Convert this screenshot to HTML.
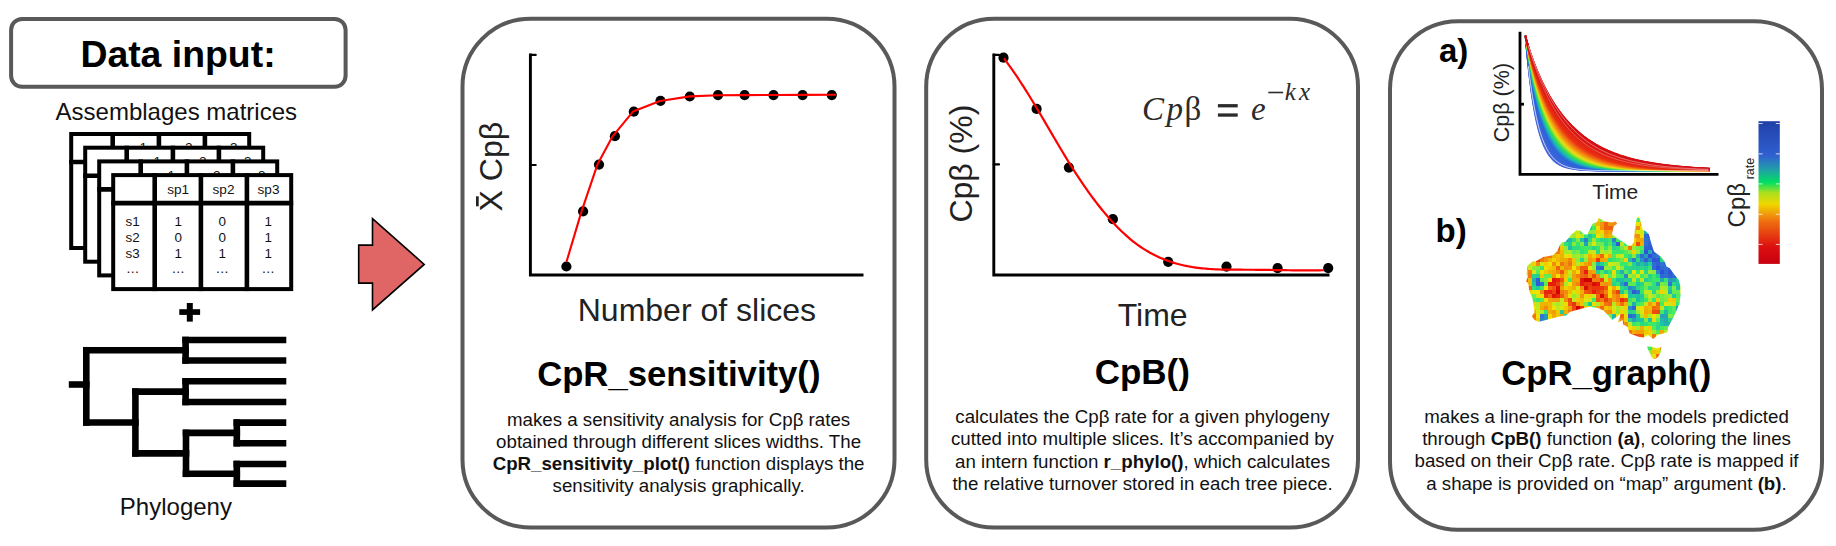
<!DOCTYPE html>
<html><head><meta charset="utf-8"><style>
html,body{margin:0;padding:0;background:#fff;width:1836px;height:546px;overflow:hidden}
svg{display:block}
text{font-family:"Liberation Sans",sans-serif}
.b{font-weight:bold}
</style></head><body>
<svg width="1836" height="546" viewBox="0 0 1836 546">
<rect width="1836" height="546" fill="#fff"/>

<rect x="11.1" y="18.9" width="334.5" height="67.9" rx="11" fill="none" stroke="#595959" stroke-width="4"/>
<text x="178" y="66.9" font-size="37.4" font-weight="bold" text-anchor="middle" fill="#000">Data input:</text>
<text x="176.3" y="119.8" font-size="24" text-anchor="middle" fill="#111">Assemblages matrices</text>
<rect x="71.2" y="134" width="178" height="114" fill="#fff" stroke="#000" stroke-width="4"/>
<text x="139.50000000000003" y="152.2" font-size="13.6" fill="#111">1</text>
<text x="184.9" y="152.2" font-size="13.6" fill="#111">2</text>
<text x="229.9" y="152.2" font-size="13.6" fill="#111">3</text>
<line x1="69.2" y1="162" x2="251.2" y2="162" stroke="#000" stroke-width="4.6"/>
<line x1="112.7" y1="132" x2="112.7" y2="250" stroke="#000" stroke-width="4.6"/>
<line x1="158.89999999999998" y1="132" x2="158.89999999999998" y2="250" stroke="#000" stroke-width="4.6"/>
<line x1="204.89999999999998" y1="132" x2="204.89999999999998" y2="250" stroke="#000" stroke-width="4.6"/>
<rect x="85.2" y="147.7" width="178" height="114" fill="#fff" stroke="#000" stroke-width="4"/>
<text x="153.50000000000003" y="165.89999999999998" font-size="13.6" fill="#111">1</text>
<text x="198.9" y="165.89999999999998" font-size="13.6" fill="#111">2</text>
<text x="243.9" y="165.89999999999998" font-size="13.6" fill="#111">3</text>
<line x1="83.2" y1="175.7" x2="265.2" y2="175.7" stroke="#000" stroke-width="4.6"/>
<line x1="126.7" y1="145.7" x2="126.7" y2="263.7" stroke="#000" stroke-width="4.6"/>
<line x1="172.89999999999998" y1="145.7" x2="172.89999999999998" y2="263.7" stroke="#000" stroke-width="4.6"/>
<line x1="218.89999999999998" y1="145.7" x2="218.89999999999998" y2="263.7" stroke="#000" stroke-width="4.6"/>
<rect x="99.2" y="161.4" width="178" height="114" fill="#fff" stroke="#000" stroke-width="4"/>
<text x="167.50000000000003" y="179.6" font-size="13.6" fill="#111">1</text>
<text x="212.9" y="179.6" font-size="13.6" fill="#111">2</text>
<text x="257.9" y="179.6" font-size="13.6" fill="#111">3</text>
<line x1="97.2" y1="189.4" x2="279.2" y2="189.4" stroke="#000" stroke-width="4.6"/>
<line x1="140.7" y1="159.4" x2="140.7" y2="277.4" stroke="#000" stroke-width="4.6"/>
<line x1="186.89999999999998" y1="159.4" x2="186.89999999999998" y2="277.4" stroke="#000" stroke-width="4.6"/>
<line x1="232.89999999999998" y1="159.4" x2="232.89999999999998" y2="277.4" stroke="#000" stroke-width="4.6"/>
<rect x="113.2" y="175.1" width="178" height="114" fill="#fff" stroke="#000" stroke-width="4"/>
<text x="178.10000000000002" y="193.79999999999998" font-size="13.6" text-anchor="middle" fill="#111">sp1</text>
<text x="223.5" y="193.79999999999998" font-size="13.6" text-anchor="middle" fill="#111">sp2</text>
<text x="268.5" y="193.79999999999998" font-size="13.6" text-anchor="middle" fill="#111">sp3</text>
<line x1="111.2" y1="203.1" x2="293.2" y2="203.1" stroke="#000" stroke-width="4.6"/>
<line x1="154.7" y1="173.1" x2="154.7" y2="291.1" stroke="#000" stroke-width="4.6"/>
<line x1="200.89999999999998" y1="173.1" x2="200.89999999999998" y2="291.1" stroke="#000" stroke-width="4.6"/>
<line x1="246.89999999999998" y1="173.1" x2="246.89999999999998" y2="291.1" stroke="#000" stroke-width="4.6"/>
<text x="132.60000000000002" y="225.5" font-size="13.4" text-anchor="middle" fill="#111">s1</text>
<text x="178.3" y="225.5" font-size="13.4" text-anchor="middle" fill="#111">1</text>
<text x="222.3" y="225.5" font-size="13.4" text-anchor="middle" fill="#111">0</text>
<text x="268.3" y="225.5" font-size="13.4" text-anchor="middle" fill="#111">1</text>
<text x="132.60000000000002" y="241.5" font-size="13.4" text-anchor="middle" fill="#111">s2</text>
<text x="178.3" y="241.5" font-size="13.4" text-anchor="middle" fill="#111">0</text>
<text x="222.3" y="241.5" font-size="13.4" text-anchor="middle" fill="#111">0</text>
<text x="268.3" y="241.5" font-size="13.4" text-anchor="middle" fill="#111">1</text>
<text x="132.60000000000002" y="257.5" font-size="13.4" text-anchor="middle" fill="#111">s3</text>
<text x="178.3" y="257.5" font-size="13.4" text-anchor="middle" fill="#111">1</text>
<text x="222.3" y="257.5" font-size="13.4" text-anchor="middle" fill="#111">1</text>
<text x="268.3" y="257.5" font-size="13.4" text-anchor="middle" fill="#111">1</text>
<text x="132.60000000000002" y="272.9" font-size="13.4" text-anchor="middle" fill="#111">…</text>
<text x="178.3" y="272.9" font-size="13.4" text-anchor="middle" fill="#111">…</text>
<text x="222.3" y="272.9" font-size="13.4" text-anchor="middle" fill="#111">…</text>
<text x="268.3" y="272.9" font-size="13.4" text-anchor="middle" fill="#111">…</text>
<rect x="179.3" y="309.2" width="20.8" height="5.7" fill="#000"/><rect x="186.8" y="303" width="6" height="18.6" fill="#000"/>
<g stroke="#000" stroke-width="6.6" stroke-linecap="square"><line x1="185.6" y1="340" x2="283" y2="340"/><line x1="185.6" y1="360.5" x2="283" y2="360.5"/><line x1="185.6" y1="340" x2="185.6" y2="360.5"/><line x1="185.6" y1="381.3" x2="283" y2="381.3"/><line x1="185.6" y1="402" x2="283" y2="402"/><line x1="185.6" y1="381.3" x2="185.6" y2="402"/><line x1="236.8" y1="422.6" x2="283" y2="422.6"/><line x1="236.8" y1="443.2" x2="283" y2="443.2"/><line x1="236.8" y1="422.6" x2="236.8" y2="443.2"/><line x1="236.8" y1="464" x2="283" y2="464"/><line x1="236.8" y1="483.6" x2="283" y2="483.6"/><line x1="236.8" y1="464" x2="236.8" y2="483.6"/><line x1="186" y1="432.9" x2="236.8" y2="432.9"/><line x1="186" y1="473.8" x2="236.8" y2="473.8"/><line x1="186" y1="432.9" x2="186" y2="473.8"/><line x1="135.4" y1="391.65" x2="185.6" y2="391.65"/><line x1="135.4" y1="453.35" x2="186" y2="453.35"/><line x1="135.4" y1="391.65" x2="135.4" y2="453.35"/><line x1="86.3" y1="350.25" x2="185.6" y2="350.25"/><line x1="86.3" y1="422.5" x2="135.4" y2="422.5"/><line x1="86.3" y1="350.25" x2="86.3" y2="422.5"/><line x1="72.1" y1="384.5" x2="86.3" y2="384.5"/></g>
<text x="175.9" y="514.8" font-size="24" text-anchor="middle" fill="#111">Phylogeny</text>
<polygon points="372.5,218.7 424.2,264.4 372.5,309.9 372.5,283.1 358.7,283.1 358.7,245.1 372.5,245.1" fill="#e06666" stroke="#000" stroke-width="1.6" stroke-linejoin="miter"/>
<rect x="462.5" y="18.7" width="432" height="508.9" rx="68" fill="none" stroke="#595959" stroke-width="4"/>
<rect x="926.2" y="18.7" width="431.8" height="508.9" rx="68" fill="none" stroke="#595959" stroke-width="4"/>
<rect x="1390" y="21.25" width="432" height="508.6" rx="68" fill="none" stroke="#595959" stroke-width="4"/>
<g stroke="#000" stroke-width="2.9" fill="none"><path d="M530.4,53.6 V275 H863.5"/></g><g stroke="#000" stroke-width="2.2" stroke-linecap="round"><line x1="530.4" y1="54.9" x2="535.7" y2="54.9"/><line x1="530.4" y1="165" x2="535.7" y2="165"/></g>
<g fill="#000"><circle cx="566.4" cy="266.5" r="5.1"/><circle cx="583.1" cy="211.4" r="5.1"/><circle cx="599" cy="164.6" r="5.1"/><circle cx="614.9" cy="136.2" r="5.1"/><circle cx="633.8" cy="111.7" r="5.1"/><circle cx="660.5" cy="100.8" r="5.1"/><circle cx="689.8" cy="96.5" r="5.1"/><circle cx="718" cy="95.1" r="5.1"/><circle cx="744.6" cy="95.1" r="5.1"/><circle cx="773.5" cy="95.1" r="5.1"/><circle cx="802.6" cy="95.1" r="5.1"/><circle cx="831.8" cy="95.1" r="5.1"/></g>
<polyline fill="none" stroke="#f00" stroke-width="2.1" stroke-linejoin="round" points="566.5,261.8 581.4,211.9 597.3,164.8 612.6,136.3 633.0,111.6 660.0,101.0 689.8,96.4 718.0,95.3 744.6,95.1 773.5,95.0 802.6,94.9 836.0,94.7"/>
<g transform="translate(501.6,211.4) rotate(-90)"><text x="0" y="0" font-size="32" fill="#222">X Cpβ</text><rect x="5.1" y="-25.6" width="10" height="2.7" fill="#222"/></g>
<text x="696.9" y="320.7" font-size="32" text-anchor="middle" fill="#222">Number of slices</text>
<text x="678.8" y="385.6" font-size="34.7" font-weight="bold" text-anchor="middle" fill="#000">CpR_sensitivity()</text>
<g font-size="18.7" text-anchor="middle" fill="#111"><text x="678.6" y="425.6">makes a sensitivity analysis for Cpβ rates</text><text x="678.6" y="447.8">obtained through different slices widths. The</text><text x="678.6" y="469.8"><tspan font-weight="bold">CpR_sensitivity_plot()</tspan> function displays the</text><text x="678.6" y="492.2">sensitivity analysis graphically.</text></g>
<g stroke="#000" stroke-width="2.9" fill="none"><path d="M993.8,53.6 V275 H1329.5"/></g><g stroke="#000" stroke-width="2.2" stroke-linecap="round"><line x1="993.8" y1="54.9" x2="999" y2="54.9"/><line x1="993.8" y1="164.4" x2="999" y2="164.4"/></g>
<g fill="#000"><circle cx="1003.5" cy="57.7" r="5.1"/><circle cx="1036.6" cy="108.9" r="5.1"/><circle cx="1068.9" cy="167.6" r="5.1"/><circle cx="1112.9" cy="219.2" r="5.1"/><circle cx="1168.2" cy="261.8" r="5.1"/><circle cx="1226.5" cy="266.6" r="5.1"/><circle cx="1277.6" cy="268.1" r="5.1"/><circle cx="1328.2" cy="268.1" r="5.1"/></g>
<polyline fill="none" stroke="#f00" stroke-width="2.2" stroke-linejoin="round" points="1004.0,58.44 1006.0,61.09 1008.0,63.81 1010.0,66.58 1012.0,69.41 1014.0,72.29 1016.0,75.23 1018.0,78.21 1020.0,81.24 1022.0,84.32 1024.0,87.43 1026.0,90.59 1028.0,93.79 1030.0,97.02 1032.0,100.28 1034.0,103.57 1036.0,106.90 1038.0,110.24 1040.0,113.61 1042.0,117.00 1044.0,120.40 1046.0,123.82 1048.0,127.24 1050.0,130.67 1052.0,134.09 1054.0,137.51 1056.0,140.92 1058.0,144.31 1060.0,147.69 1062.0,151.05 1064.0,154.38 1066.0,157.68 1068.0,160.95 1070.0,164.18 1072.0,167.38 1074.0,170.52 1076.0,173.63 1078.0,176.68 1080.0,179.70 1082.0,182.67 1084.0,185.59 1086.0,188.46 1088.0,191.29 1090.0,194.07 1092.0,196.80 1094.0,199.49 1096.0,202.12 1098.0,204.71 1100.0,207.24 1102.0,209.73 1104.0,212.16 1106.0,214.54 1108.0,216.87 1110.0,219.15 1112.0,221.38 1114.0,223.55 1116.0,225.66 1118.0,227.73 1120.0,229.73 1122.0,231.68 1124.0,233.57 1126.0,235.40 1128.0,237.17 1130.0,238.88 1132.0,240.53 1134.0,242.12 1136.0,243.64 1138.0,245.10 1140.0,246.50 1142.0,247.85 1144.0,249.14 1146.0,250.38 1148.0,251.56 1150.0,252.70 1152.0,253.78 1154.0,254.82 1156.0,255.82 1158.0,256.76 1160.0,257.67 1162.0,258.53 1164.0,259.35 1166.0,260.13 1168.0,260.86 1170.0,261.56 1172.0,262.22 1174.0,262.85 1176.0,263.44 1178.0,263.99 1180.0,264.51 1182.0,265.00 1184.0,265.45 1186.0,265.88 1188.0,266.28 1190.0,266.64 1192.0,266.98 1194.0,267.30 1196.0,267.59 1198.0,267.85 1200.0,268.10 1202.0,268.32 1204.0,268.51 1206.0,268.69 1208.0,268.85 1210.0,269.00 1212.0,269.12 1214.0,269.23 1216.0,269.33 1218.0,269.41 1220.0,269.48 1222.0,269.54 1224.0,269.59 1226.0,269.63 1228.0,269.66 1230.0,269.68 1232.0,269.70 1234.0,269.71 1236.0,269.72 1238.0,269.72 1240.0,269.72 1242.0,269.72 1244.0,269.73 1246.0,269.73 1248.0,269.74 1250.0,269.74 1252.0,269.76 1254.0,269.77 1256.0,269.79 1258.0,269.81 1260.0,269.83 1262.0,269.86 1264.0,269.88 1266.0,269.91 1268.0,269.94 1270.0,269.97 1272.0,270.00 1274.0,270.03 1276.0,270.06 1278.0,270.09 1280.0,270.12 1282.0,270.15 1284.0,270.18 1286.0,270.21 1288.0,270.24 1290.0,270.26 1292.0,270.29 1294.0,270.31 1296.0,270.33 1298.0,270.34 1300.0,270.36 1302.0,270.37 1304.0,270.37 1306.0,270.38 1308.0,270.38 1310.0,270.37 1312.0,270.36 1314.0,270.35 1316.0,270.33 1318.0,270.31 1320.0,270.28 1322.0,270.24 1324.0,270.20"/>
<g transform="translate(972.3,222.6) rotate(-90)"><text x="0" y="0" font-size="32" fill="#222">Cpβ (%)</text></g>
<text x="1152.7" y="325.7" font-size="32" text-anchor="middle" fill="#222">Time</text>
<g fill="#2b2b2b" style="font-family:'Liberation Serif',serif"><text x="1142.1" y="119.6" font-size="33" style="font-family:'Liberation Serif',serif;font-style:italic">C</text><text x="1166.6" y="119.6" font-size="33" style="font-family:'Liberation Serif',serif;font-style:italic">p</text><text x="1184.4" y="119.6" font-size="33" style="font-family:'Liberation Serif',serif">β</text><rect x="1217.9" y="104.1" width="19.8" height="3.3"/><rect x="1217.9" y="113.4" width="19.8" height="3.3"/><text x="1251" y="119.6" font-size="33" style="font-family:'Liberation Serif',serif;font-style:italic">e</text><rect x="1268.3" y="91.7" width="14.8" height="1.6"/><text x="1284.7" y="99.7" font-size="25" style="font-family:'Liberation Serif',serif;font-style:italic">k</text><text x="1298.9" y="99.7" font-size="25" style="font-family:'Liberation Serif',serif;font-style:italic">x</text></g>
<text x="1142.3" y="384.4" font-size="35" font-weight="bold" text-anchor="middle" fill="#000">CpB()</text>
<g font-size="18.7" text-anchor="middle" fill="#111"><text x="1142.5" y="423">calculates the Cpβ rate for a given phylogeny</text><text x="1142.5" y="445.4">cutted into multiple slices. It’s accompanied by</text><text x="1142.5" y="467.7">an intern function <tspan font-weight="bold">r_phylo()</tspan>, which calculates</text><text x="1142.5" y="490">the relative turnover stored in each tree piece.</text></g>
<text x="1439" y="61.9" font-size="33" font-weight="bold" fill="#000">a)</text>
<text x="1435.5" y="242" font-size="33" font-weight="bold" fill="#000">b)</text>
<g fill="none" stroke-width="1.4"><polyline points="1525.4,35.80 1526.4,47.63 1527.4,58.43 1528.4,68.28 1529.4,77.27 1530.4,85.47 1531.4,92.95 1532.4,99.77 1533.4,106.00 1534.4,111.68 1535.4,116.86 1536.4,121.59 1537.4,125.90 1538.4,129.84 1539.4,133.43 1540.4,136.71 1541.4,139.69 1542.4,142.42 1543.4,144.91 1544.4,147.18 1545.4,149.25 1546.4,151.14 1547.4,152.86 1548.4,154.43 1549.4,155.87 1550.4,157.18 1551.4,158.37 1552.4,159.46 1553.4,160.46 1554.4,161.36 1555.4,162.19 1556.4,162.94 1557.4,163.63 1558.4,164.26 1559.4,164.83 1560.0,165.15 1563.0,166.51 1566.0,167.54 1569.0,168.33 1572.0,168.92 1575.0,169.37 1578.0,169.72 1581.0,169.98 1584.0,170.18 1587.0,170.33 1590.0,170.44 1593.0,170.53 1596.0,170.59 1599.0,170.64 1602.0,170.68 1605.0,170.71 1608.0,170.73 1611.0,170.75 1614.0,170.76 1617.0,170.77 1620.0,170.78 1623.0,170.78 1626.0,170.79 1629.0,170.79 1632.0,170.79 1635.0,170.79 1638.0,170.80 1641.0,170.80 1644.0,170.80 1647.0,170.80 1650.0,170.80 1653.0,170.80 1656.0,170.80 1659.0,170.80 1662.0,170.80 1665.0,170.80 1668.0,170.80 1671.0,170.80 1674.0,170.80 1677.0,170.80 1680.0,170.80 1683.0,170.80 1686.0,170.80 1689.0,170.80 1692.0,170.80 1695.0,170.80 1698.0,170.80 1701.0,170.80 1704.0,170.80 1707.0,170.80 1710.0,170.80" stroke="rgb(70,100,215)"/><polyline points="1525.4,35.80 1526.4,47.29 1527.4,57.80 1528.4,67.41 1529.4,76.21 1530.4,84.25 1531.4,91.61 1532.4,98.34 1533.4,104.50 1534.4,110.13 1535.4,115.29 1536.4,120.01 1537.4,124.33 1538.4,128.27 1539.4,131.89 1540.4,135.19 1541.4,138.22 1542.4,140.99 1543.4,143.52 1544.4,145.84 1545.4,147.96 1546.4,149.90 1547.4,151.68 1548.4,153.30 1549.4,154.79 1550.4,156.15 1551.4,157.39 1552.4,158.53 1553.4,159.57 1554.4,160.53 1555.4,161.40 1556.4,162.20 1557.4,162.93 1558.4,163.60 1559.4,164.21 1560.0,164.55 1563.0,166.01 1566.0,167.13 1569.0,167.99 1572.0,168.65 1575.0,169.15 1578.0,169.54 1581.0,169.83 1584.0,170.06 1587.0,170.23 1590.0,170.36 1593.0,170.47 1596.0,170.54 1599.0,170.60 1602.0,170.65 1605.0,170.68 1608.0,170.71 1611.0,170.73 1614.0,170.75 1617.0,170.76 1620.0,170.77 1623.0,170.78 1626.0,170.78 1629.0,170.79 1632.0,170.79 1635.0,170.79 1638.0,170.79 1641.0,170.80 1644.0,170.80 1647.0,170.80 1650.0,170.80 1653.0,170.80 1656.0,170.80 1659.0,170.80 1662.0,170.80 1665.0,170.80 1668.0,170.80 1671.0,170.80 1674.0,170.80 1677.0,170.80 1680.0,170.80 1683.0,170.80 1686.0,170.80 1689.0,170.80 1692.0,170.80 1695.0,170.80 1698.0,170.80 1701.0,170.80 1704.0,170.80 1707.0,170.80 1710.0,170.80" stroke="rgb(68,100,215)"/><polyline points="1525.4,35.80 1526.4,46.97 1527.4,57.21 1528.4,66.59 1529.4,75.20 1530.4,83.09 1531.4,90.33 1532.4,96.97 1533.4,103.06 1534.4,108.65 1535.4,113.78 1536.4,118.48 1537.4,122.79 1538.4,126.75 1539.4,130.38 1540.4,133.72 1541.4,136.77 1542.4,139.58 1543.4,142.15 1544.4,144.51 1545.4,146.68 1546.4,148.67 1547.4,150.49 1548.4,152.17 1549.4,153.70 1550.4,155.11 1551.4,156.40 1552.4,157.59 1553.4,158.68 1554.4,159.68 1555.4,160.59 1556.4,161.43 1557.4,162.21 1558.4,162.91 1559.4,163.56 1560.0,163.93 1563.0,165.49 1566.0,166.70 1569.0,167.63 1572.0,168.35 1575.0,168.91 1578.0,169.34 1581.0,169.67 1584.0,169.93 1587.0,170.12 1590.0,170.28 1593.0,170.40 1596.0,170.49 1599.0,170.56 1602.0,170.61 1605.0,170.66 1608.0,170.69 1611.0,170.71 1614.0,170.73 1617.0,170.75 1620.0,170.76 1623.0,170.77 1626.0,170.78 1629.0,170.78 1632.0,170.79 1635.0,170.79 1638.0,170.79 1641.0,170.79 1644.0,170.79 1647.0,170.80 1650.0,170.80 1653.0,170.80 1656.0,170.80 1659.0,170.80 1662.0,170.80 1665.0,170.80 1668.0,170.80 1671.0,170.80 1674.0,170.80 1677.0,170.80 1680.0,170.80 1683.0,170.80 1686.0,170.80 1689.0,170.80 1692.0,170.80 1695.0,170.80 1698.0,170.80 1701.0,170.80 1704.0,170.80 1707.0,170.80 1710.0,170.80" stroke="rgb(66,100,215)"/><polyline points="1525.4,35.80 1526.4,46.67 1527.4,56.65 1528.4,65.81 1529.4,74.24 1530.4,81.99 1531.4,89.11 1532.4,95.66 1533.4,101.68 1534.4,107.22 1535.4,112.31 1536.4,117.00 1537.4,121.31 1538.4,125.27 1539.4,128.92 1540.4,132.27 1541.4,135.36 1542.4,138.19 1543.4,140.80 1544.4,143.20 1545.4,145.41 1546.4,147.44 1547.4,149.31 1548.4,151.03 1549.4,152.61 1550.4,154.07 1551.4,155.41 1552.4,156.64 1553.4,157.77 1554.4,158.81 1555.4,159.77 1556.4,160.65 1557.4,161.46 1558.4,162.21 1559.4,162.90 1560.0,163.28 1563.0,164.95 1566.0,166.24 1569.0,167.25 1572.0,168.03 1575.0,168.65 1578.0,169.12 1581.0,169.49 1584.0,169.78 1587.0,170.01 1590.0,170.18 1593.0,170.32 1596.0,170.43 1599.0,170.51 1602.0,170.57 1605.0,170.62 1608.0,170.66 1611.0,170.69 1614.0,170.72 1617.0,170.73 1620.0,170.75 1623.0,170.76 1626.0,170.77 1629.0,170.78 1632.0,170.78 1635.0,170.79 1638.0,170.79 1641.0,170.79 1644.0,170.79 1647.0,170.79 1650.0,170.80 1653.0,170.80 1656.0,170.80 1659.0,170.80 1662.0,170.80 1665.0,170.80 1668.0,170.80 1671.0,170.80 1674.0,170.80 1677.0,170.80 1680.0,170.80 1683.0,170.80 1686.0,170.80 1689.0,170.80 1692.0,170.80 1695.0,170.80 1698.0,170.80 1701.0,170.80 1704.0,170.80 1707.0,170.80 1710.0,170.80" stroke="rgb(65,100,215)"/><polyline points="1525.4,35.80 1526.4,46.39 1527.4,56.12 1528.4,65.08 1529.4,73.33 1530.4,80.93 1531.4,87.94 1532.4,94.40 1533.4,100.36 1534.4,105.84 1535.4,110.90 1536.4,115.57 1537.4,119.87 1538.4,123.83 1539.4,127.49 1540.4,130.86 1541.4,133.97 1542.4,136.83 1543.4,139.47 1544.4,141.91 1545.4,144.16 1546.4,146.23 1547.4,148.14 1548.4,149.90 1549.4,151.53 1550.4,153.02 1551.4,154.41 1552.4,155.68 1553.4,156.85 1554.4,157.94 1555.4,158.94 1556.4,159.86 1557.4,160.71 1558.4,161.49 1559.4,162.22 1560.0,162.62 1563.0,164.38 1566.0,165.77 1569.0,166.85 1572.0,167.70 1575.0,168.37 1578.0,168.89 1581.0,169.30 1584.0,169.62 1587.0,169.88 1590.0,170.08 1593.0,170.23 1596.0,170.35 1599.0,170.45 1602.0,170.53 1605.0,170.58 1608.0,170.63 1611.0,170.67 1614.0,170.70 1617.0,170.72 1620.0,170.74 1623.0,170.75 1626.0,170.76 1629.0,170.77 1632.0,170.78 1635.0,170.78 1638.0,170.78 1641.0,170.79 1644.0,170.79 1647.0,170.79 1650.0,170.79 1653.0,170.80 1656.0,170.80 1659.0,170.80 1662.0,170.80 1665.0,170.80 1668.0,170.80 1671.0,170.80 1674.0,170.80 1677.0,170.80 1680.0,170.80 1683.0,170.80 1686.0,170.80 1689.0,170.80 1692.0,170.80 1695.0,170.80 1698.0,170.80 1701.0,170.80 1704.0,170.80 1707.0,170.80 1710.0,170.80" stroke="rgb(63,100,216)"/><polyline points="1525.4,35.80 1526.4,46.12 1527.4,55.62 1528.4,64.38 1529.4,72.46 1530.4,79.93 1531.4,86.83 1532.4,93.20 1533.4,99.08 1534.4,104.52 1535.4,109.54 1536.4,114.18 1537.4,118.47 1538.4,122.43 1539.4,126.09 1540.4,129.48 1541.4,132.61 1542.4,135.50 1543.4,138.17 1544.4,140.64 1545.4,142.92 1546.4,145.03 1547.4,146.97 1548.4,148.78 1549.4,150.44 1550.4,151.98 1551.4,153.40 1552.4,154.72 1553.4,155.93 1554.4,157.06 1555.4,158.09 1556.4,159.05 1557.4,159.94 1558.4,160.76 1559.4,161.52 1560.0,161.95 1563.0,163.80 1566.0,165.27 1569.0,166.43 1572.0,167.35 1575.0,168.07 1578.0,168.64 1581.0,169.10 1584.0,169.45 1587.0,169.74 1590.0,169.96 1593.0,170.13 1596.0,170.27 1599.0,170.38 1602.0,170.47 1605.0,170.54 1608.0,170.59 1611.0,170.64 1614.0,170.67 1617.0,170.70 1620.0,170.72 1623.0,170.74 1626.0,170.75 1629.0,170.76 1632.0,170.77 1635.0,170.78 1638.0,170.78 1641.0,170.78 1644.0,170.79 1647.0,170.79 1650.0,170.79 1653.0,170.79 1656.0,170.80 1659.0,170.80 1662.0,170.80 1665.0,170.80 1668.0,170.80 1671.0,170.80 1674.0,170.80 1677.0,170.80 1680.0,170.80 1683.0,170.80 1686.0,170.80 1689.0,170.80 1692.0,170.80 1695.0,170.80 1698.0,170.80 1701.0,170.80 1704.0,170.80 1707.0,170.80 1710.0,170.80" stroke="rgb(61,100,216)"/><polyline points="1525.4,35.80 1526.4,45.87 1527.4,55.14 1528.4,63.71 1529.4,71.64 1530.4,78.97 1531.4,85.76 1532.4,92.04 1533.4,97.86 1534.4,103.24 1535.4,108.23 1536.4,112.84 1537.4,117.11 1538.4,121.07 1539.4,124.74 1540.4,128.13 1541.4,131.27 1542.4,134.19 1543.4,136.88 1544.4,139.38 1545.4,141.69 1546.4,143.83 1547.4,145.82 1548.4,147.66 1549.4,149.36 1550.4,150.94 1551.4,152.40 1552.4,153.75 1553.4,155.00 1554.4,156.17 1555.4,157.24 1556.4,158.24 1557.4,159.16 1558.4,160.02 1559.4,160.81 1560.0,161.26 1563.0,163.21 1566.0,164.76 1569.0,166.00 1572.0,166.98 1575.0,167.76 1578.0,168.38 1581.0,168.88 1584.0,169.27 1587.0,169.58 1590.0,169.83 1593.0,170.03 1596.0,170.19 1599.0,170.31 1602.0,170.41 1605.0,170.49 1608.0,170.55 1611.0,170.60 1614.0,170.64 1617.0,170.68 1620.0,170.70 1623.0,170.72 1626.0,170.74 1629.0,170.75 1632.0,170.76 1635.0,170.77 1638.0,170.77 1641.0,170.78 1644.0,170.78 1647.0,170.79 1650.0,170.79 1653.0,170.79 1656.0,170.79 1659.0,170.79 1662.0,170.80 1665.0,170.80 1668.0,170.80 1671.0,170.80 1674.0,170.80 1677.0,170.80 1680.0,170.80 1683.0,170.80 1686.0,170.80 1689.0,170.80 1692.0,170.80 1695.0,170.80 1698.0,170.80 1701.0,170.80 1704.0,170.80 1707.0,170.80 1710.0,170.80" stroke="rgb(60,100,216)"/><polyline points="1525.4,35.80 1526.4,45.63 1527.4,54.69 1528.4,63.08 1529.4,70.85 1530.4,78.06 1531.4,84.74 1532.4,90.93 1533.4,96.68 1534.4,102.01 1535.4,106.96 1536.4,111.54 1537.4,115.80 1538.4,119.75 1539.4,123.41 1540.4,126.82 1541.4,129.97 1542.4,132.90 1543.4,135.62 1544.4,138.14 1545.4,140.48 1546.4,142.66 1547.4,144.67 1548.4,146.54 1549.4,148.28 1550.4,149.90 1551.4,151.39 1552.4,152.78 1553.4,154.07 1554.4,155.27 1555.4,156.38 1556.4,157.41 1557.4,158.37 1558.4,159.26 1559.4,160.09 1560.0,160.55 1563.0,162.60 1566.0,164.23 1569.0,165.54 1572.0,166.59 1575.0,167.43 1578.0,168.10 1581.0,168.64 1584.0,169.07 1587.0,169.42 1590.0,169.69 1593.0,169.91 1596.0,170.09 1599.0,170.23 1602.0,170.34 1605.0,170.43 1608.0,170.51 1611.0,170.57 1614.0,170.61 1617.0,170.65 1620.0,170.68 1623.0,170.70 1626.0,170.72 1629.0,170.74 1632.0,170.75 1635.0,170.76 1638.0,170.77 1641.0,170.77 1644.0,170.78 1647.0,170.78 1650.0,170.79 1653.0,170.79 1656.0,170.79 1659.0,170.79 1662.0,170.79 1665.0,170.80 1668.0,170.80 1671.0,170.80 1674.0,170.80 1677.0,170.80 1680.0,170.80 1683.0,170.80 1686.0,170.80 1689.0,170.80 1692.0,170.80 1695.0,170.80 1698.0,170.80 1701.0,170.80 1704.0,170.80 1707.0,170.80 1710.0,170.80" stroke="rgb(58,100,217)"/><polyline points="1525.4,35.80 1526.4,45.40 1527.4,54.26 1528.4,62.47 1529.4,70.10 1530.4,77.18 1531.4,83.76 1532.4,89.87 1533.4,95.55 1534.4,100.82 1535.4,105.73 1536.4,110.29 1537.4,114.52 1538.4,118.46 1539.4,122.13 1540.4,125.53 1541.4,128.70 1542.4,131.64 1543.4,134.38 1544.4,136.92 1545.4,139.29 1546.4,141.49 1547.4,143.54 1548.4,145.44 1549.4,147.21 1550.4,148.86 1551.4,150.39 1552.4,151.81 1553.4,153.14 1554.4,154.37 1555.4,155.52 1556.4,156.58 1557.4,157.57 1558.4,158.50 1559.4,159.35 1560.0,159.84 1563.0,161.97 1566.0,163.69 1569.0,165.08 1572.0,166.19 1575.0,167.09 1578.0,167.81 1581.0,168.39 1584.0,168.86 1587.0,169.24 1590.0,169.54 1593.0,169.79 1596.0,169.98 1599.0,170.14 1602.0,170.27 1605.0,170.37 1608.0,170.46 1611.0,170.52 1614.0,170.58 1617.0,170.62 1620.0,170.65 1623.0,170.68 1626.0,170.71 1629.0,170.72 1632.0,170.74 1635.0,170.75 1638.0,170.76 1641.0,170.77 1644.0,170.77 1647.0,170.78 1650.0,170.78 1653.0,170.79 1656.0,170.79 1659.0,170.79 1662.0,170.79 1665.0,170.79 1668.0,170.80 1671.0,170.80 1674.0,170.80 1677.0,170.80 1680.0,170.80 1683.0,170.80 1686.0,170.80 1689.0,170.80 1692.0,170.80 1695.0,170.80 1698.0,170.80 1701.0,170.80 1704.0,170.80 1707.0,170.80 1710.0,170.80" stroke="rgb(56,100,217)"/><polyline points="1525.4,35.80 1526.4,45.18 1527.4,53.85 1528.4,61.90 1529.4,69.38 1530.4,76.34 1531.4,82.82 1532.4,88.84 1533.4,94.45 1534.4,99.68 1535.4,104.54 1536.4,109.07 1537.4,113.29 1538.4,117.21 1539.4,120.87 1540.4,124.28 1541.4,127.45 1542.4,130.41 1543.4,133.16 1544.4,135.73 1545.4,138.12 1546.4,140.34 1547.4,142.42 1548.4,144.35 1549.4,146.15 1550.4,147.83 1551.4,149.39 1552.4,150.85 1553.4,152.21 1554.4,153.47 1555.4,154.65 1556.4,155.75 1557.4,156.77 1558.4,157.72 1559.4,158.61 1560.0,159.12 1563.0,161.34 1566.0,163.14 1569.0,164.60 1572.0,165.77 1575.0,166.73 1578.0,167.50 1581.0,168.13 1584.0,168.64 1587.0,169.05 1590.0,169.38 1593.0,169.65 1596.0,169.87 1599.0,170.04 1602.0,170.19 1605.0,170.30 1608.0,170.40 1611.0,170.47 1614.0,170.54 1617.0,170.59 1620.0,170.63 1623.0,170.66 1626.0,170.69 1629.0,170.71 1632.0,170.73 1635.0,170.74 1638.0,170.75 1641.0,170.76 1644.0,170.77 1647.0,170.77 1650.0,170.78 1653.0,170.78 1656.0,170.79 1659.0,170.79 1662.0,170.79 1665.0,170.79 1668.0,170.79 1671.0,170.80 1674.0,170.80 1677.0,170.80 1680.0,170.80 1683.0,170.80 1686.0,170.80 1689.0,170.80 1692.0,170.80 1695.0,170.80 1698.0,170.80 1701.0,170.80 1704.0,170.80 1707.0,170.80 1710.0,170.80" stroke="rgb(55,100,217)"/><polyline points="1525.4,35.80 1526.4,44.97 1527.4,53.46 1528.4,61.35 1529.4,68.69 1530.4,75.54 1531.4,81.91 1532.4,87.86 1533.4,93.40 1534.4,98.57 1535.4,103.39 1536.4,107.89 1537.4,112.08 1538.4,116.00 1539.4,119.65 1540.4,123.06 1541.4,126.23 1542.4,129.20 1543.4,131.97 1544.4,134.55 1545.4,136.96 1546.4,139.21 1547.4,141.31 1548.4,143.27 1549.4,145.10 1550.4,146.80 1551.4,148.40 1552.4,149.88 1553.4,151.27 1554.4,152.57 1555.4,153.78 1556.4,154.91 1557.4,155.96 1558.4,156.94 1559.4,157.86 1560.0,158.38 1563.0,160.69 1566.0,162.57 1569.0,164.10 1572.0,165.34 1575.0,166.36 1578.0,167.18 1581.0,167.85 1584.0,168.40 1587.0,168.84 1590.0,169.21 1593.0,169.50 1596.0,169.74 1599.0,169.94 1602.0,170.10 1605.0,170.23 1608.0,170.33 1611.0,170.42 1614.0,170.49 1617.0,170.55 1620.0,170.59 1623.0,170.63 1626.0,170.66 1629.0,170.69 1632.0,170.71 1635.0,170.73 1638.0,170.74 1641.0,170.75 1644.0,170.76 1647.0,170.77 1650.0,170.77 1653.0,170.78 1656.0,170.78 1659.0,170.79 1662.0,170.79 1665.0,170.79 1668.0,170.79 1671.0,170.79 1674.0,170.79 1677.0,170.80 1680.0,170.80 1683.0,170.80 1686.0,170.80 1689.0,170.80 1692.0,170.80 1695.0,170.80 1698.0,170.80 1701.0,170.80 1704.0,170.80 1707.0,170.80 1710.0,170.80" stroke="rgb(53,100,218)"/><polyline points="1525.4,35.80 1526.4,44.77 1527.4,53.08 1528.4,60.82 1529.4,68.03 1530.4,74.76 1531.4,81.05 1532.4,86.91 1533.4,92.39 1534.4,97.50 1535.4,102.28 1536.4,106.75 1537.4,110.92 1538.4,114.82 1539.4,118.46 1540.4,121.86 1541.4,125.04 1542.4,128.02 1543.4,130.80 1544.4,133.39 1545.4,135.82 1546.4,138.09 1547.4,140.21 1548.4,142.20 1549.4,144.05 1550.4,145.79 1551.4,147.41 1552.4,148.92 1553.4,150.34 1554.4,151.67 1555.4,152.91 1556.4,154.06 1557.4,155.15 1558.4,156.16 1559.4,157.11 1560.0,157.65 1563.0,160.04 1566.0,161.99 1569.0,163.59 1572.0,164.90 1575.0,165.97 1578.0,166.85 1581.0,167.56 1584.0,168.15 1587.0,168.63 1590.0,169.02 1593.0,169.35 1596.0,169.61 1599.0,169.82 1602.0,170.00 1605.0,170.15 1608.0,170.26 1611.0,170.36 1614.0,170.44 1617.0,170.51 1620.0,170.56 1623.0,170.60 1626.0,170.64 1629.0,170.67 1632.0,170.69 1635.0,170.71 1638.0,170.73 1641.0,170.74 1644.0,170.75 1647.0,170.76 1650.0,170.77 1653.0,170.77 1656.0,170.78 1659.0,170.78 1662.0,170.79 1665.0,170.79 1668.0,170.79 1671.0,170.79 1674.0,170.79 1677.0,170.79 1680.0,170.80 1683.0,170.80 1686.0,170.80 1689.0,170.80 1692.0,170.80 1695.0,170.80 1698.0,170.80 1701.0,170.80 1704.0,170.80 1707.0,170.80 1710.0,170.80" stroke="rgb(51,100,218)"/><polyline points="1525.4,35.80 1526.4,44.59 1527.4,52.73 1528.4,60.32 1529.4,67.40 1530.4,74.02 1531.4,80.21 1532.4,86.00 1533.4,91.41 1534.4,96.47 1535.4,101.21 1536.4,105.64 1537.4,109.79 1538.4,113.67 1539.4,117.30 1540.4,120.70 1541.4,123.88 1542.4,126.86 1543.4,129.65 1544.4,132.26 1545.4,134.70 1546.4,136.99 1547.4,139.13 1548.4,141.14 1549.4,143.02 1550.4,144.78 1551.4,146.43 1552.4,147.97 1553.4,149.41 1554.4,150.77 1555.4,152.03 1556.4,153.22 1557.4,154.33 1558.4,155.37 1559.4,156.35 1560.0,156.90 1563.0,159.37 1566.0,161.40 1569.0,163.07 1572.0,164.44 1575.0,165.57 1578.0,166.50 1581.0,167.26 1584.0,167.89 1587.0,168.41 1590.0,168.83 1593.0,169.18 1596.0,169.47 1599.0,169.70 1602.0,169.90 1605.0,170.06 1608.0,170.19 1611.0,170.30 1614.0,170.39 1617.0,170.46 1620.0,170.52 1623.0,170.57 1626.0,170.61 1629.0,170.64 1632.0,170.67 1635.0,170.69 1638.0,170.71 1641.0,170.73 1644.0,170.74 1647.0,170.75 1650.0,170.76 1653.0,170.77 1656.0,170.77 1659.0,170.78 1662.0,170.78 1665.0,170.78 1668.0,170.79 1671.0,170.79 1674.0,170.79 1677.0,170.79 1680.0,170.79 1683.0,170.80 1686.0,170.80 1689.0,170.80 1692.0,170.80 1695.0,170.80 1698.0,170.80 1701.0,170.80 1704.0,170.80 1707.0,170.80 1710.0,170.80" stroke="rgb(50,100,218)"/><polyline points="1525.4,35.80 1526.4,44.41 1527.4,52.39 1528.4,59.83 1529.4,66.80 1530.4,73.31 1531.4,79.41 1532.4,85.12 1533.4,90.47 1534.4,95.47 1535.4,100.17 1536.4,104.57 1537.4,108.69 1538.4,112.55 1539.4,116.17 1540.4,119.56 1541.4,122.74 1542.4,125.73 1543.4,128.52 1544.4,131.14 1545.4,133.60 1546.4,135.91 1547.4,138.07 1548.4,140.10 1549.4,142.00 1550.4,143.78 1551.4,145.45 1552.4,147.02 1553.4,148.49 1554.4,149.87 1555.4,151.16 1556.4,152.38 1557.4,153.51 1558.4,154.58 1559.4,155.58 1560.0,156.15 1563.0,158.70 1566.0,160.81 1569.0,162.54 1572.0,163.98 1575.0,165.16 1578.0,166.14 1581.0,166.95 1584.0,167.62 1587.0,168.17 1590.0,168.62 1593.0,169.00 1596.0,169.31 1599.0,169.57 1602.0,169.78 1605.0,169.96 1608.0,170.10 1611.0,170.23 1614.0,170.32 1617.0,170.41 1620.0,170.47 1623.0,170.53 1626.0,170.58 1629.0,170.62 1632.0,170.65 1635.0,170.67 1638.0,170.70 1641.0,170.71 1644.0,170.73 1647.0,170.74 1650.0,170.75 1653.0,170.76 1656.0,170.77 1659.0,170.77 1662.0,170.78 1665.0,170.78 1668.0,170.78 1671.0,170.79 1674.0,170.79 1677.0,170.79 1680.0,170.79 1683.0,170.79 1686.0,170.79 1689.0,170.80 1692.0,170.80 1695.0,170.80 1698.0,170.80 1701.0,170.80 1704.0,170.80 1707.0,170.80 1710.0,170.80" stroke="rgb(48,100,219)"/><polyline points="1525.4,35.80 1526.4,44.24 1527.4,52.06 1528.4,59.37 1529.4,66.22 1530.4,72.63 1531.4,78.64 1532.4,84.27 1533.4,89.55 1534.4,94.51 1535.4,99.16 1536.4,103.52 1537.4,107.62 1538.4,111.46 1539.4,115.07 1540.4,118.45 1541.4,121.63 1542.4,124.62 1543.4,127.42 1544.4,130.05 1545.4,132.52 1546.4,134.84 1547.4,137.02 1548.4,139.06 1549.4,140.99 1550.4,142.79 1551.4,144.48 1552.4,146.08 1553.4,147.57 1554.4,148.97 1555.4,150.29 1556.4,151.53 1557.4,152.70 1558.4,153.79 1559.4,154.82 1560.0,155.40 1563.0,158.02 1566.0,160.20 1569.0,162.00 1572.0,163.50 1575.0,164.74 1578.0,165.77 1581.0,166.62 1584.0,167.33 1587.0,167.92 1590.0,168.41 1593.0,168.81 1596.0,169.15 1599.0,169.43 1602.0,169.66 1605.0,169.86 1608.0,170.02 1611.0,170.15 1614.0,170.26 1617.0,170.35 1620.0,170.43 1623.0,170.49 1626.0,170.54 1629.0,170.59 1632.0,170.62 1635.0,170.65 1638.0,170.68 1641.0,170.70 1644.0,170.71 1647.0,170.73 1650.0,170.74 1653.0,170.75 1656.0,170.76 1659.0,170.77 1662.0,170.77 1665.0,170.78 1668.0,170.78 1671.0,170.78 1674.0,170.79 1677.0,170.79 1680.0,170.79 1683.0,170.79 1686.0,170.79 1689.0,170.79 1692.0,170.80 1695.0,170.80 1698.0,170.80 1701.0,170.80 1704.0,170.80 1707.0,170.80 1710.0,170.80" stroke="rgb(46,100,219)"/><polyline points="1525.4,35.80 1526.4,44.07 1527.4,51.75 1528.4,58.93 1529.4,65.66 1530.4,71.97 1531.4,77.89 1532.4,83.45 1533.4,88.67 1534.4,93.58 1535.4,98.18 1536.4,102.51 1537.4,106.58 1538.4,110.40 1539.4,114.00 1540.4,117.37 1541.4,120.55 1542.4,123.53 1543.4,126.34 1544.4,128.98 1545.4,131.46 1546.4,133.79 1547.4,135.98 1548.4,138.05 1549.4,139.99 1550.4,141.81 1551.4,143.53 1552.4,145.14 1553.4,146.66 1554.4,148.08 1555.4,149.43 1556.4,150.69 1557.4,151.88 1558.4,153.00 1559.4,154.05 1560.0,154.65 1563.0,157.34 1566.0,159.59 1569.0,161.45 1572.0,163.01 1575.0,164.31 1578.0,165.39 1581.0,166.29 1584.0,167.04 1587.0,167.66 1590.0,168.18 1593.0,168.62 1596.0,168.98 1599.0,169.28 1602.0,169.53 1605.0,169.74 1608.0,169.92 1611.0,170.06 1614.0,170.19 1617.0,170.29 1620.0,170.37 1623.0,170.44 1626.0,170.50 1629.0,170.55 1632.0,170.59 1635.0,170.63 1638.0,170.66 1641.0,170.68 1644.0,170.70 1647.0,170.72 1650.0,170.73 1653.0,170.74 1656.0,170.75 1659.0,170.76 1662.0,170.77 1665.0,170.77 1668.0,170.78 1671.0,170.78 1674.0,170.78 1677.0,170.79 1680.0,170.79 1683.0,170.79 1686.0,170.79 1689.0,170.79 1692.0,170.79 1695.0,170.80 1698.0,170.80 1701.0,170.80 1704.0,170.80 1707.0,170.80 1710.0,170.80" stroke="rgb(45,100,219)"/><polyline points="1525.4,35.80 1526.4,43.91 1527.4,51.45 1528.4,58.50 1529.4,65.12 1530.4,71.34 1531.4,77.17 1532.4,82.66 1533.4,87.82 1534.4,92.67 1535.4,97.24 1536.4,101.53 1537.4,105.57 1538.4,109.37 1539.4,112.95 1540.4,116.32 1541.4,119.49 1542.4,122.47 1543.4,125.28 1544.4,127.92 1545.4,130.41 1546.4,132.76 1547.4,134.96 1548.4,137.04 1549.4,139.00 1550.4,140.84 1551.4,142.58 1552.4,144.21 1553.4,145.75 1554.4,147.20 1555.4,148.56 1556.4,149.85 1557.4,151.06 1558.4,152.20 1559.4,153.28 1560.0,153.89 1563.0,156.65 1566.0,158.96 1569.0,160.90 1572.0,162.51 1575.0,163.86 1578.0,164.99 1581.0,165.94 1584.0,166.73 1587.0,167.39 1590.0,167.95 1593.0,168.41 1596.0,168.80 1599.0,169.12 1602.0,169.40 1605.0,169.62 1608.0,169.82 1611.0,169.98 1614.0,170.11 1617.0,170.22 1620.0,170.31 1623.0,170.39 1626.0,170.46 1629.0,170.51 1632.0,170.56 1635.0,170.60 1638.0,170.63 1641.0,170.66 1644.0,170.68 1647.0,170.70 1650.0,170.72 1653.0,170.73 1656.0,170.74 1659.0,170.75 1662.0,170.76 1665.0,170.77 1668.0,170.77 1671.0,170.78 1674.0,170.78 1677.0,170.78 1680.0,170.79 1683.0,170.79 1686.0,170.79 1689.0,170.79 1692.0,170.79 1695.0,170.79 1698.0,170.80 1701.0,170.80 1704.0,170.80 1707.0,170.80 1710.0,170.80" stroke="rgb(43,110,215)"/><polyline points="1525.4,35.80 1526.4,43.76 1527.4,51.16 1528.4,58.09 1529.4,64.61 1530.4,70.73 1531.4,76.48 1532.4,81.90 1533.4,87.00 1534.4,91.80 1535.4,96.32 1536.4,100.58 1537.4,104.59 1538.4,108.37 1539.4,111.93 1540.4,115.29 1541.4,118.45 1542.4,121.43 1543.4,124.24 1544.4,126.89 1545.4,129.39 1546.4,131.74 1547.4,133.96 1548.4,136.05 1549.4,138.02 1550.4,139.88 1551.4,141.64 1552.4,143.29 1553.4,144.85 1554.4,146.32 1555.4,147.71 1556.4,149.01 1557.4,150.25 1558.4,151.41 1559.4,152.51 1560.0,153.13 1563.0,155.96 1566.0,158.34 1569.0,160.33 1572.0,162.01 1575.0,163.41 1578.0,164.59 1581.0,165.58 1584.0,166.41 1587.0,167.11 1590.0,167.70 1593.0,168.20 1596.0,168.61 1599.0,168.96 1602.0,169.25 1605.0,169.50 1608.0,169.71 1611.0,169.88 1614.0,170.03 1617.0,170.15 1620.0,170.25 1623.0,170.34 1626.0,170.41 1629.0,170.47 1632.0,170.53 1635.0,170.57 1638.0,170.61 1641.0,170.64 1644.0,170.66 1647.0,170.68 1650.0,170.70 1653.0,170.72 1656.0,170.73 1659.0,170.74 1662.0,170.75 1665.0,170.76 1668.0,170.77 1671.0,170.77 1674.0,170.78 1677.0,170.78 1680.0,170.78 1683.0,170.79 1686.0,170.79 1689.0,170.79 1692.0,170.79 1695.0,170.79 1698.0,170.79 1701.0,170.79 1704.0,170.80 1707.0,170.80 1710.0,170.80" stroke="rgb(41,122,210)"/><polyline points="1525.4,35.80 1526.4,43.62 1527.4,50.89 1528.4,57.70 1529.4,64.11 1530.4,70.14 1531.4,75.81 1532.4,81.16 1533.4,86.20 1534.4,90.95 1535.4,95.43 1536.4,99.66 1537.4,103.64 1538.4,107.40 1539.4,110.94 1540.4,114.28 1541.4,117.44 1542.4,120.42 1543.4,123.23 1544.4,125.88 1545.4,128.38 1546.4,130.74 1547.4,132.97 1548.4,135.07 1549.4,137.06 1550.4,138.94 1551.4,140.71 1552.4,142.38 1553.4,143.96 1554.4,145.44 1555.4,146.85 1556.4,148.18 1557.4,149.43 1558.4,150.62 1559.4,151.74 1560.0,152.38 1563.0,155.27 1566.0,157.71 1569.0,159.76 1572.0,161.49 1575.0,162.95 1578.0,164.18 1581.0,165.21 1584.0,166.09 1587.0,166.82 1590.0,167.45 1593.0,167.97 1596.0,168.41 1599.0,168.78 1602.0,169.10 1605.0,169.36 1608.0,169.59 1611.0,169.78 1614.0,169.94 1617.0,170.07 1620.0,170.18 1623.0,170.28 1626.0,170.36 1629.0,170.43 1632.0,170.49 1635.0,170.54 1638.0,170.58 1641.0,170.61 1644.0,170.64 1647.0,170.67 1650.0,170.69 1653.0,170.70 1656.0,170.72 1659.0,170.73 1662.0,170.74 1665.0,170.75 1668.0,170.76 1671.0,170.77 1674.0,170.77 1677.0,170.78 1680.0,170.78 1683.0,170.78 1686.0,170.78 1689.0,170.79 1692.0,170.79 1695.0,170.79 1698.0,170.79 1701.0,170.79 1704.0,170.79 1707.0,170.80 1710.0,170.80" stroke="rgb(38,134,205)"/><polyline points="1525.4,35.80 1526.4,43.48 1527.4,50.62 1528.4,57.32 1529.4,63.63 1530.4,69.57 1531.4,75.17 1532.4,80.45 1533.4,85.43 1534.4,90.13 1535.4,94.57 1536.4,98.76 1537.4,102.71 1538.4,106.45 1539.4,109.97 1540.4,113.30 1541.4,116.45 1542.4,119.42 1543.4,122.23 1544.4,124.88 1545.4,127.39 1546.4,129.76 1547.4,132.00 1548.4,134.11 1549.4,136.11 1550.4,138.00 1551.4,139.79 1552.4,141.47 1553.4,143.07 1554.4,144.58 1555.4,146.00 1556.4,147.35 1557.4,148.62 1558.4,149.83 1559.4,150.97 1560.0,151.62 1563.0,154.58 1566.0,157.07 1569.0,159.18 1572.0,160.97 1575.0,162.48 1578.0,163.76 1581.0,164.84 1584.0,165.75 1587.0,166.53 1590.0,167.18 1593.0,167.74 1596.0,168.20 1599.0,168.60 1602.0,168.94 1605.0,169.22 1608.0,169.46 1611.0,169.67 1614.0,169.84 1617.0,169.99 1620.0,170.11 1623.0,170.22 1626.0,170.31 1629.0,170.38 1632.0,170.44 1635.0,170.50 1638.0,170.54 1641.0,170.58 1644.0,170.62 1647.0,170.64 1650.0,170.67 1653.0,170.69 1656.0,170.71 1659.0,170.72 1662.0,170.73 1665.0,170.74 1668.0,170.75 1671.0,170.76 1674.0,170.76 1677.0,170.77 1680.0,170.77 1683.0,170.78 1686.0,170.78 1689.0,170.78 1692.0,170.79 1695.0,170.79 1698.0,170.79 1701.0,170.79 1704.0,170.79 1707.0,170.79 1710.0,170.80" stroke="rgb(36,146,200)"/><polyline points="1525.4,35.80 1526.4,43.35 1527.4,50.36 1528.4,56.96 1529.4,63.17 1530.4,69.02 1531.4,74.55 1532.4,79.76 1533.4,84.69 1534.4,89.34 1535.4,93.73 1536.4,97.89 1537.4,101.81 1538.4,105.52 1539.4,109.03 1540.4,112.35 1541.4,115.48 1542.4,118.45 1543.4,121.26 1544.4,123.91 1545.4,126.42 1546.4,128.79 1547.4,131.04 1548.4,133.16 1549.4,135.18 1550.4,137.08 1551.4,138.88 1552.4,140.58 1553.4,142.19 1554.4,143.72 1555.4,145.16 1556.4,146.53 1557.4,147.82 1558.4,149.04 1559.4,150.20 1560.0,150.86 1563.0,153.88 1566.0,156.43 1569.0,158.60 1572.0,160.44 1575.0,162.00 1578.0,163.33 1581.0,164.45 1584.0,165.41 1587.0,166.22 1590.0,166.91 1593.0,167.49 1596.0,167.99 1599.0,168.41 1602.0,168.77 1605.0,169.07 1608.0,169.33 1611.0,169.55 1614.0,169.74 1617.0,169.90 1620.0,170.03 1623.0,170.15 1626.0,170.25 1629.0,170.33 1632.0,170.40 1635.0,170.46 1638.0,170.51 1641.0,170.55 1644.0,170.59 1647.0,170.62 1650.0,170.65 1653.0,170.67 1656.0,170.69 1659.0,170.71 1662.0,170.72 1665.0,170.73 1668.0,170.74 1671.0,170.75 1674.0,170.76 1677.0,170.76 1680.0,170.77 1683.0,170.77 1686.0,170.78 1689.0,170.78 1692.0,170.78 1695.0,170.79 1698.0,170.79 1701.0,170.79 1704.0,170.79 1707.0,170.79 1710.0,170.79" stroke="rgb(34,158,196)"/><polyline points="1525.4,35.80 1526.4,43.22 1527.4,50.12 1528.4,56.61 1529.4,62.72 1530.4,68.49 1531.4,73.94 1532.4,79.09 1533.4,83.96 1534.4,88.57 1535.4,92.92 1536.4,97.04 1537.4,100.93 1538.4,104.62 1539.4,108.11 1540.4,111.41 1541.4,114.54 1542.4,117.50 1543.4,120.30 1544.4,122.95 1545.4,125.47 1546.4,127.85 1547.4,130.10 1548.4,132.23 1549.4,134.25 1550.4,136.17 1551.4,137.98 1552.4,139.70 1553.4,141.32 1554.4,142.86 1555.4,144.32 1556.4,145.71 1557.4,147.02 1558.4,148.26 1559.4,149.43 1560.0,150.11 1563.0,153.18 1566.0,155.79 1569.0,158.02 1572.0,159.91 1575.0,161.52 1578.0,162.89 1581.0,164.06 1584.0,165.06 1587.0,165.90 1590.0,166.63 1593.0,167.24 1596.0,167.77 1599.0,168.21 1602.0,168.59 1605.0,168.92 1608.0,169.19 1611.0,169.43 1614.0,169.63 1617.0,169.80 1620.0,169.95 1623.0,170.07 1626.0,170.18 1629.0,170.27 1632.0,170.35 1635.0,170.42 1638.0,170.47 1641.0,170.52 1644.0,170.56 1647.0,170.60 1650.0,170.63 1653.0,170.65 1656.0,170.67 1659.0,170.69 1662.0,170.71 1665.0,170.72 1668.0,170.73 1671.0,170.74 1674.0,170.75 1677.0,170.76 1680.0,170.76 1683.0,170.77 1686.0,170.77 1689.0,170.78 1692.0,170.78 1695.0,170.78 1698.0,170.79 1701.0,170.79 1704.0,170.79 1707.0,170.79 1710.0,170.79" stroke="rgb(32,170,191)"/><polyline points="1525.4,35.80 1526.4,43.10 1527.4,49.88 1528.4,56.27 1529.4,62.29 1530.4,67.98 1531.4,73.36 1532.4,78.45 1533.4,83.26 1534.4,87.82 1535.4,92.13 1536.4,96.21 1537.4,100.08 1538.4,103.74 1539.4,107.21 1540.4,110.50 1541.4,113.62 1542.4,116.57 1543.4,119.37 1544.4,122.02 1545.4,124.53 1546.4,126.91 1547.4,129.17 1548.4,131.31 1549.4,133.34 1550.4,135.27 1551.4,137.09 1552.4,138.82 1553.4,140.46 1554.4,142.02 1555.4,143.49 1556.4,144.89 1557.4,146.22 1558.4,147.48 1559.4,148.67 1560.0,149.36 1563.0,152.48 1566.0,155.15 1569.0,157.43 1572.0,159.37 1575.0,161.03 1578.0,162.45 1581.0,163.66 1584.0,164.69 1587.0,165.58 1590.0,166.33 1593.0,166.98 1596.0,167.53 1599.0,168.01 1602.0,168.41 1605.0,168.75 1608.0,169.05 1611.0,169.30 1614.0,169.52 1617.0,169.70 1620.0,169.86 1623.0,170.00 1626.0,170.11 1629.0,170.21 1632.0,170.30 1635.0,170.37 1638.0,170.43 1641.0,170.48 1644.0,170.53 1647.0,170.57 1650.0,170.60 1653.0,170.63 1656.0,170.65 1659.0,170.68 1662.0,170.69 1665.0,170.71 1668.0,170.72 1671.0,170.73 1674.0,170.74 1677.0,170.75 1680.0,170.76 1683.0,170.76 1686.0,170.77 1689.0,170.77 1692.0,170.78 1695.0,170.78 1698.0,170.78 1701.0,170.79 1704.0,170.79 1707.0,170.79 1710.0,170.79" stroke="rgb(30,182,186)"/><polyline points="1525.4,35.80 1526.4,42.98 1527.4,49.66 1528.4,55.94 1529.4,61.88 1530.4,67.49 1531.4,72.80 1532.4,77.82 1533.4,82.58 1534.4,87.09 1535.4,91.36 1536.4,95.41 1537.4,99.25 1538.4,102.89 1539.4,106.34 1540.4,109.61 1541.4,112.71 1542.4,115.66 1543.4,118.45 1544.4,121.10 1545.4,123.61 1546.4,126.00 1547.4,128.26 1548.4,130.41 1549.4,132.45 1550.4,134.38 1551.4,136.21 1552.4,137.96 1553.4,139.61 1554.4,141.18 1555.4,142.67 1556.4,144.09 1557.4,145.43 1558.4,146.70 1559.4,147.91 1560.0,148.61 1563.0,151.79 1566.0,154.50 1569.0,156.83 1572.0,158.83 1575.0,160.53 1578.0,162.00 1581.0,163.25 1584.0,164.33 1587.0,165.25 1590.0,166.04 1593.0,166.71 1596.0,167.29 1599.0,167.79 1602.0,168.22 1605.0,168.58 1608.0,168.90 1611.0,169.17 1614.0,169.40 1617.0,169.60 1620.0,169.77 1623.0,169.91 1626.0,170.04 1629.0,170.15 1632.0,170.24 1635.0,170.32 1638.0,170.39 1641.0,170.44 1644.0,170.49 1647.0,170.54 1650.0,170.57 1653.0,170.61 1656.0,170.63 1659.0,170.66 1662.0,170.68 1665.0,170.69 1668.0,170.71 1671.0,170.72 1674.0,170.73 1677.0,170.74 1680.0,170.75 1683.0,170.76 1686.0,170.76 1689.0,170.77 1692.0,170.77 1695.0,170.78 1698.0,170.78 1701.0,170.78 1704.0,170.79 1707.0,170.79 1710.0,170.79" stroke="rgb(32,189,172)"/><polyline points="1525.4,35.80 1526.4,42.86 1527.4,49.44 1528.4,55.63 1529.4,61.48 1530.4,67.01 1531.4,72.25 1532.4,77.22 1533.4,81.92 1534.4,86.38 1535.4,90.62 1536.4,94.63 1537.4,98.44 1538.4,102.05 1539.4,105.48 1540.4,108.74 1541.4,111.83 1542.4,114.77 1543.4,117.55 1544.4,120.20 1545.4,122.71 1546.4,125.10 1547.4,127.36 1548.4,129.52 1549.4,131.56 1550.4,133.50 1551.4,135.35 1552.4,137.10 1553.4,138.77 1554.4,140.35 1555.4,141.86 1556.4,143.28 1557.4,144.64 1558.4,145.93 1559.4,147.16 1560.0,147.86 1563.0,151.09 1566.0,153.86 1569.0,156.24 1572.0,158.28 1575.0,160.03 1578.0,161.54 1581.0,162.84 1584.0,163.95 1587.0,164.91 1590.0,165.73 1593.0,166.44 1596.0,167.05 1599.0,167.57 1602.0,168.02 1605.0,168.41 1608.0,168.74 1611.0,169.03 1614.0,169.27 1617.0,169.49 1620.0,169.67 1623.0,169.83 1626.0,169.96 1629.0,170.08 1632.0,170.18 1635.0,170.26 1638.0,170.34 1641.0,170.40 1644.0,170.46 1647.0,170.50 1650.0,170.55 1653.0,170.58 1656.0,170.61 1659.0,170.64 1662.0,170.66 1665.0,170.68 1668.0,170.70 1671.0,170.71 1674.0,170.72 1677.0,170.73 1680.0,170.74 1683.0,170.75 1686.0,170.76 1689.0,170.76 1692.0,170.77 1695.0,170.77 1698.0,170.78 1701.0,170.78 1704.0,170.78 1707.0,170.78 1710.0,170.79" stroke="rgb(35,196,155)"/><polyline points="1525.4,35.80 1526.4,42.75 1527.4,49.22 1528.4,55.32 1529.4,61.09 1530.4,66.55 1531.4,71.72 1532.4,76.63 1533.4,81.28 1534.4,85.70 1535.4,89.89 1536.4,93.87 1537.4,97.65 1538.4,101.24 1539.4,104.65 1540.4,107.89 1541.4,110.97 1542.4,113.89 1543.4,116.67 1544.4,119.31 1545.4,121.83 1546.4,124.21 1547.4,126.48 1548.4,128.64 1549.4,130.69 1550.4,132.64 1551.4,134.50 1552.4,136.26 1553.4,137.94 1554.4,139.53 1555.4,141.05 1556.4,142.49 1557.4,143.86 1558.4,145.17 1559.4,146.41 1560.0,147.12 1563.0,150.39 1566.0,153.21 1569.0,155.64 1572.0,157.73 1575.0,159.53 1578.0,161.08 1581.0,162.41 1584.0,163.57 1587.0,164.56 1590.0,165.42 1593.0,166.15 1596.0,166.79 1599.0,167.34 1602.0,167.81 1605.0,168.22 1608.0,168.57 1611.0,168.88 1614.0,169.14 1617.0,169.37 1620.0,169.56 1623.0,169.73 1626.0,169.88 1629.0,170.00 1632.0,170.11 1635.0,170.21 1638.0,170.29 1641.0,170.36 1644.0,170.42 1647.0,170.47 1650.0,170.51 1653.0,170.55 1656.0,170.59 1659.0,170.62 1662.0,170.64 1665.0,170.66 1668.0,170.68 1671.0,170.70 1674.0,170.71 1677.0,170.72 1680.0,170.73 1683.0,170.74 1686.0,170.75 1689.0,170.76 1692.0,170.76 1695.0,170.77 1698.0,170.77 1701.0,170.78 1704.0,170.78 1707.0,170.78 1710.0,170.78" stroke="rgb(38,202,138)"/><polyline points="1525.4,35.80 1526.4,42.65 1527.4,49.02 1528.4,55.03 1529.4,60.72 1530.4,66.10 1531.4,71.21 1532.4,76.06 1533.4,80.66 1534.4,85.03 1535.4,89.19 1536.4,93.13 1537.4,96.88 1538.4,100.45 1539.4,103.84 1540.4,107.06 1541.4,110.12 1542.4,113.04 1543.4,115.81 1544.4,118.45 1545.4,120.96 1546.4,123.34 1547.4,125.62 1548.4,127.78 1549.4,129.83 1550.4,131.79 1551.4,133.65 1552.4,135.43 1553.4,137.11 1554.4,138.72 1555.4,140.25 1556.4,141.70 1557.4,143.09 1558.4,144.41 1559.4,145.66 1560.0,146.38 1563.0,149.70 1566.0,152.56 1569.0,155.04 1572.0,157.17 1575.0,159.02 1578.0,160.61 1581.0,161.99 1584.0,163.18 1587.0,164.20 1590.0,165.09 1593.0,165.86 1596.0,166.53 1599.0,167.10 1602.0,167.60 1605.0,168.03 1608.0,168.40 1611.0,168.72 1614.0,169.00 1617.0,169.24 1620.0,169.45 1623.0,169.63 1626.0,169.79 1629.0,169.93 1632.0,170.04 1635.0,170.14 1638.0,170.23 1641.0,170.31 1644.0,170.37 1647.0,170.43 1650.0,170.48 1653.0,170.52 1656.0,170.56 1659.0,170.59 1662.0,170.62 1665.0,170.64 1668.0,170.66 1671.0,170.68 1674.0,170.70 1677.0,170.71 1680.0,170.72 1683.0,170.73 1686.0,170.74 1689.0,170.75 1692.0,170.76 1695.0,170.76 1698.0,170.77 1701.0,170.77 1704.0,170.78 1707.0,170.78 1710.0,170.78" stroke="rgb(42,209,121)"/><polyline points="1525.4,35.80 1526.4,42.54 1527.4,48.82 1528.4,54.74 1529.4,60.35 1530.4,65.67 1531.4,70.72 1532.4,75.51 1533.4,80.06 1534.4,84.39 1535.4,88.50 1536.4,92.41 1537.4,96.13 1538.4,99.67 1539.4,103.04 1540.4,106.25 1541.4,109.30 1542.4,112.20 1543.4,114.97 1544.4,117.60 1545.4,120.11 1546.4,122.49 1547.4,124.76 1548.4,126.93 1549.4,128.99 1550.4,130.95 1551.4,132.82 1552.4,134.60 1553.4,136.30 1554.4,137.91 1555.4,139.45 1556.4,140.92 1557.4,142.32 1558.4,143.65 1559.4,144.92 1560.0,145.65 1563.0,149.01 1566.0,151.92 1569.0,154.44 1572.0,156.61 1575.0,158.50 1578.0,160.14 1581.0,161.55 1584.0,162.78 1587.0,163.84 1590.0,164.77 1593.0,165.57 1596.0,166.26 1599.0,166.86 1602.0,167.38 1605.0,167.83 1608.0,168.22 1611.0,168.56 1614.0,168.86 1617.0,169.12 1620.0,169.34 1623.0,169.53 1626.0,169.70 1629.0,169.84 1632.0,169.97 1635.0,170.08 1638.0,170.17 1641.0,170.26 1644.0,170.33 1647.0,170.39 1650.0,170.44 1653.0,170.49 1656.0,170.53 1659.0,170.57 1662.0,170.60 1665.0,170.62 1668.0,170.65 1671.0,170.67 1674.0,170.68 1677.0,170.70 1680.0,170.71 1683.0,170.72 1686.0,170.73 1689.0,170.74 1692.0,170.75 1695.0,170.76 1698.0,170.76 1701.0,170.77 1704.0,170.77 1707.0,170.78 1710.0,170.78" stroke="rgb(45,215,104)"/><polyline points="1525.4,35.80 1526.4,42.45 1527.4,48.63 1528.4,54.47 1529.4,60.00 1530.4,65.25 1531.4,70.23 1532.4,74.97 1533.4,79.47 1534.4,83.76 1535.4,87.83 1536.4,91.71 1537.4,95.40 1538.4,98.92 1539.4,102.27 1540.4,105.46 1541.4,108.49 1542.4,111.39 1543.4,114.14 1544.4,116.77 1545.4,119.27 1546.4,121.65 1547.4,123.93 1548.4,126.09 1549.4,128.16 1550.4,130.13 1551.4,132.00 1552.4,133.79 1553.4,135.49 1554.4,137.12 1555.4,138.67 1556.4,140.15 1557.4,141.56 1558.4,142.90 1559.4,144.18 1560.0,144.92 1563.0,148.32 1566.0,151.27 1569.0,153.83 1572.0,156.06 1575.0,157.98 1578.0,159.66 1581.0,161.12 1584.0,162.38 1587.0,163.48 1590.0,164.43 1593.0,165.26 1596.0,165.98 1599.0,166.61 1602.0,167.15 1605.0,167.63 1608.0,168.04 1611.0,168.40 1614.0,168.71 1617.0,168.98 1620.0,169.22 1623.0,169.42 1626.0,169.60 1629.0,169.76 1632.0,169.89 1635.0,170.01 1638.0,170.11 1641.0,170.20 1644.0,170.28 1647.0,170.34 1650.0,170.40 1653.0,170.45 1656.0,170.50 1659.0,170.54 1662.0,170.57 1665.0,170.60 1668.0,170.63 1671.0,170.65 1674.0,170.67 1677.0,170.69 1680.0,170.70 1683.0,170.71 1686.0,170.72 1689.0,170.73 1692.0,170.74 1695.0,170.75 1698.0,170.76 1701.0,170.76 1704.0,170.77 1707.0,170.77 1710.0,170.77" stroke="rgb(48,221,88)"/><polyline points="1525.4,35.80 1526.4,42.35 1527.4,48.45 1528.4,54.20 1529.4,59.66 1530.4,64.84 1531.4,69.77 1532.4,74.45 1533.4,78.90 1534.4,83.15 1535.4,87.18 1536.4,91.03 1537.4,94.69 1538.4,98.18 1539.4,101.51 1540.4,104.68 1541.4,107.70 1542.4,110.58 1543.4,113.33 1544.4,115.95 1545.4,118.45 1546.4,120.83 1547.4,123.10 1548.4,125.27 1549.4,127.34 1550.4,129.31 1551.4,131.19 1552.4,132.99 1553.4,134.70 1554.4,136.33 1555.4,137.89 1556.4,139.38 1557.4,140.80 1558.4,142.16 1559.4,143.45 1560.0,144.20 1563.0,147.64 1566.0,150.63 1569.0,153.23 1572.0,155.49 1575.0,157.46 1578.0,159.18 1581.0,160.67 1584.0,161.97 1587.0,163.11 1590.0,164.09 1593.0,164.95 1596.0,165.70 1599.0,166.35 1602.0,166.92 1605.0,167.42 1608.0,167.85 1611.0,168.23 1614.0,168.55 1617.0,168.84 1620.0,169.09 1623.0,169.31 1626.0,169.50 1629.0,169.66 1632.0,169.81 1635.0,169.93 1638.0,170.04 1641.0,170.14 1644.0,170.22 1647.0,170.30 1650.0,170.36 1653.0,170.42 1656.0,170.47 1659.0,170.51 1662.0,170.54 1665.0,170.58 1668.0,170.61 1671.0,170.63 1674.0,170.65 1677.0,170.67 1680.0,170.69 1683.0,170.70 1686.0,170.71 1689.0,170.72 1692.0,170.73 1695.0,170.74 1698.0,170.75 1701.0,170.76 1704.0,170.76 1707.0,170.77 1710.0,170.77" stroke="rgb(62,225,76)"/><polyline points="1525.4,35.80 1526.4,42.26 1527.4,48.27 1528.4,53.95 1529.4,59.33 1530.4,64.45 1531.4,69.31 1532.4,73.94 1533.4,78.35 1534.4,82.55 1535.4,86.55 1536.4,90.36 1537.4,94.00 1538.4,97.47 1539.4,100.77 1540.4,103.92 1541.4,106.93 1542.4,109.80 1543.4,112.54 1544.4,115.15 1545.4,117.64 1546.4,120.02 1547.4,122.29 1548.4,124.46 1549.4,126.53 1550.4,128.51 1551.4,130.39 1552.4,132.20 1553.4,133.92 1554.4,135.56 1555.4,137.13 1556.4,138.62 1557.4,140.05 1558.4,141.42 1559.4,142.72 1560.0,143.48 1563.0,146.95 1566.0,149.98 1569.0,152.63 1572.0,154.93 1575.0,156.94 1578.0,158.69 1581.0,160.23 1584.0,161.56 1587.0,162.73 1590.0,163.75 1593.0,164.63 1596.0,165.41 1599.0,166.09 1602.0,166.68 1605.0,167.20 1608.0,167.65 1611.0,168.05 1614.0,168.39 1617.0,168.69 1620.0,168.96 1623.0,169.19 1626.0,169.39 1629.0,169.57 1632.0,169.72 1635.0,169.86 1638.0,169.97 1641.0,170.08 1644.0,170.17 1647.0,170.25 1650.0,170.32 1653.0,170.38 1656.0,170.43 1659.0,170.48 1662.0,170.52 1665.0,170.55 1668.0,170.58 1671.0,170.61 1674.0,170.63 1677.0,170.65 1680.0,170.67 1683.0,170.69 1686.0,170.70 1689.0,170.71 1692.0,170.72 1695.0,170.73 1698.0,170.74 1701.0,170.75 1704.0,170.76 1707.0,170.76 1710.0,170.77" stroke="rgb(85,225,68)"/><polyline points="1525.4,35.80 1526.4,42.17 1527.4,48.09 1528.4,53.70 1529.4,59.01 1530.4,64.06 1531.4,68.87 1532.4,73.45 1533.4,77.81 1534.4,81.97 1535.4,85.93 1536.4,89.72 1537.4,93.32 1538.4,96.76 1539.4,100.05 1540.4,103.18 1541.4,106.18 1542.4,109.03 1543.4,111.76 1544.4,114.37 1545.4,116.85 1546.4,119.23 1547.4,121.50 1548.4,123.67 1549.4,125.74 1550.4,127.72 1551.4,129.61 1552.4,131.41 1553.4,133.14 1554.4,134.79 1555.4,136.37 1556.4,137.87 1557.4,139.31 1558.4,140.69 1559.4,142.00 1560.0,142.76 1563.0,146.28 1566.0,149.34 1569.0,152.02 1572.0,154.37 1575.0,156.42 1578.0,158.21 1581.0,159.77 1584.0,161.14 1587.0,162.34 1590.0,163.39 1593.0,164.31 1596.0,165.12 1599.0,165.82 1602.0,166.44 1605.0,166.98 1608.0,167.45 1611.0,167.86 1614.0,168.23 1617.0,168.54 1620.0,168.82 1623.0,169.07 1626.0,169.28 1629.0,169.47 1632.0,169.63 1635.0,169.77 1638.0,169.90 1641.0,170.01 1644.0,170.11 1647.0,170.19 1650.0,170.27 1653.0,170.33 1656.0,170.39 1659.0,170.44 1662.0,170.48 1665.0,170.52 1668.0,170.56 1671.0,170.59 1674.0,170.61 1677.0,170.64 1680.0,170.66 1683.0,170.67 1686.0,170.69 1689.0,170.70 1692.0,170.71 1695.0,170.72 1698.0,170.73 1701.0,170.74 1704.0,170.75 1707.0,170.76 1710.0,170.76" stroke="rgb(108,225,61)"/><polyline points="1525.4,35.80 1526.4,42.08 1527.4,47.93 1528.4,53.45 1529.4,58.70 1530.4,63.69 1531.4,68.44 1532.4,72.97 1533.4,77.29 1534.4,81.41 1535.4,85.33 1536.4,89.08 1537.4,92.66 1538.4,96.08 1539.4,99.34 1540.4,102.46 1541.4,105.44 1542.4,108.28 1543.4,111.00 1544.4,113.60 1545.4,116.08 1546.4,118.45 1547.4,120.72 1548.4,122.88 1549.4,124.96 1550.4,126.94 1551.4,128.83 1552.4,130.64 1553.4,132.38 1554.4,134.03 1555.4,135.62 1556.4,137.13 1557.4,138.58 1558.4,139.96 1559.4,141.29 1560.0,142.06 1563.0,145.60 1566.0,148.70 1569.0,151.42 1572.0,153.80 1575.0,155.89 1578.0,157.72 1581.0,159.32 1584.0,160.72 1587.0,161.96 1590.0,163.04 1593.0,163.98 1596.0,164.82 1599.0,165.55 1602.0,166.19 1605.0,166.75 1608.0,167.24 1611.0,167.67 1614.0,168.05 1617.0,168.39 1620.0,168.68 1623.0,168.94 1626.0,169.16 1629.0,169.36 1632.0,169.54 1635.0,169.69 1638.0,169.82 1641.0,169.94 1644.0,170.04 1647.0,170.14 1650.0,170.22 1653.0,170.29 1656.0,170.35 1659.0,170.40 1662.0,170.45 1665.0,170.49 1668.0,170.53 1671.0,170.56 1674.0,170.59 1677.0,170.62 1680.0,170.64 1683.0,170.66 1686.0,170.67 1689.0,170.69 1692.0,170.70 1695.0,170.71 1698.0,170.73 1701.0,170.73 1704.0,170.74 1707.0,170.75 1710.0,170.76" stroke="rgb(131,225,53)"/><polyline points="1525.4,35.80 1526.4,42.00 1527.4,47.76 1528.4,53.22 1529.4,58.40 1530.4,63.33 1531.4,68.03 1532.4,72.51 1533.4,76.78 1534.4,80.86 1535.4,84.75 1536.4,88.47 1537.4,92.02 1538.4,95.41 1539.4,98.65 1540.4,101.75 1541.4,104.71 1542.4,107.54 1543.4,110.25 1544.4,112.84 1545.4,115.32 1546.4,117.68 1547.4,119.95 1548.4,122.12 1549.4,124.19 1550.4,126.17 1551.4,128.07 1552.4,129.88 1553.4,131.62 1554.4,133.28 1555.4,134.87 1556.4,136.39 1557.4,137.85 1558.4,139.25 1559.4,140.58 1560.0,141.35 1563.0,144.93 1566.0,148.07 1569.0,150.82 1572.0,153.24 1575.0,155.36 1578.0,157.22 1581.0,158.86 1584.0,160.30 1587.0,161.56 1590.0,162.67 1593.0,163.65 1596.0,164.51 1599.0,165.26 1602.0,165.93 1605.0,166.51 1608.0,167.03 1611.0,167.48 1614.0,167.87 1617.0,168.22 1620.0,168.53 1623.0,168.80 1626.0,169.04 1629.0,169.25 1632.0,169.44 1635.0,169.60 1638.0,169.74 1641.0,169.87 1644.0,169.98 1647.0,170.08 1650.0,170.16 1653.0,170.24 1656.0,170.30 1659.0,170.36 1662.0,170.42 1665.0,170.46 1668.0,170.50 1671.0,170.54 1674.0,170.57 1677.0,170.60 1680.0,170.62 1683.0,170.64 1686.0,170.66 1689.0,170.68 1692.0,170.69 1695.0,170.70 1698.0,170.72 1701.0,170.73 1704.0,170.73 1707.0,170.74 1710.0,170.75" stroke="rgb(154,225,46)"/><polyline points="1525.4,35.80 1526.4,41.92 1527.4,47.61 1528.4,52.99 1529.4,58.11 1530.4,62.98 1531.4,67.63 1532.4,72.06 1533.4,76.28 1534.4,80.32 1535.4,84.18 1536.4,87.87 1537.4,91.39 1538.4,94.76 1539.4,97.98 1540.4,101.06 1541.4,104.00 1542.4,106.82 1543.4,109.52 1544.4,112.10 1545.4,114.57 1546.4,116.93 1547.4,119.19 1548.4,121.36 1549.4,123.43 1550.4,125.41 1551.4,127.31 1552.4,129.13 1553.4,130.87 1554.4,132.54 1555.4,134.14 1556.4,135.67 1557.4,137.13 1558.4,138.54 1559.4,139.88 1560.0,140.66 1563.0,144.26 1566.0,147.43 1569.0,150.22 1572.0,152.67 1575.0,154.83 1578.0,156.73 1581.0,158.40 1584.0,159.87 1587.0,161.17 1590.0,162.31 1593.0,163.31 1596.0,164.20 1599.0,164.98 1602.0,165.67 1605.0,166.27 1608.0,166.81 1611.0,167.28 1614.0,167.69 1617.0,168.06 1620.0,168.38 1623.0,168.66 1626.0,168.92 1629.0,169.14 1632.0,169.33 1635.0,169.50 1638.0,169.66 1641.0,169.79 1644.0,169.91 1647.0,170.01 1650.0,170.10 1653.0,170.19 1656.0,170.26 1659.0,170.32 1662.0,170.38 1665.0,170.43 1668.0,170.47 1671.0,170.51 1674.0,170.54 1677.0,170.57 1680.0,170.60 1683.0,170.62 1686.0,170.64 1689.0,170.66 1692.0,170.68 1695.0,170.69 1698.0,170.70 1701.0,170.72 1704.0,170.73 1707.0,170.73 1710.0,170.74" stroke="rgb(177,225,38)"/><polyline points="1525.4,35.80 1526.4,41.84 1527.4,47.45 1528.4,52.77 1529.4,57.83 1530.4,62.64 1531.4,67.23 1532.4,71.62 1533.4,75.80 1534.4,79.80 1535.4,83.62 1536.4,87.28 1537.4,90.77 1538.4,94.12 1539.4,97.32 1540.4,100.38 1541.4,103.31 1542.4,106.12 1543.4,108.80 1544.4,111.37 1545.4,113.83 1546.4,116.19 1547.4,118.45 1548.4,120.61 1549.4,122.69 1550.4,124.67 1551.4,126.57 1552.4,128.39 1553.4,130.14 1554.4,131.81 1555.4,133.41 1556.4,134.95 1557.4,136.42 1558.4,137.83 1559.4,139.18 1560.0,139.97 1563.0,143.60 1566.0,146.80 1569.0,149.62 1572.0,152.11 1575.0,154.30 1578.0,156.23 1581.0,157.94 1584.0,159.44 1587.0,160.77 1590.0,161.94 1593.0,162.97 1596.0,163.88 1599.0,164.69 1602.0,165.40 1605.0,166.03 1608.0,166.58 1611.0,167.07 1614.0,167.50 1617.0,167.88 1620.0,168.22 1623.0,168.52 1626.0,168.78 1629.0,169.02 1632.0,169.22 1635.0,169.41 1638.0,169.57 1641.0,169.71 1644.0,169.83 1647.0,169.95 1650.0,170.04 1653.0,170.13 1656.0,170.21 1659.0,170.28 1662.0,170.34 1665.0,170.39 1668.0,170.44 1671.0,170.48 1674.0,170.52 1677.0,170.55 1680.0,170.58 1683.0,170.60 1686.0,170.63 1689.0,170.65 1692.0,170.66 1695.0,170.68 1698.0,170.69 1701.0,170.70 1704.0,170.72 1707.0,170.73 1710.0,170.73" stroke="rgb(200,225,31)"/><polyline points="1525.4,35.80 1526.4,41.76 1527.4,47.31 1528.4,52.56 1529.4,57.55 1530.4,62.31 1531.4,66.85 1532.4,71.19 1533.4,75.33 1534.4,79.29 1535.4,83.08 1536.4,86.71 1537.4,90.17 1538.4,93.49 1539.4,96.67 1540.4,99.72 1541.4,102.63 1542.4,105.42 1543.4,108.10 1544.4,110.66 1545.4,113.11 1546.4,115.47 1547.4,117.72 1548.4,119.88 1549.4,121.95 1550.4,123.94 1551.4,125.84 1552.4,127.66 1553.4,129.41 1554.4,131.09 1555.4,132.70 1556.4,134.24 1557.4,135.72 1558.4,137.13 1559.4,138.49 1560.0,139.28 1563.0,142.94 1566.0,146.17 1569.0,149.03 1572.0,151.54 1575.0,153.77 1578.0,155.73 1581.0,157.47 1584.0,159.01 1587.0,160.36 1590.0,161.56 1593.0,162.62 1596.0,163.56 1599.0,164.39 1602.0,165.13 1605.0,165.77 1608.0,166.35 1611.0,166.86 1614.0,167.31 1617.0,167.71 1620.0,168.06 1623.0,168.37 1626.0,168.65 1629.0,168.89 1632.0,169.11 1635.0,169.30 1638.0,169.47 1641.0,169.62 1644.0,169.76 1647.0,169.88 1650.0,169.98 1653.0,170.07 1656.0,170.16 1659.0,170.23 1662.0,170.29 1665.0,170.35 1668.0,170.40 1671.0,170.45 1674.0,170.49 1677.0,170.52 1680.0,170.55 1683.0,170.58 1686.0,170.61 1689.0,170.63 1692.0,170.65 1695.0,170.66 1698.0,170.68 1701.0,170.69 1704.0,170.71 1707.0,170.72 1710.0,170.73" stroke="rgb(223,225,23)"/><polyline points="1525.4,35.80 1526.4,41.69 1527.4,47.16 1528.4,52.35 1529.4,57.28 1530.4,61.99 1531.4,66.48 1532.4,70.77 1533.4,74.87 1534.4,78.80 1535.4,82.55 1536.4,86.15 1537.4,89.59 1538.4,92.88 1539.4,96.04 1540.4,99.07 1541.4,101.97 1542.4,104.74 1543.4,107.41 1544.4,109.96 1545.4,112.41 1546.4,114.75 1547.4,117.00 1548.4,119.16 1549.4,121.23 1550.4,123.21 1551.4,125.12 1552.4,126.94 1553.4,128.70 1554.4,130.38 1555.4,131.99 1556.4,133.54 1557.4,135.02 1558.4,136.44 1559.4,137.81 1560.0,138.60 1563.0,142.29 1566.0,145.55 1569.0,148.43 1572.0,150.98 1575.0,153.24 1578.0,155.24 1581.0,157.00 1584.0,158.57 1587.0,159.96 1590.0,161.18 1593.0,162.27 1596.0,163.24 1599.0,164.09 1602.0,164.85 1605.0,165.52 1608.0,166.11 1611.0,166.64 1614.0,167.11 1617.0,167.52 1620.0,167.89 1623.0,168.22 1626.0,168.51 1629.0,168.77 1632.0,168.99 1635.0,169.20 1638.0,169.38 1641.0,169.54 1644.0,169.68 1647.0,169.80 1650.0,169.91 1653.0,170.01 1656.0,170.10 1659.0,170.18 1662.0,170.25 1665.0,170.31 1668.0,170.36 1671.0,170.41 1674.0,170.46 1677.0,170.49 1680.0,170.53 1683.0,170.56 1686.0,170.59 1689.0,170.61 1692.0,170.63 1695.0,170.65 1698.0,170.67 1701.0,170.68 1704.0,170.69 1707.0,170.71 1710.0,170.72" stroke="rgb(235,220,20)"/><polyline points="1525.4,35.80 1526.4,41.62 1527.4,47.02 1528.4,52.15 1529.4,57.02 1530.4,61.67 1531.4,66.12 1532.4,70.36 1533.4,74.43 1534.4,78.31 1535.4,82.04 1536.4,85.60 1537.4,89.02 1538.4,92.29 1539.4,95.42 1540.4,98.43 1541.4,101.31 1542.4,104.08 1543.4,106.73 1544.4,109.27 1545.4,111.71 1546.4,114.05 1547.4,116.30 1548.4,118.45 1549.4,120.52 1550.4,122.50 1551.4,124.41 1552.4,126.23 1553.4,127.99 1554.4,129.67 1555.4,131.29 1556.4,132.84 1557.4,134.33 1558.4,135.76 1559.4,137.13 1560.0,137.93 1563.0,141.64 1566.0,144.93 1569.0,147.84 1572.0,150.42 1575.0,152.71 1578.0,154.74 1581.0,156.53 1584.0,158.13 1587.0,159.54 1590.0,160.80 1593.0,161.92 1596.0,162.91 1599.0,163.78 1602.0,164.57 1605.0,165.26 1608.0,165.87 1611.0,166.42 1614.0,166.91 1617.0,167.34 1620.0,167.72 1623.0,168.06 1626.0,168.36 1629.0,168.63 1632.0,168.87 1635.0,169.09 1638.0,169.28 1641.0,169.44 1644.0,169.59 1647.0,169.73 1650.0,169.84 1653.0,169.95 1656.0,170.04 1659.0,170.13 1662.0,170.20 1665.0,170.27 1668.0,170.32 1671.0,170.38 1674.0,170.42 1677.0,170.46 1680.0,170.50 1683.0,170.53 1686.0,170.56 1689.0,170.59 1692.0,170.61 1695.0,170.63 1698.0,170.65 1701.0,170.67 1704.0,170.68 1707.0,170.69 1710.0,170.71" stroke="rgb(236,211,20)"/><polyline points="1525.4,35.80 1526.4,41.55 1527.4,46.89 1528.4,51.95 1529.4,56.77 1530.4,61.37 1531.4,65.76 1532.4,69.97 1533.4,73.99 1534.4,77.84 1535.4,81.53 1536.4,85.07 1537.4,88.46 1538.4,91.71 1539.4,94.82 1540.4,97.81 1541.4,100.68 1542.4,103.43 1543.4,106.07 1544.4,108.60 1545.4,111.03 1546.4,113.36 1547.4,115.60 1548.4,117.75 1549.4,119.82 1550.4,121.80 1551.4,123.71 1552.4,125.53 1553.4,127.29 1554.4,128.98 1555.4,130.60 1556.4,132.15 1557.4,133.65 1558.4,135.09 1559.4,136.46 1560.0,137.27 1563.0,141.00 1566.0,144.31 1569.0,147.25 1572.0,149.86 1575.0,152.18 1578.0,154.23 1581.0,156.06 1584.0,157.69 1587.0,159.13 1590.0,160.42 1593.0,161.56 1596.0,162.57 1599.0,163.48 1602.0,164.28 1605.0,164.99 1608.0,165.63 1611.0,166.19 1614.0,166.70 1617.0,167.15 1620.0,167.54 1623.0,167.90 1626.0,168.22 1629.0,168.50 1632.0,168.75 1635.0,168.97 1638.0,169.17 1641.0,169.35 1644.0,169.51 1647.0,169.65 1650.0,169.77 1653.0,169.88 1656.0,169.98 1659.0,170.07 1662.0,170.15 1665.0,170.22 1668.0,170.28 1671.0,170.34 1674.0,170.39 1677.0,170.43 1680.0,170.47 1683.0,170.51 1686.0,170.54 1689.0,170.57 1692.0,170.59 1695.0,170.62 1698.0,170.64 1701.0,170.65 1704.0,170.67 1707.0,170.68 1710.0,170.70" stroke="rgb(237,203,20)"/><polyline points="1525.4,35.80 1526.4,41.48 1527.4,46.76 1528.4,51.76 1529.4,56.52 1530.4,61.07 1531.4,65.42 1532.4,69.58 1533.4,73.56 1534.4,77.38 1535.4,81.04 1536.4,84.55 1537.4,87.91 1538.4,91.13 1539.4,94.23 1540.4,97.20 1541.4,100.05 1542.4,102.79 1543.4,105.42 1544.4,107.94 1545.4,110.36 1546.4,112.69 1547.4,114.92 1548.4,117.07 1549.4,119.13 1550.4,121.11 1551.4,123.02 1552.4,124.85 1553.4,126.60 1554.4,128.29 1555.4,129.92 1556.4,131.48 1557.4,132.97 1558.4,134.42 1559.4,135.80 1560.0,136.61 1563.0,140.36 1566.0,143.70 1569.0,146.66 1572.0,149.30 1575.0,151.65 1578.0,153.73 1581.0,155.59 1584.0,157.24 1587.0,158.72 1590.0,160.03 1593.0,161.19 1596.0,162.23 1599.0,163.16 1602.0,163.99 1605.0,164.72 1608.0,165.38 1611.0,165.96 1614.0,166.48 1617.0,166.95 1620.0,167.36 1623.0,167.73 1626.0,168.06 1629.0,168.36 1632.0,168.62 1635.0,168.85 1638.0,169.06 1641.0,169.25 1644.0,169.41 1647.0,169.56 1650.0,169.69 1653.0,169.81 1656.0,169.92 1659.0,170.01 1662.0,170.10 1665.0,170.17 1668.0,170.24 1671.0,170.30 1674.0,170.35 1677.0,170.40 1680.0,170.44 1683.0,170.48 1686.0,170.51 1689.0,170.54 1692.0,170.57 1695.0,170.60 1698.0,170.62 1701.0,170.64 1704.0,170.65 1707.0,170.67 1710.0,170.68" stroke="rgb(238,194,20)"/><polyline points="1525.4,35.80 1526.4,41.41 1527.4,46.63 1528.4,51.57 1529.4,56.28 1530.4,60.78 1531.4,65.09 1532.4,69.20 1533.4,73.15 1534.4,76.93 1535.4,80.56 1536.4,84.04 1537.4,87.37 1538.4,90.58 1539.4,93.65 1540.4,96.60 1541.4,99.44 1542.4,102.16 1543.4,104.78 1544.4,107.29 1545.4,109.70 1546.4,112.02 1547.4,114.25 1548.4,116.39 1549.4,118.45 1550.4,120.43 1551.4,122.34 1552.4,124.16 1553.4,125.92 1554.4,127.61 1555.4,129.24 1556.4,130.80 1557.4,132.31 1558.4,133.75 1559.4,135.15 1560.0,135.95 1563.0,139.73 1566.0,143.09 1569.0,146.08 1572.0,148.74 1575.0,151.12 1578.0,153.23 1581.0,155.12 1584.0,156.80 1587.0,158.30 1590.0,159.64 1593.0,160.83 1596.0,161.89 1599.0,162.84 1602.0,163.69 1605.0,164.45 1608.0,165.12 1611.0,165.73 1614.0,166.27 1617.0,166.75 1620.0,167.18 1623.0,167.56 1626.0,167.90 1629.0,168.21 1632.0,168.49 1635.0,168.73 1638.0,168.95 1641.0,169.14 1644.0,169.32 1647.0,169.48 1650.0,169.61 1653.0,169.74 1656.0,169.85 1659.0,169.95 1662.0,170.04 1665.0,170.12 1668.0,170.19 1671.0,170.26 1674.0,170.31 1677.0,170.36 1680.0,170.41 1683.0,170.45 1686.0,170.49 1689.0,170.52 1692.0,170.55 1695.0,170.58 1698.0,170.60 1701.0,170.62 1704.0,170.64 1707.0,170.66 1710.0,170.67" stroke="rgb(239,185,20)"/><polyline points="1525.4,35.80 1526.4,41.35 1527.4,46.50 1528.4,51.39 1529.4,56.05 1530.4,60.50 1531.4,64.76 1532.4,68.84 1533.4,72.75 1534.4,76.49 1535.4,80.09 1536.4,83.54 1537.4,86.85 1538.4,90.03 1539.4,93.09 1540.4,96.02 1541.4,98.84 1542.4,101.55 1543.4,104.15 1544.4,106.65 1545.4,109.06 1546.4,111.37 1547.4,113.59 1548.4,115.73 1549.4,117.79 1550.4,119.76 1551.4,121.67 1552.4,123.49 1553.4,125.25 1554.4,126.95 1555.4,128.58 1556.4,130.14 1557.4,131.65 1558.4,133.10 1559.4,134.50 1560.0,135.31 1563.0,139.10 1566.0,142.48 1569.0,145.50 1572.0,148.19 1575.0,150.59 1578.0,152.73 1581.0,154.64 1584.0,156.35 1587.0,157.88 1590.0,159.24 1593.0,160.46 1596.0,161.55 1599.0,162.52 1602.0,163.39 1605.0,164.17 1608.0,164.87 1611.0,165.49 1614.0,166.04 1617.0,166.54 1620.0,166.99 1623.0,167.39 1626.0,167.74 1629.0,168.06 1632.0,168.35 1635.0,168.60 1638.0,168.83 1641.0,169.04 1644.0,169.22 1647.0,169.38 1650.0,169.53 1653.0,169.66 1656.0,169.78 1659.0,169.89 1662.0,169.98 1665.0,170.07 1668.0,170.14 1671.0,170.21 1674.0,170.27 1677.0,170.33 1680.0,170.38 1683.0,170.42 1686.0,170.46 1689.0,170.49 1692.0,170.53 1695.0,170.55 1698.0,170.58 1701.0,170.60 1704.0,170.62 1707.0,170.64 1710.0,170.66" stroke="rgb(240,177,20)"/><polyline points="1525.4,35.80 1526.4,41.29 1527.4,46.38 1528.4,51.21 1529.4,55.82 1530.4,60.23 1531.4,64.44 1532.4,68.48 1533.4,72.35 1534.4,76.07 1535.4,79.63 1536.4,83.05 1537.4,86.34 1538.4,89.50 1539.4,92.53 1540.4,95.45 1541.4,98.25 1542.4,100.94 1543.4,103.53 1544.4,106.03 1545.4,108.42 1546.4,110.73 1547.4,112.94 1548.4,115.08 1549.4,117.13 1550.4,119.10 1551.4,121.00 1552.4,122.83 1553.4,124.59 1554.4,126.29 1555.4,127.92 1556.4,129.49 1557.4,131.00 1558.4,132.45 1559.4,133.85 1560.0,134.67 1563.0,138.48 1566.0,141.88 1569.0,144.92 1572.0,147.63 1575.0,150.06 1578.0,152.23 1581.0,154.17 1584.0,155.90 1587.0,157.46 1590.0,158.85 1593.0,160.09 1596.0,161.20 1599.0,162.20 1602.0,163.09 1605.0,163.89 1608.0,164.60 1611.0,165.24 1614.0,165.82 1617.0,166.33 1620.0,166.79 1623.0,167.21 1626.0,167.58 1629.0,167.91 1632.0,168.21 1635.0,168.47 1638.0,168.71 1641.0,168.93 1644.0,169.12 1647.0,169.29 1650.0,169.45 1653.0,169.58 1656.0,169.71 1659.0,169.82 1662.0,169.92 1665.0,170.01 1668.0,170.09 1671.0,170.16 1674.0,170.23 1677.0,170.29 1680.0,170.34 1683.0,170.39 1686.0,170.43 1689.0,170.47 1692.0,170.50 1695.0,170.53 1698.0,170.56 1701.0,170.58 1704.0,170.60 1707.0,170.62 1710.0,170.64" stroke="rgb(241,168,20)"/><polyline points="1525.4,35.80 1526.4,41.23 1527.4,46.26 1528.4,51.04 1529.4,55.60 1530.4,59.96 1531.4,64.13 1532.4,68.13 1533.4,71.97 1534.4,75.65 1535.4,79.18 1536.4,82.58 1537.4,85.84 1538.4,88.97 1539.4,91.99 1540.4,94.89 1541.4,97.67 1542.4,100.35 1543.4,102.93 1544.4,105.41 1545.4,107.80 1546.4,110.10 1547.4,112.31 1548.4,114.43 1549.4,116.48 1550.4,118.46 1551.4,120.35 1552.4,122.18 1553.4,123.94 1554.4,125.64 1555.4,127.27 1556.4,128.84 1557.4,130.35 1558.4,131.81 1559.4,133.22 1560.0,134.04 1563.0,137.86 1566.0,141.28 1569.0,144.34 1572.0,147.08 1575.0,149.53 1578.0,151.73 1581.0,153.69 1584.0,155.45 1587.0,157.03 1590.0,158.45 1593.0,159.71 1596.0,160.85 1599.0,161.87 1602.0,162.78 1605.0,163.60 1608.0,164.34 1611.0,165.00 1614.0,165.59 1617.0,166.12 1620.0,166.60 1623.0,167.02 1626.0,167.41 1629.0,167.75 1632.0,168.06 1635.0,168.34 1638.0,168.59 1641.0,168.81 1644.0,169.01 1647.0,169.19 1650.0,169.36 1653.0,169.50 1656.0,169.63 1659.0,169.75 1662.0,169.86 1665.0,169.95 1668.0,170.04 1671.0,170.11 1674.0,170.18 1677.0,170.25 1680.0,170.30 1683.0,170.35 1686.0,170.40 1689.0,170.44 1692.0,170.47 1695.0,170.51 1698.0,170.54 1701.0,170.56 1704.0,170.59 1707.0,170.61 1710.0,170.63" stroke="rgb(242,159,20)"/><polyline points="1525.4,35.80 1526.4,41.17 1527.4,46.15 1528.4,50.88 1529.4,55.39 1530.4,59.70 1531.4,63.83 1532.4,67.79 1533.4,71.59 1534.4,75.24 1535.4,78.74 1536.4,82.11 1537.4,85.35 1538.4,88.46 1539.4,91.46 1540.4,94.34 1541.4,97.11 1542.4,99.77 1543.4,102.34 1544.4,104.81 1545.4,107.19 1546.4,109.48 1547.4,111.68 1548.4,113.80 1549.4,115.85 1550.4,117.82 1551.4,119.71 1552.4,121.54 1553.4,123.30 1554.4,124.99 1555.4,126.63 1556.4,128.20 1557.4,129.72 1558.4,131.18 1559.4,132.59 1560.0,133.41 1563.0,137.25 1566.0,140.69 1569.0,143.77 1572.0,146.53 1575.0,149.01 1578.0,151.23 1581.0,153.22 1584.0,155.01 1587.0,156.61 1590.0,158.05 1593.0,159.34 1596.0,160.50 1599.0,161.54 1602.0,162.47 1605.0,163.31 1608.0,164.07 1611.0,164.74 1614.0,165.35 1617.0,165.90 1620.0,166.39 1623.0,166.83 1626.0,167.23 1629.0,167.59 1632.0,167.91 1635.0,168.20 1638.0,168.46 1641.0,168.69 1644.0,168.90 1647.0,169.09 1650.0,169.26 1653.0,169.42 1656.0,169.55 1659.0,169.68 1662.0,169.79 1665.0,169.89 1668.0,169.98 1671.0,170.06 1674.0,170.14 1677.0,170.20 1680.0,170.26 1683.0,170.31 1686.0,170.36 1689.0,170.41 1692.0,170.44 1695.0,170.48 1698.0,170.51 1701.0,170.54 1704.0,170.57 1707.0,170.59 1710.0,170.61" stroke="rgb(243,151,20)"/><polyline points="1525.4,35.80 1526.4,41.11 1527.4,46.04 1528.4,50.71 1529.4,55.17 1530.4,59.44 1531.4,63.53 1532.4,67.46 1533.4,71.22 1534.4,74.84 1535.4,78.32 1536.4,81.66 1537.4,84.87 1538.4,87.96 1539.4,90.94 1540.4,93.80 1541.4,96.55 1542.4,99.20 1543.4,101.76 1544.4,104.22 1545.4,106.59 1546.4,108.87 1547.4,111.06 1548.4,113.18 1549.4,115.22 1550.4,117.19 1551.4,119.08 1552.4,120.91 1553.4,122.66 1554.4,124.36 1555.4,125.99 1556.4,127.57 1557.4,129.09 1558.4,130.55 1559.4,131.97 1560.0,132.79 1563.0,136.64 1566.0,140.10 1569.0,143.20 1572.0,145.99 1575.0,148.48 1578.0,150.73 1581.0,152.74 1584.0,154.55 1587.0,156.18 1590.0,157.64 1593.0,158.96 1596.0,160.14 1599.0,161.20 1602.0,162.16 1605.0,163.02 1608.0,163.79 1611.0,164.49 1614.0,165.12 1617.0,165.68 1620.0,166.19 1623.0,166.64 1626.0,167.05 1629.0,167.42 1632.0,167.76 1635.0,168.06 1638.0,168.33 1641.0,168.57 1644.0,168.79 1647.0,168.99 1650.0,169.17 1653.0,169.33 1656.0,169.47 1659.0,169.60 1662.0,169.72 1665.0,169.83 1668.0,169.92 1671.0,170.01 1674.0,170.09 1677.0,170.16 1680.0,170.22 1683.0,170.28 1686.0,170.33 1689.0,170.37 1692.0,170.41 1695.0,170.45 1698.0,170.49 1701.0,170.52 1704.0,170.54 1707.0,170.57 1710.0,170.59" stroke="rgb(244,142,20)"/><polyline points="1525.4,35.80 1526.4,41.06 1527.4,45.93 1528.4,50.55 1529.4,54.97 1530.4,59.20 1531.4,63.25 1532.4,67.13 1533.4,70.86 1534.4,74.45 1535.4,77.90 1536.4,81.21 1537.4,84.40 1538.4,87.47 1539.4,90.43 1540.4,93.27 1541.4,96.01 1542.4,98.65 1543.4,101.19 1544.4,103.64 1545.4,105.99 1546.4,108.27 1547.4,110.46 1548.4,112.57 1549.4,114.60 1550.4,116.57 1551.4,118.46 1552.4,120.28 1553.4,122.04 1554.4,123.73 1555.4,125.37 1556.4,126.95 1557.4,128.47 1558.4,129.93 1559.4,131.35 1560.0,132.17 1563.0,136.04 1566.0,139.52 1569.0,142.64 1572.0,145.44 1575.0,147.96 1578.0,150.23 1581.0,152.27 1584.0,154.10 1587.0,155.75 1590.0,157.24 1593.0,158.58 1596.0,159.78 1599.0,160.87 1602.0,161.84 1605.0,162.72 1608.0,163.52 1611.0,164.23 1614.0,164.87 1617.0,165.45 1620.0,165.98 1623.0,166.45 1626.0,166.87 1629.0,167.26 1632.0,167.60 1635.0,167.91 1638.0,168.19 1641.0,168.45 1644.0,168.68 1647.0,168.88 1650.0,169.07 1653.0,169.24 1656.0,169.39 1659.0,169.53 1662.0,169.65 1665.0,169.76 1668.0,169.86 1671.0,169.95 1674.0,170.03 1677.0,170.11 1680.0,170.17 1683.0,170.23 1686.0,170.29 1689.0,170.34 1692.0,170.38 1695.0,170.42 1698.0,170.46 1701.0,170.49 1704.0,170.52 1707.0,170.55 1710.0,170.57" stroke="rgb(244,134,20)"/><polyline points="1525.4,35.80 1526.4,41.00 1527.4,45.82 1528.4,50.40 1529.4,54.77 1530.4,58.95 1531.4,62.96 1532.4,66.81 1533.4,70.51 1534.4,74.07 1535.4,77.49 1536.4,80.78 1537.4,83.94 1538.4,86.99 1539.4,89.93 1540.4,92.75 1541.4,95.48 1542.4,98.10 1543.4,100.63 1544.4,103.06 1545.4,105.41 1546.4,107.68 1547.4,109.86 1548.4,111.97 1549.4,114.00 1550.4,115.95 1551.4,117.84 1552.4,119.66 1553.4,121.42 1554.4,123.12 1555.4,124.75 1556.4,126.33 1557.4,127.85 1558.4,129.32 1559.4,130.74 1560.0,131.57 1563.0,135.45 1566.0,138.94 1569.0,142.08 1572.0,144.90 1575.0,147.44 1578.0,149.73 1581.0,151.80 1584.0,153.65 1587.0,155.33 1590.0,156.84 1593.0,158.20 1596.0,159.42 1599.0,160.53 1602.0,161.52 1605.0,162.42 1608.0,163.23 1611.0,163.97 1614.0,164.63 1617.0,165.22 1620.0,165.76 1623.0,166.25 1626.0,166.69 1629.0,167.08 1632.0,167.44 1635.0,167.76 1638.0,168.06 1641.0,168.32 1644.0,168.56 1647.0,168.77 1650.0,168.97 1653.0,169.14 1656.0,169.30 1659.0,169.44 1662.0,169.57 1665.0,169.69 1668.0,169.80 1671.0,169.89 1674.0,169.98 1677.0,170.06 1680.0,170.13 1683.0,170.19 1686.0,170.25 1689.0,170.30 1692.0,170.35 1695.0,170.39 1698.0,170.43 1701.0,170.47 1704.0,170.50 1707.0,170.53 1710.0,170.55" stroke="rgb(243,127,20)"/><polyline points="1525.4,35.80 1526.4,40.95 1527.4,45.72 1528.4,50.25 1529.4,54.57 1530.4,58.72 1531.4,62.69 1532.4,66.50 1533.4,70.17 1534.4,73.70 1535.4,77.09 1536.4,80.35 1537.4,83.49 1538.4,86.52 1539.4,89.44 1540.4,92.24 1541.4,94.95 1542.4,97.56 1543.4,100.08 1544.4,102.50 1545.4,104.84 1546.4,107.10 1547.4,109.27 1548.4,111.37 1549.4,113.40 1550.4,115.35 1551.4,117.24 1552.4,119.06 1553.4,120.81 1554.4,122.51 1555.4,124.14 1556.4,125.72 1557.4,127.25 1558.4,128.72 1559.4,130.14 1560.0,130.97 1563.0,134.86 1566.0,138.36 1569.0,141.52 1572.0,144.36 1575.0,146.93 1578.0,149.24 1581.0,151.32 1584.0,153.20 1587.0,154.90 1590.0,156.43 1593.0,157.81 1596.0,159.06 1599.0,160.18 1602.0,161.20 1605.0,162.12 1608.0,162.95 1611.0,163.70 1614.0,164.38 1617.0,164.99 1620.0,165.54 1623.0,166.05 1626.0,166.50 1629.0,166.91 1632.0,167.28 1635.0,167.61 1638.0,167.91 1641.0,168.19 1644.0,168.43 1647.0,168.66 1650.0,168.86 1653.0,169.04 1656.0,169.21 1659.0,169.36 1662.0,169.50 1665.0,169.62 1668.0,169.73 1671.0,169.83 1674.0,169.92 1677.0,170.01 1680.0,170.08 1683.0,170.15 1686.0,170.21 1689.0,170.26 1692.0,170.31 1695.0,170.36 1698.0,170.40 1701.0,170.44 1704.0,170.47 1707.0,170.50 1710.0,170.53" stroke="rgb(242,120,20)"/><polyline points="1525.4,35.80 1526.4,40.90 1527.4,45.62 1528.4,50.10 1529.4,54.38 1530.4,58.49 1531.4,62.42 1532.4,66.20 1533.4,69.83 1534.4,73.33 1535.4,76.69 1536.4,79.93 1537.4,83.05 1538.4,86.06 1539.4,88.95 1540.4,91.75 1541.4,94.44 1542.4,97.03 1543.4,99.54 1544.4,101.95 1545.4,104.28 1546.4,106.53 1547.4,108.70 1548.4,110.79 1549.4,112.81 1550.4,114.76 1551.4,116.64 1552.4,118.46 1553.4,120.21 1554.4,121.91 1555.4,123.54 1556.4,125.12 1557.4,126.65 1558.4,128.12 1559.4,129.54 1560.0,130.37 1563.0,134.27 1566.0,137.79 1569.0,140.96 1572.0,143.83 1575.0,146.41 1578.0,148.74 1581.0,150.85 1584.0,152.75 1587.0,154.47 1590.0,156.02 1593.0,157.42 1596.0,158.69 1599.0,159.84 1602.0,160.88 1605.0,161.82 1608.0,162.66 1611.0,163.43 1614.0,164.13 1617.0,164.76 1620.0,165.32 1623.0,165.84 1626.0,166.30 1629.0,166.73 1632.0,167.11 1635.0,167.45 1638.0,167.77 1641.0,168.05 1644.0,168.31 1647.0,168.54 1650.0,168.75 1653.0,168.94 1656.0,169.12 1659.0,169.27 1662.0,169.42 1665.0,169.54 1668.0,169.66 1671.0,169.77 1674.0,169.86 1677.0,169.95 1680.0,170.03 1683.0,170.10 1686.0,170.17 1689.0,170.22 1692.0,170.28 1695.0,170.33 1698.0,170.37 1701.0,170.41 1704.0,170.45 1707.0,170.48 1710.0,170.51" stroke="rgb(242,113,20)"/><polyline points="1525.4,35.80 1526.4,40.85 1527.4,45.52 1528.4,49.96 1529.4,54.20 1530.4,58.26 1531.4,62.16 1532.4,65.90 1533.4,69.51 1534.4,72.97 1535.4,76.31 1536.4,79.52 1537.4,82.62 1538.4,85.61 1539.4,88.48 1540.4,91.26 1541.4,93.93 1542.4,96.52 1543.4,99.01 1544.4,101.41 1545.4,103.73 1546.4,105.97 1547.4,108.13 1548.4,110.22 1549.4,112.23 1550.4,114.18 1551.4,116.05 1552.4,117.87 1553.4,119.62 1554.4,121.31 1555.4,122.95 1556.4,124.53 1557.4,126.05 1558.4,127.53 1559.4,128.95 1560.0,129.79 1563.0,133.70 1566.0,137.23 1569.0,140.41 1572.0,143.29 1575.0,145.90 1578.0,148.25 1581.0,150.38 1584.0,152.30 1587.0,154.04 1590.0,155.61 1593.0,157.04 1596.0,158.33 1599.0,159.49 1602.0,160.55 1605.0,161.51 1608.0,162.37 1611.0,163.16 1614.0,163.87 1617.0,164.52 1620.0,165.10 1623.0,165.63 1626.0,166.11 1629.0,166.54 1632.0,166.94 1635.0,167.30 1638.0,167.62 1641.0,167.91 1644.0,168.18 1647.0,168.42 1650.0,168.64 1653.0,168.84 1656.0,169.02 1659.0,169.18 1662.0,169.33 1665.0,169.47 1668.0,169.59 1671.0,169.70 1674.0,169.80 1677.0,169.89 1680.0,169.98 1683.0,170.05 1686.0,170.12 1689.0,170.18 1692.0,170.24 1695.0,170.29 1698.0,170.34 1701.0,170.38 1704.0,170.42 1707.0,170.45 1710.0,170.48" stroke="rgb(241,105,20)"/><polyline points="1525.4,35.80 1526.4,40.80 1527.4,45.42 1528.4,49.82 1529.4,54.02 1530.4,58.04 1531.4,61.90 1532.4,65.62 1533.4,69.19 1534.4,72.62 1535.4,75.93 1536.4,79.12 1537.4,82.20 1538.4,85.16 1539.4,88.02 1540.4,90.78 1541.4,93.44 1542.4,96.01 1543.4,98.49 1544.4,100.88 1545.4,103.19 1546.4,105.42 1547.4,107.57 1548.4,109.65 1549.4,111.66 1550.4,113.60 1551.4,115.48 1552.4,117.29 1553.4,119.04 1554.4,120.73 1555.4,122.36 1556.4,123.94 1557.4,125.47 1558.4,126.94 1559.4,128.37 1560.0,129.20 1563.0,133.12 1566.0,136.67 1569.0,139.87 1572.0,142.77 1575.0,145.39 1578.0,147.76 1581.0,149.90 1584.0,151.85 1587.0,153.61 1590.0,155.20 1593.0,156.65 1596.0,157.96 1599.0,159.15 1602.0,160.22 1605.0,161.20 1608.0,162.08 1611.0,162.88 1614.0,163.61 1617.0,164.27 1620.0,164.87 1623.0,165.42 1626.0,165.91 1629.0,166.36 1632.0,166.76 1635.0,167.13 1638.0,167.47 1641.0,167.77 1644.0,168.05 1647.0,168.30 1650.0,168.53 1653.0,168.73 1656.0,168.92 1659.0,169.09 1662.0,169.25 1665.0,169.39 1668.0,169.52 1671.0,169.63 1674.0,169.74 1677.0,169.83 1680.0,169.92 1683.0,170.00 1686.0,170.07 1689.0,170.14 1692.0,170.20 1695.0,170.25 1698.0,170.30 1701.0,170.35 1704.0,170.39 1707.0,170.43 1710.0,170.46" stroke="rgb(240,98,20)"/><polyline points="1525.4,35.80 1526.4,40.75 1527.4,45.33 1528.4,49.68 1529.4,53.84 1530.4,57.83 1531.4,61.65 1532.4,65.33 1533.4,68.87 1534.4,72.28 1535.4,75.57 1536.4,78.73 1537.4,81.78 1538.4,84.73 1539.4,87.57 1540.4,90.31 1541.4,92.95 1542.4,95.51 1543.4,97.97 1544.4,100.36 1545.4,102.65 1546.4,104.88 1547.4,107.02 1548.4,109.10 1549.4,111.10 1550.4,113.03 1551.4,114.91 1552.4,116.71 1553.4,118.46 1554.4,120.15 1555.4,121.78 1556.4,123.36 1557.4,124.89 1558.4,126.37 1559.4,127.80 1560.0,128.63 1563.0,132.56 1566.0,136.11 1569.0,139.33 1572.0,142.24 1575.0,144.88 1578.0,147.27 1581.0,149.43 1584.0,151.40 1587.0,153.18 1590.0,154.80 1593.0,156.26 1596.0,157.59 1599.0,158.80 1602.0,159.89 1605.0,160.89 1608.0,161.79 1611.0,162.61 1614.0,163.35 1617.0,164.03 1620.0,164.64 1623.0,165.20 1626.0,165.71 1629.0,166.17 1632.0,166.59 1635.0,166.97 1638.0,167.31 1641.0,167.63 1644.0,167.91 1647.0,168.17 1650.0,168.41 1653.0,168.62 1656.0,168.82 1659.0,169.00 1662.0,169.16 1665.0,169.31 1668.0,169.44 1671.0,169.56 1674.0,169.67 1677.0,169.77 1680.0,169.86 1683.0,169.95 1686.0,170.02 1689.0,170.09 1692.0,170.16 1695.0,170.21 1698.0,170.27 1701.0,170.31 1704.0,170.36 1707.0,170.40 1710.0,170.43" stroke="rgb(239,91,20)"/><polyline points="1525.4,35.80 1526.4,40.71 1527.4,45.24 1528.4,49.55 1529.4,53.67 1530.4,57.62 1531.4,61.41 1532.4,65.06 1533.4,68.57 1534.4,71.95 1535.4,75.21 1536.4,78.35 1537.4,81.38 1538.4,84.30 1539.4,87.12 1540.4,89.85 1541.4,92.48 1542.4,95.02 1543.4,97.47 1544.4,99.84 1545.4,102.13 1546.4,104.34 1547.4,106.48 1548.4,108.55 1549.4,110.55 1550.4,112.48 1551.4,114.34 1552.4,116.15 1553.4,117.89 1554.4,119.58 1555.4,121.21 1556.4,122.79 1557.4,124.32 1558.4,125.80 1559.4,127.23 1560.0,128.06 1563.0,131.99 1566.0,135.56 1569.0,138.79 1572.0,141.72 1575.0,144.37 1578.0,146.78 1581.0,148.97 1584.0,150.95 1587.0,152.75 1590.0,154.39 1593.0,155.87 1596.0,157.22 1599.0,158.44 1602.0,159.56 1605.0,160.57 1608.0,161.49 1611.0,162.33 1614.0,163.09 1617.0,163.78 1620.0,164.41 1623.0,164.98 1626.0,165.50 1629.0,165.97 1632.0,166.40 1635.0,166.80 1638.0,167.15 1641.0,167.48 1644.0,167.77 1647.0,168.04 1650.0,168.29 1653.0,168.51 1656.0,168.71 1659.0,168.90 1662.0,169.07 1665.0,169.22 1668.0,169.36 1671.0,169.49 1674.0,169.60 1677.0,169.71 1680.0,169.81 1683.0,169.89 1686.0,169.97 1689.0,170.05 1692.0,170.11 1695.0,170.17 1698.0,170.23 1701.0,170.28 1704.0,170.32 1707.0,170.37 1710.0,170.40" stroke="rgb(238,84,20)"/><polyline points="1525.4,35.80 1526.4,40.66 1527.4,45.15 1528.4,49.42 1529.4,53.50 1530.4,57.41 1531.4,61.17 1532.4,64.78 1533.4,68.27 1534.4,71.62 1535.4,74.85 1536.4,77.97 1537.4,80.98 1538.4,83.89 1539.4,86.69 1540.4,89.40 1541.4,92.01 1542.4,94.54 1543.4,96.98 1544.4,99.34 1545.4,101.62 1546.4,103.82 1547.4,105.95 1548.4,108.01 1549.4,110.00 1550.4,111.93 1551.4,113.79 1552.4,115.59 1553.4,117.33 1554.4,119.02 1555.4,120.65 1556.4,122.23 1557.4,123.76 1558.4,125.23 1559.4,126.66 1560.0,127.50 1563.0,131.44 1566.0,135.01 1569.0,138.25 1572.0,141.20 1575.0,143.87 1578.0,146.29 1581.0,148.50 1584.0,150.50 1587.0,152.32 1590.0,153.98 1593.0,155.48 1596.0,156.85 1599.0,158.09 1602.0,159.22 1605.0,160.25 1608.0,161.19 1611.0,162.04 1614.0,162.82 1617.0,163.53 1620.0,164.17 1623.0,164.76 1626.0,165.29 1629.0,165.78 1632.0,166.22 1635.0,166.62 1638.0,166.99 1641.0,167.33 1644.0,167.63 1647.0,167.91 1650.0,168.16 1653.0,168.39 1656.0,168.61 1659.0,168.80 1662.0,168.97 1665.0,169.13 1668.0,169.28 1671.0,169.41 1674.0,169.53 1677.0,169.64 1680.0,169.74 1683.0,169.84 1686.0,169.92 1689.0,170.00 1692.0,170.07 1695.0,170.13 1698.0,170.19 1701.0,170.24 1704.0,170.29 1707.0,170.33 1710.0,170.37" stroke="rgb(238,77,20)"/><polyline points="1525.4,35.80 1526.4,40.62 1527.4,45.06 1528.4,49.29 1529.4,53.33 1530.4,57.21 1531.4,60.93 1532.4,64.52 1533.4,67.97 1534.4,71.30 1535.4,74.51 1536.4,77.60 1537.4,80.59 1538.4,83.48 1539.4,86.26 1540.4,88.95 1541.4,91.55 1542.4,94.06 1543.4,96.49 1544.4,98.84 1545.4,101.11 1546.4,103.30 1547.4,105.43 1548.4,107.48 1549.4,109.46 1550.4,111.38 1551.4,113.24 1552.4,115.04 1553.4,116.78 1554.4,118.46 1555.4,120.09 1556.4,121.67 1557.4,123.20 1558.4,124.68 1559.4,126.11 1560.0,126.94 1563.0,130.89 1566.0,134.47 1569.0,137.73 1572.0,140.68 1575.0,143.37 1578.0,145.81 1581.0,148.03 1584.0,150.05 1587.0,151.89 1590.0,153.56 1593.0,155.09 1596.0,156.47 1599.0,157.74 1602.0,158.89 1605.0,159.93 1608.0,160.89 1611.0,161.76 1614.0,162.55 1617.0,163.27 1620.0,163.93 1623.0,164.53 1626.0,165.08 1629.0,165.58 1632.0,166.03 1635.0,166.45 1638.0,166.83 1641.0,167.17 1644.0,167.49 1647.0,167.77 1650.0,168.04 1653.0,168.28 1656.0,168.49 1659.0,168.69 1662.0,168.88 1665.0,169.04 1668.0,169.19 1671.0,169.33 1674.0,169.46 1677.0,169.58 1680.0,169.68 1683.0,169.78 1686.0,169.87 1689.0,169.95 1692.0,170.02 1695.0,170.09 1698.0,170.15 1701.0,170.20 1704.0,170.25 1707.0,170.30 1710.0,170.34" stroke="rgb(237,69,20)"/><polyline points="1525.4,35.80 1526.4,40.57 1527.4,44.98 1528.4,49.17 1529.4,53.17 1530.4,57.01 1531.4,60.71 1532.4,64.26 1533.4,67.68 1534.4,70.98 1535.4,74.17 1536.4,77.24 1537.4,80.21 1538.4,83.07 1539.4,85.84 1540.4,88.52 1541.4,91.10 1542.4,93.60 1543.4,96.01 1544.4,98.35 1545.4,100.61 1546.4,102.80 1547.4,104.91 1548.4,106.96 1549.4,108.93 1550.4,110.85 1551.4,112.70 1552.4,114.50 1553.4,116.24 1554.4,117.92 1555.4,119.54 1556.4,121.12 1557.4,122.65 1558.4,124.12 1559.4,125.56 1560.0,126.39 1563.0,130.34 1566.0,133.93 1569.0,137.20 1572.0,140.17 1575.0,142.87 1578.0,145.33 1581.0,147.57 1584.0,149.61 1587.0,151.46 1590.0,153.15 1593.0,154.70 1596.0,156.10 1599.0,157.38 1602.0,158.55 1605.0,159.61 1608.0,160.58 1611.0,161.47 1614.0,162.28 1617.0,163.02 1620.0,163.69 1623.0,164.30 1626.0,164.86 1629.0,165.38 1632.0,165.84 1635.0,166.27 1638.0,166.66 1641.0,167.01 1644.0,167.34 1647.0,167.64 1650.0,167.91 1653.0,168.15 1656.0,168.38 1659.0,168.59 1662.0,168.78 1665.0,168.95 1668.0,169.11 1671.0,169.25 1674.0,169.38 1677.0,169.50 1680.0,169.61 1683.0,169.72 1686.0,169.81 1689.0,169.89 1692.0,169.97 1695.0,170.04 1698.0,170.10 1701.0,170.16 1704.0,170.22 1707.0,170.27 1710.0,170.31" stroke="rgb(236,62,20)"/><polyline points="1525.4,35.80 1526.4,40.53 1527.4,44.90 1528.4,49.04 1529.4,53.01 1530.4,56.82 1531.4,60.48 1532.4,64.01 1533.4,67.40 1534.4,70.68 1535.4,73.84 1536.4,76.89 1537.4,79.83 1538.4,82.68 1539.4,85.43 1540.4,88.09 1541.4,90.66 1542.4,93.14 1543.4,95.55 1544.4,97.87 1545.4,100.12 1546.4,102.30 1547.4,104.40 1548.4,106.44 1549.4,108.41 1550.4,110.32 1551.4,112.17 1552.4,113.96 1553.4,115.70 1554.4,117.38 1555.4,119.00 1556.4,120.58 1557.4,122.10 1558.4,123.58 1559.4,125.01 1560.0,125.85 1563.0,129.80 1566.0,133.40 1569.0,136.68 1572.0,139.66 1575.0,142.38 1578.0,144.85 1581.0,147.11 1584.0,149.16 1587.0,151.04 1590.0,152.74 1593.0,154.30 1596.0,155.73 1599.0,157.02 1602.0,158.21 1605.0,159.29 1608.0,160.28 1611.0,161.18 1614.0,162.00 1617.0,162.76 1620.0,163.44 1623.0,164.07 1626.0,164.65 1629.0,165.17 1632.0,165.65 1635.0,166.09 1638.0,166.49 1641.0,166.85 1644.0,167.19 1647.0,167.49 1650.0,167.77 1653.0,168.03 1656.0,168.26 1659.0,168.48 1662.0,168.68 1665.0,168.85 1668.0,169.02 1671.0,169.17 1674.0,169.31 1677.0,169.43 1680.0,169.55 1683.0,169.65 1686.0,169.75 1689.0,169.84 1692.0,169.92 1695.0,169.99 1698.0,170.06 1701.0,170.12 1704.0,170.18 1707.0,170.23 1710.0,170.28" stroke="rgb(235,55,20)"/><polyline points="1525.4,35.80 1526.4,40.49 1527.4,44.81 1528.4,48.93 1529.4,52.86 1530.4,56.63 1531.4,60.26 1532.4,63.76 1533.4,67.13 1534.4,70.38 1535.4,73.51 1536.4,76.54 1537.4,79.47 1538.4,82.29 1539.4,85.03 1540.4,87.67 1541.4,90.22 1542.4,92.69 1543.4,95.08 1544.4,97.40 1545.4,99.64 1546.4,101.81 1547.4,103.90 1548.4,105.93 1549.4,107.90 1550.4,109.81 1551.4,111.65 1552.4,113.44 1553.4,115.17 1554.4,116.84 1555.4,118.47 1556.4,120.04 1557.4,121.56 1558.4,123.04 1559.4,124.47 1560.0,125.31 1563.0,129.27 1566.0,132.88 1569.0,136.16 1572.0,139.15 1575.0,141.88 1578.0,144.37 1581.0,146.64 1584.0,148.72 1587.0,150.61 1590.0,152.33 1593.0,153.91 1596.0,155.35 1599.0,156.67 1602.0,157.87 1605.0,158.97 1608.0,159.97 1611.0,160.89 1614.0,161.73 1617.0,162.49 1620.0,163.20 1623.0,163.84 1626.0,164.42 1629.0,164.96 1632.0,165.45 1635.0,165.90 1638.0,166.31 1641.0,166.69 1644.0,167.03 1647.0,167.35 1650.0,167.64 1653.0,167.90 1656.0,168.15 1659.0,168.37 1662.0,168.57 1665.0,168.76 1668.0,168.93 1671.0,169.08 1674.0,169.23 1677.0,169.36 1680.0,169.48 1683.0,169.59 1686.0,169.69 1689.0,169.78 1692.0,169.86 1695.0,169.94 1698.0,170.01 1701.0,170.08 1704.0,170.14 1707.0,170.19 1710.0,170.24" stroke="rgb(234,49,20)"/><polyline points="1525.4,35.80 1526.4,40.45 1527.4,44.74 1528.4,48.81 1529.4,52.71 1530.4,56.45 1531.4,60.05 1532.4,63.51 1533.4,66.86 1534.4,70.08 1535.4,73.19 1536.4,76.20 1537.4,79.10 1538.4,81.91 1539.4,84.63 1540.4,87.25 1541.4,89.79 1542.4,92.25 1543.4,94.63 1544.4,96.93 1545.4,99.16 1546.4,101.32 1547.4,103.41 1548.4,105.44 1549.4,107.40 1550.4,109.29 1551.4,111.13 1552.4,112.92 1553.4,114.64 1554.4,116.32 1555.4,117.94 1556.4,119.51 1557.4,121.03 1558.4,122.51 1559.4,123.94 1560.0,124.78 1563.0,128.74 1566.0,132.35 1569.0,135.65 1572.0,138.65 1575.0,141.40 1578.0,143.90 1581.0,146.19 1584.0,148.27 1587.0,150.18 1590.0,151.93 1593.0,153.52 1596.0,154.98 1599.0,156.31 1602.0,157.53 1605.0,158.64 1608.0,159.66 1611.0,160.59 1614.0,161.45 1617.0,162.23 1620.0,162.95 1623.0,163.60 1626.0,164.20 1629.0,164.75 1632.0,165.25 1635.0,165.72 1638.0,166.14 1641.0,166.52 1644.0,166.88 1647.0,167.20 1650.0,167.50 1653.0,167.77 1656.0,168.02 1659.0,168.25 1662.0,168.46 1665.0,168.66 1668.0,168.83 1671.0,168.99 1674.0,169.14 1677.0,169.28 1680.0,169.40 1683.0,169.52 1686.0,169.62 1689.0,169.72 1692.0,169.81 1695.0,169.89 1698.0,169.96 1701.0,170.03 1704.0,170.10 1707.0,170.15 1710.0,170.21" stroke="rgb(234,48,20)"/><polyline points="1525.4,35.80 1526.4,40.41 1527.4,44.66 1528.4,48.70 1529.4,52.56 1530.4,56.27 1531.4,59.84 1532.4,63.28 1533.4,66.59 1534.4,69.79 1535.4,72.88 1536.4,75.87 1537.4,78.75 1538.4,81.54 1539.4,84.24 1540.4,86.85 1541.4,89.37 1542.4,91.82 1543.4,94.19 1544.4,96.48 1545.4,98.70 1546.4,100.85 1547.4,102.93 1548.4,104.94 1549.4,106.90 1550.4,108.79 1551.4,110.63 1552.4,112.40 1553.4,114.13 1554.4,115.80 1555.4,117.42 1556.4,118.99 1557.4,120.51 1558.4,121.98 1559.4,123.42 1560.0,124.25 1563.0,128.22 1566.0,131.84 1569.0,135.14 1572.0,138.15 1575.0,140.91 1578.0,143.43 1581.0,145.73 1584.0,147.83 1587.0,149.76 1590.0,151.52 1593.0,153.13 1596.0,154.60 1599.0,155.95 1602.0,157.18 1605.0,158.32 1608.0,159.35 1611.0,160.30 1614.0,161.17 1617.0,161.96 1620.0,162.69 1623.0,163.36 1626.0,163.98 1629.0,164.54 1632.0,165.05 1635.0,165.52 1638.0,165.96 1641.0,166.36 1644.0,166.72 1647.0,167.05 1650.0,167.36 1653.0,167.64 1656.0,167.90 1659.0,168.14 1662.0,168.35 1665.0,168.55 1668.0,168.74 1671.0,168.90 1674.0,169.06 1677.0,169.20 1680.0,169.33 1683.0,169.45 1686.0,169.56 1689.0,169.66 1692.0,169.75 1695.0,169.84 1698.0,169.91 1701.0,169.99 1704.0,170.05 1707.0,170.11 1710.0,170.17" stroke="rgb(233,47,20)"/><polyline points="1525.4,35.80 1526.4,40.37 1527.4,44.58 1528.4,48.58 1529.4,52.41 1530.4,56.09 1531.4,59.63 1532.4,63.04 1533.4,66.33 1534.4,69.51 1535.4,72.57 1536.4,75.54 1537.4,78.40 1538.4,81.17 1539.4,83.86 1540.4,86.45 1541.4,88.96 1542.4,91.39 1543.4,93.75 1544.4,96.03 1545.4,98.24 1546.4,100.38 1547.4,102.45 1548.4,104.46 1549.4,106.41 1550.4,108.29 1551.4,110.12 1552.4,111.90 1553.4,113.62 1554.4,115.29 1555.4,116.90 1556.4,118.47 1557.4,119.99 1558.4,121.47 1559.4,122.90 1560.0,123.73 1563.0,127.70 1566.0,131.32 1569.0,134.63 1572.0,137.66 1575.0,140.43 1578.0,142.96 1581.0,145.27 1584.0,147.39 1587.0,149.33 1590.0,151.11 1593.0,152.73 1596.0,154.22 1599.0,155.59 1602.0,156.84 1605.0,157.99 1608.0,159.04 1611.0,160.00 1614.0,160.89 1617.0,161.70 1620.0,162.44 1623.0,163.12 1626.0,163.75 1629.0,164.32 1632.0,164.85 1635.0,165.33 1638.0,165.78 1641.0,166.18 1644.0,166.56 1647.0,166.90 1650.0,167.22 1653.0,167.51 1656.0,167.77 1659.0,168.02 1662.0,168.24 1665.0,168.45 1668.0,168.64 1671.0,168.81 1674.0,168.97 1677.0,169.12 1680.0,169.25 1683.0,169.38 1686.0,169.49 1689.0,169.60 1692.0,169.69 1695.0,169.78 1698.0,169.86 1701.0,169.94 1704.0,170.01 1707.0,170.07 1710.0,170.13" stroke="rgb(232,46,20)"/><polyline points="1525.4,35.80 1526.4,40.33 1527.4,44.51 1528.4,48.48 1529.4,52.27 1530.4,55.92 1531.4,59.43 1532.4,62.81 1533.4,66.08 1534.4,69.23 1535.4,72.27 1536.4,75.22 1537.4,78.06 1538.4,80.82 1539.4,83.48 1540.4,86.06 1541.4,88.56 1542.4,90.98 1543.4,93.32 1544.4,95.59 1545.4,97.79 1546.4,99.92 1547.4,101.98 1548.4,103.98 1549.4,105.92 1550.4,107.81 1551.4,109.63 1552.4,111.40 1553.4,113.12 1554.4,114.78 1555.4,116.39 1556.4,117.96 1557.4,119.48 1558.4,120.95 1559.4,122.38 1560.0,123.22 1563.0,127.19 1566.0,130.82 1569.0,134.13 1572.0,137.17 1575.0,139.95 1578.0,142.49 1581.0,144.82 1584.0,146.95 1587.0,148.91 1590.0,150.70 1593.0,152.34 1596.0,153.85 1599.0,155.23 1602.0,156.50 1605.0,157.66 1608.0,158.72 1611.0,159.70 1614.0,160.60 1617.0,161.43 1620.0,162.18 1623.0,162.88 1626.0,163.52 1629.0,164.10 1632.0,164.64 1635.0,165.14 1638.0,165.59 1641.0,166.01 1644.0,166.39 1647.0,166.75 1650.0,167.07 1653.0,167.37 1656.0,167.64 1659.0,167.89 1662.0,168.13 1665.0,168.34 1668.0,168.54 1671.0,168.72 1674.0,168.88 1677.0,169.03 1680.0,169.17 1683.0,169.30 1686.0,169.42 1689.0,169.53 1692.0,169.63 1695.0,169.72 1698.0,169.81 1701.0,169.89 1704.0,169.96 1707.0,170.03 1710.0,170.09" stroke="rgb(231,45,20)"/><polyline points="1525.4,35.80 1526.4,40.30 1527.4,44.44 1528.4,48.37 1529.4,52.13 1530.4,55.75 1531.4,59.23 1532.4,62.59 1533.4,65.83 1534.4,68.95 1535.4,71.98 1536.4,74.90 1537.4,77.73 1538.4,80.46 1539.4,83.11 1540.4,85.67 1541.4,88.16 1542.4,90.56 1543.4,92.89 1544.4,95.15 1545.4,97.34 1546.4,99.46 1547.4,101.52 1548.4,103.51 1549.4,105.45 1550.4,107.32 1551.4,109.14 1552.4,110.91 1553.4,112.62 1554.4,114.28 1555.4,115.89 1556.4,117.46 1557.4,118.97 1558.4,120.45 1559.4,121.87 1560.0,122.71 1563.0,126.68 1566.0,130.31 1569.0,133.64 1572.0,136.68 1575.0,139.47 1578.0,142.03 1581.0,144.37 1584.0,146.52 1587.0,148.49 1590.0,150.29 1593.0,151.95 1596.0,153.47 1599.0,154.87 1602.0,156.15 1605.0,157.33 1608.0,158.41 1611.0,159.40 1614.0,160.32 1617.0,161.15 1620.0,161.92 1623.0,162.63 1626.0,163.28 1629.0,163.88 1632.0,164.43 1635.0,164.94 1638.0,165.40 1641.0,165.83 1644.0,166.23 1647.0,166.59 1650.0,166.92 1653.0,167.23 1656.0,167.51 1659.0,167.77 1662.0,168.01 1665.0,168.23 1668.0,168.43 1671.0,168.62 1674.0,168.79 1677.0,168.95 1680.0,169.09 1683.0,169.23 1686.0,169.35 1689.0,169.46 1692.0,169.57 1695.0,169.67 1698.0,169.75 1701.0,169.84 1704.0,169.91 1707.0,169.98 1710.0,170.04" stroke="rgb(231,43,20)"/><polyline points="1525.4,35.80 1526.4,40.26 1527.4,44.36 1528.4,48.26 1529.4,52.00 1530.4,55.58 1531.4,59.04 1532.4,62.37 1533.4,65.58 1534.4,68.69 1535.4,71.69 1536.4,74.59 1537.4,77.40 1538.4,80.12 1539.4,82.75 1540.4,85.30 1541.4,87.77 1542.4,90.16 1543.4,92.48 1544.4,94.72 1545.4,96.90 1546.4,99.02 1547.4,101.06 1548.4,103.05 1549.4,104.98 1550.4,106.85 1551.4,108.66 1552.4,110.42 1553.4,112.13 1554.4,113.79 1555.4,115.40 1556.4,116.96 1557.4,118.47 1558.4,119.94 1559.4,121.37 1560.0,122.21 1563.0,126.18 1566.0,129.81 1569.0,133.15 1572.0,136.20 1575.0,139.00 1578.0,141.56 1581.0,143.92 1584.0,146.08 1587.0,148.06 1590.0,149.89 1593.0,151.56 1596.0,153.10 1599.0,154.51 1602.0,155.80 1605.0,157.00 1608.0,158.09 1611.0,159.10 1614.0,160.03 1617.0,160.88 1620.0,161.66 1623.0,162.39 1626.0,163.05 1629.0,163.66 1632.0,164.22 1635.0,164.74 1638.0,165.21 1641.0,165.65 1644.0,166.06 1647.0,166.43 1650.0,166.77 1653.0,167.09 1656.0,167.38 1659.0,167.64 1662.0,167.89 1665.0,168.12 1668.0,168.33 1671.0,168.52 1674.0,168.70 1677.0,168.86 1680.0,169.01 1683.0,169.15 1686.0,169.28 1689.0,169.39 1692.0,169.50 1695.0,169.60 1698.0,169.70 1701.0,169.78 1704.0,169.86 1707.0,169.93 1710.0,170.00" stroke="rgb(230,42,20)"/><polyline points="1525.4,35.80 1526.4,40.23 1527.4,44.30 1528.4,48.16 1529.4,51.87 1530.4,55.42 1531.4,58.85 1532.4,62.15 1533.4,65.34 1534.4,68.42 1535.4,71.40 1536.4,74.29 1537.4,77.08 1538.4,79.78 1539.4,82.39 1540.4,84.93 1541.4,87.38 1542.4,89.76 1543.4,92.07 1544.4,94.30 1545.4,96.47 1546.4,98.58 1547.4,100.62 1548.4,102.60 1549.4,104.52 1550.4,106.38 1551.4,108.19 1552.4,109.94 1553.4,111.65 1554.4,113.30 1555.4,114.91 1556.4,116.47 1557.4,117.98 1558.4,119.45 1559.4,120.88 1560.0,121.71 1563.0,125.68 1566.0,129.32 1569.0,132.66 1572.0,135.72 1575.0,138.53 1578.0,141.10 1581.0,143.47 1584.0,145.65 1587.0,147.64 1590.0,149.48 1593.0,151.17 1596.0,152.72 1599.0,154.15 1602.0,155.46 1605.0,156.67 1608.0,157.78 1611.0,158.80 1614.0,159.74 1617.0,160.60 1620.0,161.40 1623.0,162.14 1626.0,162.81 1629.0,163.43 1632.0,164.01 1635.0,164.54 1638.0,165.02 1641.0,165.47 1644.0,165.88 1647.0,166.27 1650.0,166.62 1653.0,166.94 1656.0,167.24 1659.0,167.51 1662.0,167.77 1665.0,168.00 1668.0,168.22 1671.0,168.42 1674.0,168.60 1677.0,168.77 1680.0,168.92 1683.0,169.07 1686.0,169.20 1689.0,169.32 1692.0,169.44 1695.0,169.54 1698.0,169.64 1701.0,169.73 1704.0,169.81 1707.0,169.88 1710.0,169.95" stroke="rgb(229,41,20)"/><polyline points="1525.4,35.80 1526.4,40.19 1527.4,44.23 1528.4,48.06 1529.4,51.73 1530.4,55.26 1531.4,58.66 1532.4,61.94 1533.4,65.11 1534.4,68.17 1535.4,71.13 1536.4,73.99 1537.4,76.76 1538.4,79.44 1539.4,82.04 1540.4,84.56 1541.4,87.00 1542.4,89.37 1543.4,91.66 1544.4,93.89 1545.4,96.05 1546.4,98.14 1547.4,100.17 1548.4,102.15 1549.4,104.06 1550.4,105.92 1551.4,107.72 1552.4,109.47 1553.4,111.17 1554.4,112.82 1555.4,114.42 1556.4,115.98 1557.4,117.49 1558.4,118.96 1559.4,120.39 1560.0,121.22 1563.0,125.19 1566.0,128.83 1569.0,132.17 1572.0,135.24 1575.0,138.06 1578.0,140.65 1581.0,143.03 1584.0,145.21 1587.0,147.23 1590.0,149.08 1593.0,150.78 1596.0,152.34 1599.0,153.78 1602.0,155.11 1605.0,156.33 1608.0,157.46 1611.0,158.49 1614.0,159.45 1617.0,160.33 1620.0,161.14 1623.0,161.88 1626.0,162.57 1629.0,163.21 1632.0,163.79 1635.0,164.33 1638.0,164.83 1641.0,165.29 1644.0,165.71 1647.0,166.10 1650.0,166.46 1653.0,166.79 1656.0,167.10 1659.0,167.38 1662.0,167.64 1665.0,167.88 1668.0,168.11 1671.0,168.31 1674.0,168.50 1677.0,168.68 1680.0,168.84 1683.0,168.99 1686.0,169.12 1689.0,169.25 1692.0,169.37 1695.0,169.48 1698.0,169.58 1701.0,169.67 1704.0,169.75 1707.0,169.83 1710.0,169.91" stroke="rgb(228,40,20)"/><polyline points="1525.4,35.80 1526.4,40.16 1527.4,44.16 1528.4,47.96 1529.4,51.61 1530.4,55.11 1531.4,58.48 1532.4,61.73 1533.4,64.88 1534.4,67.91 1535.4,70.85 1536.4,73.69 1537.4,76.45 1538.4,79.11 1539.4,81.70 1540.4,84.20 1541.4,86.63 1542.4,88.98 1543.4,91.27 1544.4,93.48 1545.4,95.63 1546.4,97.72 1547.4,99.74 1548.4,101.70 1549.4,103.61 1550.4,105.46 1551.4,107.26 1552.4,109.01 1553.4,110.70 1554.4,112.35 1555.4,113.95 1556.4,115.50 1557.4,117.01 1558.4,118.48 1559.4,119.90 1560.0,120.74 1563.0,124.70 1566.0,128.35 1569.0,131.69 1572.0,134.77 1575.0,137.60 1578.0,140.19 1581.0,142.58 1584.0,144.78 1587.0,146.81 1590.0,148.67 1593.0,150.39 1596.0,151.97 1599.0,153.42 1602.0,154.76 1605.0,156.00 1608.0,157.14 1611.0,158.19 1614.0,159.16 1617.0,160.05 1620.0,160.87 1623.0,161.63 1626.0,162.33 1629.0,162.98 1632.0,163.57 1635.0,164.12 1638.0,164.63 1641.0,165.10 1644.0,165.53 1647.0,165.93 1650.0,166.30 1653.0,166.64 1656.0,166.96 1659.0,167.25 1662.0,167.52 1665.0,167.76 1668.0,167.99 1671.0,168.20 1674.0,168.40 1677.0,168.58 1680.0,168.75 1683.0,168.90 1686.0,169.04 1689.0,169.18 1692.0,169.30 1695.0,169.41 1698.0,169.51 1701.0,169.61 1704.0,169.70 1707.0,169.78 1710.0,169.86" stroke="rgb(227,39,20)"/><polyline points="1525.4,35.80 1526.4,40.13 1527.4,44.10 1528.4,47.87 1529.4,51.48 1530.4,54.96 1531.4,58.30 1532.4,61.53 1533.4,64.65 1534.4,67.67 1535.4,70.58 1536.4,73.41 1537.4,76.14 1538.4,78.79 1539.4,81.36 1540.4,83.85 1541.4,86.26 1542.4,88.61 1543.4,90.88 1544.4,93.08 1545.4,95.22 1546.4,97.30 1547.4,99.31 1548.4,101.27 1549.4,103.17 1550.4,105.01 1551.4,106.80 1552.4,108.55 1553.4,110.24 1554.4,111.88 1555.4,113.48 1556.4,115.03 1557.4,116.53 1558.4,118.00 1559.4,119.42 1560.0,120.26 1563.0,124.22 1566.0,127.87 1569.0,131.22 1572.0,134.30 1575.0,137.14 1578.0,139.74 1581.0,142.15 1584.0,144.36 1587.0,146.39 1590.0,148.27 1593.0,150.00 1596.0,151.59 1599.0,153.06 1602.0,154.42 1605.0,155.67 1608.0,156.82 1611.0,157.88 1614.0,158.86 1617.0,159.77 1620.0,160.60 1623.0,161.38 1626.0,162.09 1629.0,162.75 1632.0,163.35 1635.0,163.92 1638.0,164.43 1641.0,164.91 1644.0,165.35 1647.0,165.76 1650.0,166.14 1653.0,166.49 1656.0,166.81 1659.0,167.11 1662.0,167.39 1665.0,167.64 1668.0,167.88 1671.0,168.10 1674.0,168.30 1677.0,168.48 1680.0,168.66 1683.0,168.81 1686.0,168.96 1689.0,169.10 1692.0,169.22 1695.0,169.34 1698.0,169.45 1701.0,169.55 1704.0,169.64 1707.0,169.73 1710.0,169.81" stroke="rgb(227,38,20)"/><polyline points="1525.4,35.80 1526.4,40.09 1527.4,44.03 1528.4,47.78 1529.4,51.36 1530.4,54.81 1531.4,58.13 1532.4,61.33 1533.4,64.43 1534.4,67.42 1535.4,70.32 1536.4,73.12 1537.4,75.84 1538.4,78.48 1539.4,81.03 1540.4,83.50 1541.4,85.90 1542.4,88.23 1543.4,90.49 1544.4,92.69 1545.4,94.81 1546.4,96.88 1547.4,98.89 1548.4,100.84 1549.4,102.73 1550.4,104.57 1551.4,106.36 1552.4,108.09 1553.4,109.78 1554.4,111.42 1555.4,113.01 1556.4,114.56 1557.4,116.06 1558.4,117.53 1559.4,118.95 1560.0,119.78 1563.0,123.75 1566.0,127.39 1569.0,130.75 1572.0,133.84 1575.0,136.68 1578.0,139.30 1581.0,141.71 1584.0,143.93 1587.0,145.98 1590.0,147.87 1593.0,149.61 1596.0,151.22 1599.0,152.70 1602.0,154.07 1605.0,155.33 1608.0,156.50 1611.0,157.57 1614.0,158.57 1617.0,159.49 1620.0,160.34 1623.0,161.12 1626.0,161.84 1629.0,162.51 1632.0,163.13 1635.0,163.70 1638.0,164.23 1641.0,164.72 1644.0,165.17 1647.0,165.59 1650.0,165.98 1653.0,166.34 1656.0,166.67 1659.0,166.97 1662.0,167.26 1665.0,167.52 1668.0,167.76 1671.0,167.98 1674.0,168.19 1677.0,168.38 1680.0,168.56 1683.0,168.73 1686.0,168.88 1689.0,169.02 1692.0,169.15 1695.0,169.27 1698.0,169.38 1701.0,169.49 1704.0,169.58 1707.0,169.67 1710.0,169.75" stroke="rgb(226,36,20)"/><polyline points="1525.4,35.80 1526.4,40.06 1527.4,43.97 1528.4,47.68 1529.4,51.24 1530.4,54.66 1531.4,57.95 1532.4,61.14 1533.4,64.21 1534.4,67.18 1535.4,70.06 1536.4,72.85 1537.4,75.55 1538.4,78.16 1539.4,80.70 1540.4,83.16 1541.4,85.55 1542.4,87.87 1543.4,90.11 1544.4,92.30 1545.4,94.42 1546.4,96.47 1547.4,98.47 1548.4,100.41 1549.4,102.30 1550.4,104.13 1551.4,105.91 1552.4,107.64 1553.4,109.33 1554.4,110.96 1555.4,112.55 1556.4,114.10 1557.4,115.60 1558.4,117.06 1559.4,118.48 1560.0,119.31 1563.0,123.28 1566.0,126.92 1569.0,130.28 1572.0,133.37 1575.0,136.22 1578.0,138.85 1581.0,141.27 1584.0,143.51 1587.0,145.57 1590.0,147.47 1593.0,149.22 1596.0,150.84 1599.0,152.34 1602.0,153.72 1605.0,155.00 1608.0,156.18 1611.0,157.27 1614.0,158.27 1617.0,159.21 1620.0,160.07 1623.0,160.86 1626.0,161.60 1629.0,162.28 1632.0,162.91 1635.0,163.49 1638.0,164.03 1641.0,164.53 1644.0,164.99 1647.0,165.42 1650.0,165.81 1653.0,166.18 1656.0,166.52 1659.0,166.83 1662.0,167.12 1665.0,167.39 1668.0,167.64 1671.0,167.87 1674.0,168.08 1677.0,168.28 1680.0,168.47 1683.0,168.64 1686.0,168.79 1689.0,168.94 1692.0,169.07 1695.0,169.20 1698.0,169.32 1701.0,169.42 1704.0,169.52 1707.0,169.61 1710.0,169.70" stroke="rgb(225,35,20)"/><polyline points="1525.4,35.80 1526.4,40.03 1527.4,43.91 1528.4,47.59 1529.4,51.12 1530.4,54.52 1531.4,57.79 1532.4,60.94 1533.4,64.00 1534.4,66.95 1535.4,69.81 1536.4,72.57 1537.4,75.26 1538.4,77.86 1539.4,80.38 1540.4,82.83 1541.4,85.20 1542.4,87.50 1543.4,89.74 1544.4,91.91 1545.4,94.02 1546.4,96.07 1547.4,98.06 1548.4,100.00 1549.4,101.88 1550.4,103.70 1551.4,105.48 1552.4,107.20 1553.4,108.88 1554.4,110.51 1555.4,112.10 1556.4,113.64 1557.4,115.14 1558.4,116.60 1559.4,118.02 1560.0,118.85 1563.0,122.81 1566.0,126.46 1569.0,129.82 1572.0,132.92 1575.0,135.77 1578.0,138.41 1581.0,140.84 1584.0,143.08 1587.0,145.16 1590.0,147.07 1593.0,148.84 1596.0,150.47 1599.0,151.98 1602.0,153.37 1605.0,154.66 1608.0,155.86 1611.0,156.96 1614.0,157.98 1617.0,158.92 1620.0,159.79 1623.0,160.60 1626.0,161.35 1629.0,162.04 1632.0,162.68 1635.0,163.28 1638.0,163.82 1641.0,164.33 1644.0,164.80 1647.0,165.24 1650.0,165.64 1653.0,166.02 1656.0,166.37 1659.0,166.69 1662.0,166.99 1665.0,167.26 1668.0,167.52 1671.0,167.75 1674.0,167.97 1677.0,168.18 1680.0,168.37 1683.0,168.54 1686.0,168.70 1689.0,168.86 1692.0,169.00 1695.0,169.13 1698.0,169.25 1701.0,169.36 1704.0,169.46 1707.0,169.56 1710.0,169.65" stroke="rgb(224,34,20)"/><polyline points="1525.4,35.80 1526.4,40.00 1527.4,43.85 1528.4,47.50 1529.4,51.01 1530.4,54.37 1531.4,57.62 1532.4,60.76 1533.4,63.79 1534.4,66.72 1535.4,69.56 1536.4,72.31 1537.4,74.97 1538.4,77.56 1539.4,80.06 1540.4,82.50 1541.4,84.86 1542.4,87.15 1543.4,89.38 1544.4,91.54 1545.4,93.64 1546.4,95.68 1547.4,97.66 1548.4,99.59 1549.4,101.46 1550.4,103.28 1551.4,105.05 1552.4,106.77 1553.4,108.44 1554.4,110.07 1555.4,111.65 1556.4,113.19 1557.4,114.69 1558.4,116.14 1559.4,117.56 1560.0,118.39 1563.0,122.35 1566.0,126.00 1569.0,129.36 1572.0,132.46 1575.0,135.33 1578.0,137.97 1581.0,140.41 1584.0,142.66 1587.0,144.75 1590.0,146.67 1593.0,148.45 1596.0,150.10 1599.0,151.62 1602.0,153.03 1605.0,154.33 1608.0,155.53 1611.0,156.65 1614.0,157.68 1617.0,158.64 1620.0,159.52 1623.0,160.34 1626.0,161.10 1629.0,161.80 1632.0,162.46 1635.0,163.06 1638.0,163.62 1641.0,164.14 1644.0,164.62 1647.0,165.06 1650.0,165.48 1653.0,165.86 1656.0,166.21 1659.0,166.54 1662.0,166.85 1665.0,167.13 1668.0,167.39 1671.0,167.64 1674.0,167.86 1677.0,168.07 1680.0,168.27 1683.0,168.45 1686.0,168.62 1689.0,168.77 1692.0,168.92 1695.0,169.05 1698.0,169.17 1701.0,169.29 1704.0,169.40 1707.0,169.50 1710.0,169.59" stroke="rgb(224,33,20)"/><polyline points="1525.4,35.80 1526.4,39.97 1527.4,43.79 1528.4,47.42 1529.4,50.89 1530.4,54.24 1531.4,57.46 1532.4,60.57 1533.4,63.58 1534.4,66.49 1535.4,69.31 1536.4,72.04 1537.4,74.69 1538.4,77.26 1539.4,79.75 1540.4,82.17 1541.4,84.52 1542.4,86.80 1543.4,89.01 1544.4,91.17 1545.4,93.26 1546.4,95.29 1547.4,97.26 1548.4,99.18 1549.4,101.05 1550.4,102.86 1551.4,104.62 1552.4,106.34 1553.4,108.01 1554.4,109.63 1555.4,111.21 1556.4,112.74 1557.4,114.24 1558.4,115.69 1559.4,117.11 1560.0,117.94 1563.0,121.89 1566.0,125.54 1569.0,128.91 1572.0,132.01 1575.0,134.88 1578.0,137.53 1581.0,139.98 1584.0,142.25 1587.0,144.34 1590.0,146.28 1593.0,148.07 1596.0,149.72 1599.0,151.26 1602.0,152.68 1605.0,153.99 1608.0,155.21 1611.0,156.34 1614.0,157.38 1617.0,158.35 1620.0,159.25 1623.0,160.08 1626.0,160.85 1629.0,161.56 1632.0,162.23 1635.0,162.84 1638.0,163.41 1641.0,163.94 1644.0,164.43 1647.0,164.88 1650.0,165.30 1653.0,165.69 1656.0,166.06 1659.0,166.39 1662.0,166.71 1665.0,167.00 1668.0,167.27 1671.0,167.52 1674.0,167.75 1677.0,167.96 1680.0,168.17 1683.0,168.35 1686.0,168.52 1689.0,168.68 1692.0,168.83 1695.0,168.97 1698.0,169.10 1701.0,169.22 1704.0,169.33 1707.0,169.43 1710.0,169.53" stroke="rgb(223,32,20)"/><polyline points="1525.4,35.80 1526.4,39.94 1527.4,43.73 1528.4,47.33 1529.4,50.78 1530.4,54.10 1531.4,57.30 1532.4,60.39 1533.4,63.38 1534.4,66.27 1535.4,69.07 1536.4,71.78 1537.4,74.42 1538.4,76.97 1539.4,79.45 1540.4,81.85 1541.4,84.19 1542.4,86.46 1543.4,88.66 1544.4,90.80 1545.4,92.88 1546.4,94.90 1547.4,96.87 1548.4,98.78 1549.4,100.64 1550.4,102.45 1551.4,104.20 1552.4,105.91 1553.4,107.58 1554.4,109.20 1555.4,110.77 1556.4,112.30 1557.4,113.79 1558.4,115.25 1559.4,116.66 1560.0,117.49 1563.0,121.44 1566.0,125.09 1569.0,128.46 1572.0,131.57 1575.0,134.44 1578.0,137.10 1581.0,139.56 1584.0,141.83 1587.0,143.93 1590.0,145.88 1593.0,147.68 1596.0,149.35 1599.0,150.90 1602.0,152.33 1605.0,153.66 1608.0,154.89 1611.0,156.03 1614.0,157.08 1617.0,158.06 1620.0,158.97 1623.0,159.82 1626.0,160.60 1629.0,161.32 1632.0,162.00 1635.0,162.62 1638.0,163.20 1641.0,163.74 1644.0,164.24 1647.0,164.70 1650.0,165.13 1653.0,165.53 1656.0,165.90 1659.0,166.24 1662.0,166.56 1665.0,166.86 1668.0,167.14 1671.0,167.40 1674.0,167.63 1677.0,167.86 1680.0,168.06 1683.0,168.25 1686.0,168.43 1689.0,168.60 1692.0,168.75 1695.0,168.89 1698.0,169.02 1701.0,169.15 1704.0,169.26 1707.0,169.37 1710.0,169.47" stroke="rgb(222,31,20)"/><polyline points="1525.4,35.80 1526.4,39.92 1527.4,43.68 1528.4,47.25 1529.4,50.67 1530.4,53.97 1531.4,57.14 1532.4,60.21 1533.4,63.18 1534.4,66.05 1535.4,68.83 1536.4,71.53 1537.4,74.15 1538.4,76.68 1539.4,79.15 1540.4,81.54 1541.4,83.86 1542.4,86.12 1543.4,88.31 1544.4,90.44 1545.4,92.51 1546.4,94.52 1547.4,96.48 1548.4,98.39 1549.4,100.24 1550.4,102.04 1551.4,103.79 1552.4,105.50 1553.4,107.15 1554.4,108.77 1555.4,110.34 1556.4,111.87 1557.4,113.36 1558.4,114.81 1559.4,116.22 1560.0,117.04 1563.0,120.99 1566.0,124.64 1569.0,128.01 1572.0,131.12 1575.0,134.00 1578.0,136.67 1581.0,139.13 1584.0,141.42 1587.0,143.53 1590.0,145.49 1593.0,147.30 1596.0,148.98 1599.0,150.54 1602.0,151.98 1605.0,153.32 1608.0,154.56 1611.0,155.72 1614.0,156.79 1617.0,157.78 1620.0,158.70 1623.0,159.55 1626.0,160.34 1629.0,161.08 1632.0,161.76 1635.0,162.40 1638.0,162.99 1641.0,163.53 1644.0,164.04 1647.0,164.51 1650.0,164.95 1653.0,165.36 1656.0,165.74 1659.0,166.09 1662.0,166.42 1665.0,166.73 1668.0,167.01 1671.0,167.27 1674.0,167.52 1677.0,167.74 1680.0,167.95 1683.0,168.15 1686.0,168.33 1689.0,168.50 1692.0,168.66 1695.0,168.81 1698.0,168.95 1701.0,169.08 1704.0,169.19 1707.0,169.30 1710.0,169.41" stroke="rgb(221,30,20)"/><polyline points="1525.4,35.80 1526.4,39.89 1527.4,43.62 1528.4,47.17 1529.4,50.57 1530.4,53.84 1531.4,56.99 1532.4,60.04 1533.4,62.98 1534.4,65.84 1535.4,68.60 1536.4,71.28 1537.4,73.88 1538.4,76.40 1539.4,78.85 1540.4,81.23 1541.4,83.54 1542.4,85.78 1543.4,87.97 1544.4,90.09 1545.4,92.15 1546.4,94.15 1547.4,96.10 1548.4,98.00 1549.4,99.84 1550.4,101.64 1551.4,103.38 1552.4,105.08 1553.4,106.74 1554.4,108.35 1555.4,109.91 1556.4,111.44 1557.4,112.92 1558.4,114.37 1559.4,115.78 1560.0,116.61 1563.0,120.55 1566.0,124.20 1569.0,127.57 1572.0,130.68 1575.0,133.57 1578.0,136.24 1581.0,138.71 1584.0,141.01 1587.0,143.13 1590.0,145.10 1593.0,146.92 1596.0,148.61 1599.0,150.18 1602.0,151.64 1605.0,152.99 1608.0,154.24 1611.0,155.41 1614.0,156.49 1617.0,157.49 1620.0,158.42 1623.0,159.28 1626.0,160.09 1629.0,160.84 1632.0,161.53 1635.0,162.17 1638.0,162.77 1641.0,163.33 1644.0,163.85 1647.0,164.33 1650.0,164.78 1653.0,165.19 1656.0,165.58 1659.0,165.94 1662.0,166.27 1665.0,166.59 1668.0,166.88 1671.0,167.15 1674.0,167.40 1677.0,167.63 1680.0,167.85 1683.0,168.05 1686.0,168.24 1689.0,168.41 1692.0,168.58 1695.0,168.73 1698.0,168.87 1701.0,169.00 1704.0,169.12 1707.0,169.24 1710.0,169.34" stroke="rgb(221,28,20)"/><polyline points="1525.4,35.80 1526.4,39.86 1527.4,43.57 1528.4,47.09 1529.4,50.46 1530.4,53.71 1531.4,56.84 1532.4,59.86 1533.4,62.79 1534.4,65.62 1535.4,68.37 1536.4,71.03 1537.4,73.62 1538.4,76.13 1539.4,78.56 1540.4,80.93 1541.4,83.22 1542.4,85.46 1543.4,87.63 1544.4,89.74 1545.4,91.79 1546.4,93.78 1547.4,95.73 1548.4,97.61 1549.4,99.45 1550.4,101.24 1551.4,102.98 1552.4,104.67 1553.4,106.32 1554.4,107.93 1555.4,109.49 1556.4,111.01 1557.4,112.50 1558.4,113.94 1559.4,115.35 1560.0,116.17 1563.0,120.11 1566.0,123.76 1569.0,127.13 1572.0,130.25 1575.0,133.14 1578.0,135.82 1581.0,138.30 1584.0,140.60 1587.0,142.73 1590.0,144.71 1593.0,146.54 1596.0,148.24 1599.0,149.82 1602.0,151.29 1605.0,152.65 1608.0,153.92 1611.0,155.09 1614.0,156.19 1617.0,157.20 1620.0,158.14 1623.0,159.02 1626.0,159.83 1629.0,160.59 1632.0,161.29 1635.0,161.95 1638.0,162.56 1641.0,163.12 1644.0,163.65 1647.0,164.14 1650.0,164.60 1653.0,165.02 1656.0,165.42 1659.0,165.78 1662.0,166.13 1665.0,166.44 1668.0,166.74 1671.0,167.02 1674.0,167.27 1677.0,167.51 1680.0,167.74 1683.0,167.94 1686.0,168.14 1689.0,168.32 1692.0,168.49 1695.0,168.64 1698.0,168.79 1701.0,168.92 1704.0,169.05 1707.0,169.17 1710.0,169.28" stroke="rgb(220,27,20)"/><polyline points="1525.4,35.80 1526.4,39.83 1527.4,43.51 1528.4,47.01 1529.4,50.36 1530.4,53.58 1531.4,56.69 1532.4,59.69 1533.4,62.60 1534.4,65.42 1535.4,68.15 1536.4,70.79 1537.4,73.36 1538.4,75.85 1539.4,78.27 1540.4,80.63 1541.4,82.91 1542.4,85.13 1543.4,87.29 1544.4,89.39 1545.4,91.43 1546.4,93.42 1547.4,95.36 1548.4,97.24 1549.4,99.07 1550.4,100.85 1551.4,102.58 1552.4,104.27 1553.4,105.92 1554.4,107.52 1555.4,109.08 1556.4,110.60 1557.4,112.07 1558.4,113.52 1559.4,114.92 1560.0,115.74 1563.0,119.68 1566.0,123.32 1569.0,126.69 1572.0,129.82 1575.0,132.71 1578.0,135.39 1581.0,137.88 1584.0,140.19 1587.0,142.33 1590.0,144.32 1593.0,146.16 1596.0,147.88 1599.0,149.47 1602.0,150.95 1605.0,152.32 1608.0,153.60 1611.0,154.78 1614.0,155.88 1617.0,156.91 1620.0,157.86 1623.0,158.75 1626.0,159.58 1629.0,160.34 1632.0,161.06 1635.0,161.72 1638.0,162.34 1641.0,162.92 1644.0,163.45 1647.0,163.95 1650.0,164.42 1653.0,164.85 1656.0,165.25 1659.0,165.63 1662.0,165.98 1665.0,166.30 1668.0,166.60 1671.0,166.89 1674.0,167.15 1677.0,167.40 1680.0,167.63 1683.0,167.84 1686.0,168.04 1689.0,168.22 1692.0,168.39 1695.0,168.56 1698.0,168.71 1701.0,168.85 1704.0,168.98 1707.0,169.10 1710.0,169.21" stroke="rgb(219,26,20)"/><polyline points="1525.4,35.80 1526.4,39.81 1527.4,43.46 1528.4,46.93 1529.4,50.26 1530.4,53.46 1531.4,56.54 1532.4,59.53 1533.4,62.42 1534.4,65.21 1535.4,67.92 1536.4,70.55 1537.4,73.11 1538.4,75.59 1539.4,77.99 1540.4,80.33 1541.4,82.60 1542.4,84.81 1543.4,86.96 1544.4,89.05 1545.4,91.09 1546.4,93.06 1547.4,94.99 1548.4,96.86 1549.4,98.69 1550.4,100.46 1551.4,102.19 1552.4,103.87 1553.4,105.51 1554.4,107.11 1555.4,108.67 1556.4,110.18 1557.4,111.66 1558.4,113.10 1559.4,114.50 1560.0,115.32 1563.0,119.25 1566.0,122.89 1569.0,126.26 1572.0,129.39 1575.0,132.29 1578.0,134.98 1581.0,137.47 1584.0,139.79 1587.0,141.94 1590.0,143.93 1593.0,145.79 1596.0,147.51 1599.0,149.11 1602.0,150.60 1605.0,151.98 1608.0,153.27 1611.0,154.47 1614.0,155.58 1617.0,156.62 1620.0,157.58 1623.0,158.48 1626.0,159.32 1629.0,160.09 1632.0,160.82 1635.0,161.49 1638.0,162.12 1641.0,162.71 1644.0,163.25 1647.0,163.76 1650.0,164.23 1653.0,164.67 1656.0,165.08 1659.0,165.47 1662.0,165.82 1665.0,166.16 1668.0,166.47 1671.0,166.76 1674.0,167.03 1677.0,167.28 1680.0,167.51 1683.0,167.73 1686.0,167.93 1689.0,168.12 1692.0,168.30 1695.0,168.47 1698.0,168.62 1701.0,168.77 1704.0,168.90 1707.0,169.03 1710.0,169.14" stroke="rgb(218,25,20)"/><polyline points="1525.4,35.80 1526.4,39.78 1527.4,43.41 1528.4,46.86 1529.4,50.16 1530.4,53.34 1531.4,56.40 1532.4,59.37 1533.4,62.23 1534.4,65.01 1535.4,67.71 1536.4,70.32 1537.4,72.86 1538.4,75.32 1539.4,77.72 1540.4,80.04 1541.4,82.30 1542.4,84.50 1543.4,86.64 1544.4,88.72 1545.4,90.74 1546.4,92.71 1547.4,94.63 1548.4,96.50 1549.4,98.31 1550.4,100.08 1551.4,101.80 1552.4,103.48 1553.4,105.12 1554.4,106.71 1555.4,108.26 1556.4,109.77 1557.4,111.24 1558.4,112.68 1559.4,114.08 1560.0,114.90 1563.0,118.83 1566.0,122.47 1569.0,125.84 1572.0,128.97 1575.0,131.87 1578.0,134.56 1581.0,137.06 1584.0,139.38 1587.0,141.54 1590.0,143.55 1593.0,145.41 1596.0,147.14 1599.0,148.76 1602.0,150.26 1605.0,151.65 1608.0,152.95 1611.0,154.16 1614.0,155.28 1617.0,156.33 1620.0,157.30 1623.0,158.21 1626.0,159.06 1629.0,159.85 1632.0,160.58 1635.0,161.26 1638.0,161.90 1641.0,162.50 1644.0,163.05 1647.0,163.57 1650.0,164.05 1653.0,164.50 1656.0,164.92 1659.0,165.31 1662.0,165.67 1665.0,166.01 1668.0,166.33 1671.0,166.62 1674.0,166.90 1677.0,167.16 1680.0,167.40 1683.0,167.62 1686.0,167.83 1689.0,168.02 1692.0,168.21 1695.0,168.38 1698.0,168.54 1701.0,168.68 1704.0,168.82 1707.0,168.95 1710.0,169.07" stroke="rgb(218,24,20)"/><polyline points="1525.4,35.80 1526.4,39.76 1527.4,43.36 1528.4,46.78 1529.4,50.06 1530.4,53.22 1531.4,56.26 1532.4,59.21 1533.4,62.05 1534.4,64.82 1535.4,67.49 1536.4,70.09 1537.4,72.61 1538.4,75.06 1539.4,77.44 1540.4,79.76 1541.4,82.00 1542.4,84.19 1543.4,86.32 1544.4,88.39 1545.4,90.40 1546.4,92.37 1547.4,94.27 1548.4,96.13 1549.4,97.94 1550.4,99.71 1551.4,101.42 1552.4,103.10 1553.4,104.73 1554.4,106.31 1555.4,107.86 1556.4,109.37 1557.4,110.84 1558.4,112.27 1559.4,113.67 1560.0,114.49 1563.0,118.41 1566.0,122.04 1569.0,125.41 1572.0,128.54 1575.0,131.45 1578.0,134.15 1581.0,136.65 1584.0,138.98 1587.0,141.15 1590.0,143.16 1593.0,145.04 1596.0,146.78 1599.0,148.40 1602.0,149.91 1605.0,151.32 1608.0,152.63 1611.0,153.84 1614.0,154.98 1617.0,156.04 1620.0,157.02 1623.0,157.94 1626.0,158.80 1629.0,159.60 1632.0,160.34 1635.0,161.03 1638.0,161.68 1641.0,162.28 1644.0,162.85 1647.0,163.37 1650.0,163.86 1653.0,164.32 1656.0,164.74 1659.0,165.14 1662.0,165.51 1665.0,165.86 1668.0,166.18 1671.0,166.49 1674.0,166.77 1677.0,167.03 1680.0,167.28 1683.0,167.51 1686.0,167.72 1689.0,167.92 1692.0,168.11 1695.0,168.29 1698.0,168.45 1701.0,168.60 1704.0,168.74 1707.0,168.88 1710.0,169.00" stroke="rgb(217,23,20)"/><polyline points="1525.4,35.80 1526.4,39.73 1527.4,43.31 1528.4,46.71 1529.4,49.97 1530.4,53.10 1531.4,56.12 1532.4,59.05 1533.4,61.88 1534.4,64.62 1535.4,67.28 1536.4,69.86 1537.4,72.37 1538.4,74.81 1539.4,77.17 1540.4,79.47 1541.4,81.71 1542.4,83.89 1543.4,86.01 1544.4,88.07 1545.4,90.07 1546.4,92.02 1547.4,93.92 1548.4,95.78 1549.4,97.58 1550.4,99.34 1551.4,101.05 1552.4,102.71 1553.4,104.34 1554.4,105.92 1555.4,107.46 1556.4,108.97 1557.4,110.43 1558.4,111.86 1559.4,113.26 1560.0,114.08 1563.0,117.99 1566.0,121.62 1569.0,125.00 1572.0,128.13 1575.0,131.04 1578.0,133.74 1581.0,136.25 1584.0,138.59 1587.0,140.76 1590.0,142.78 1593.0,144.66 1596.0,146.42 1599.0,148.05 1602.0,149.57 1605.0,150.98 1608.0,152.30 1611.0,153.53 1614.0,154.68 1617.0,155.75 1620.0,156.74 1623.0,157.67 1626.0,158.54 1629.0,159.34 1632.0,160.10 1635.0,160.80 1638.0,161.46 1641.0,162.07 1644.0,162.64 1647.0,163.18 1650.0,163.67 1653.0,164.14 1656.0,164.57 1659.0,164.98 1662.0,165.36 1665.0,165.71 1668.0,166.04 1671.0,166.35 1674.0,166.64 1677.0,166.91 1680.0,167.16 1683.0,167.39 1686.0,167.61 1689.0,167.82 1692.0,168.01 1695.0,168.19 1698.0,168.36 1701.0,168.52 1704.0,168.66 1707.0,168.80 1710.0,168.93" stroke="rgb(216,21,20)"/><polyline points="1525.4,35.80 1526.4,39.71 1527.4,43.26 1528.4,46.64 1529.4,49.87 1530.4,52.98 1531.4,55.99 1532.4,58.89 1533.4,61.71 1534.4,64.43 1535.4,67.08 1536.4,69.64 1537.4,72.13 1538.4,74.56 1539.4,76.91 1540.4,79.20 1541.4,81.42 1542.4,83.59 1543.4,85.70 1544.4,87.75 1545.4,89.74 1546.4,91.69 1547.4,93.58 1548.4,95.42 1549.4,97.22 1550.4,98.97 1551.4,100.67 1552.4,102.34 1553.4,103.96 1554.4,105.53 1555.4,107.07 1556.4,108.57 1557.4,110.04 1558.4,111.46 1559.4,112.85 1560.0,113.67 1563.0,117.58 1566.0,121.21 1569.0,124.58 1572.0,127.71 1575.0,130.62 1578.0,133.33 1581.0,135.85 1584.0,138.19 1587.0,140.37 1590.0,142.40 1593.0,144.29 1596.0,146.06 1599.0,147.70 1602.0,149.23 1605.0,150.65 1608.0,151.98 1611.0,153.22 1614.0,154.38 1617.0,155.45 1620.0,156.46 1623.0,157.40 1626.0,158.27 1629.0,159.09 1632.0,159.86 1635.0,160.57 1638.0,161.23 1641.0,161.86 1644.0,162.44 1647.0,162.98 1650.0,163.48 1653.0,163.96 1656.0,164.40 1659.0,164.81 1662.0,165.20 1665.0,165.56 1668.0,165.90 1671.0,166.21 1674.0,166.51 1677.0,166.78 1680.0,167.04 1683.0,167.28 1686.0,167.50 1689.0,167.72 1692.0,167.91 1695.0,168.10 1698.0,168.27 1701.0,168.43 1704.0,168.58 1707.0,168.72 1710.0,168.85" stroke="rgb(215,20,20)"/><polyline points="1525.4,35.80 1526.4,39.68 1527.4,43.22 1528.4,46.57 1529.4,49.78 1530.4,52.87 1531.4,55.86 1532.4,58.74 1533.4,61.54 1534.4,64.24 1535.4,66.87 1536.4,69.42 1537.4,71.90 1538.4,74.31 1539.4,76.65 1540.4,78.92 1541.4,81.14 1542.4,83.29 1543.4,85.39 1544.4,87.43 1545.4,89.42 1546.4,91.35 1547.4,93.24 1548.4,95.08 1549.4,96.86 1550.4,98.61 1551.4,100.31 1552.4,101.96 1553.4,103.58 1554.4,105.15 1555.4,106.69 1556.4,108.18 1557.4,109.64 1558.4,111.07 1559.4,112.45 1560.0,113.27 1563.0,117.17 1566.0,120.80 1569.0,124.17 1572.0,127.30 1575.0,130.22 1578.0,132.93 1581.0,135.45 1584.0,137.80 1587.0,139.99 1590.0,142.02 1593.0,143.92 1596.0,145.69 1599.0,147.34 1602.0,148.88 1605.0,150.32 1608.0,151.66 1611.0,152.91 1614.0,154.07 1617.0,155.16 1620.0,156.18 1623.0,157.13 1626.0,158.01 1629.0,158.84 1632.0,159.61 1635.0,160.33 1638.0,161.01 1641.0,161.64 1644.0,162.23 1647.0,162.78 1650.0,163.29 1653.0,163.77 1656.0,164.22 1659.0,164.64 1662.0,165.04 1665.0,165.40 1668.0,165.75 1671.0,166.07 1674.0,166.37 1677.0,166.65 1680.0,166.92 1683.0,167.16 1686.0,167.39 1689.0,167.61 1692.0,167.81 1695.0,168.00 1698.0,168.18 1701.0,168.34 1704.0,168.50 1707.0,168.64 1710.0,168.78" stroke="rgb(215,19,20)"/><polyline points="1525.4,35.80 1526.4,39.66 1527.4,43.17 1528.4,46.50 1529.4,49.69 1530.4,52.76 1531.4,55.72 1532.4,58.59 1533.4,61.37 1534.4,64.06 1535.4,66.67 1536.4,69.21 1537.4,71.67 1538.4,74.06 1539.4,76.39 1540.4,78.66 1541.4,80.86 1542.4,83.00 1543.4,85.09 1544.4,87.12 1545.4,89.10 1546.4,91.03 1547.4,92.90 1548.4,94.73 1549.4,96.51 1550.4,98.25 1551.4,99.95 1552.4,101.60 1553.4,103.21 1554.4,104.77 1555.4,106.31 1556.4,107.80 1557.4,109.25 1558.4,110.67 1559.4,112.06 1560.0,112.87 1563.0,116.77 1566.0,120.40 1569.0,123.76 1572.0,126.90 1575.0,129.81 1578.0,132.53 1581.0,135.05 1584.0,137.41 1587.0,139.60 1590.0,141.65 1593.0,143.56 1596.0,145.34 1599.0,146.99 1602.0,148.54 1605.0,149.99 1608.0,151.34 1611.0,152.60 1614.0,153.77 1617.0,154.87 1620.0,155.90 1623.0,156.85 1626.0,157.75 1629.0,158.59 1632.0,159.37 1635.0,160.10 1638.0,160.78 1641.0,161.42 1644.0,162.02 1647.0,162.58 1650.0,163.10 1653.0,163.59 1656.0,164.05 1659.0,164.47 1662.0,164.87 1665.0,165.25 1668.0,165.60 1671.0,165.93 1674.0,166.23 1677.0,166.52 1680.0,166.79 1683.0,167.04 1686.0,167.28 1689.0,167.50 1692.0,167.71 1695.0,167.90 1698.0,168.08 1701.0,168.25 1704.0,168.41 1707.0,168.56 1710.0,168.70" stroke="rgb(214,18,20)"/><polyline points="1525.4,35.80 1526.4,39.64 1527.4,43.12 1528.4,46.43 1529.4,49.60 1530.4,52.65 1531.4,55.60 1532.4,58.44 1533.4,61.20 1534.4,63.88 1535.4,66.47 1536.4,69.00 1537.4,71.44 1538.4,73.83 1539.4,76.14 1540.4,78.39 1541.4,80.58 1542.4,82.72 1543.4,84.79 1544.4,86.81 1545.4,88.78 1546.4,90.70 1547.4,92.57 1548.4,94.39 1549.4,96.17 1550.4,97.90 1551.4,99.59 1552.4,101.23 1553.4,102.84 1554.4,104.40 1555.4,105.93 1556.4,107.42 1557.4,108.87 1558.4,110.29 1559.4,111.67 1560.0,112.48 1563.0,116.37 1566.0,119.99 1569.0,123.36 1572.0,126.49 1575.0,129.41 1578.0,132.13 1581.0,134.66 1584.0,137.02 1587.0,139.22 1590.0,141.27 1593.0,143.19 1596.0,144.98 1599.0,146.65 1602.0,148.20 1605.0,149.66 1608.0,151.02 1611.0,152.28 1614.0,153.47 1617.0,154.58 1620.0,155.61 1623.0,156.58 1626.0,157.49 1629.0,158.33 1632.0,159.12 1635.0,159.86 1638.0,160.55 1641.0,161.20 1644.0,161.81 1647.0,162.38 1650.0,162.91 1653.0,163.40 1656.0,163.87 1659.0,164.30 1662.0,164.71 1665.0,165.09 1668.0,165.45 1671.0,165.78 1674.0,166.10 1677.0,166.39 1680.0,166.67 1683.0,166.92 1686.0,167.16 1689.0,167.39 1692.0,167.60 1695.0,167.80 1698.0,167.99 1701.0,168.16 1704.0,168.32 1707.0,168.48 1710.0,168.62" stroke="rgb(213,17,20)"/><polyline points="1525.4,35.80 1526.4,39.62 1527.4,43.08 1528.4,46.36 1529.4,49.51 1530.4,52.54 1531.4,55.47 1532.4,58.30 1533.4,61.04 1534.4,63.70 1535.4,66.28 1536.4,68.79 1537.4,71.22 1538.4,73.59 1539.4,75.89 1540.4,78.13 1541.4,80.31 1542.4,82.43 1543.4,84.50 1544.4,86.51 1545.4,88.47 1546.4,90.38 1547.4,92.24 1548.4,94.06 1549.4,95.83 1550.4,97.55 1551.4,99.23 1552.4,100.87 1553.4,102.47 1554.4,104.03 1555.4,105.56 1556.4,107.04 1557.4,108.49 1558.4,109.90 1559.4,111.28 1560.0,112.09 1563.0,115.98 1566.0,119.60 1569.0,122.96 1572.0,126.09 1575.0,129.01 1578.0,131.73 1581.0,134.27 1584.0,136.64 1587.0,138.84 1590.0,140.90 1593.0,142.83 1596.0,144.62 1599.0,146.30 1602.0,147.86 1605.0,149.33 1608.0,150.69 1611.0,151.97 1614.0,153.17 1617.0,154.28 1620.0,155.33 1623.0,156.31 1626.0,157.22 1629.0,158.08 1632.0,158.88 1635.0,159.63 1638.0,160.33 1641.0,160.98 1644.0,161.60 1647.0,162.17 1650.0,162.71 1653.0,163.22 1656.0,163.69 1659.0,164.13 1662.0,164.54 1665.0,164.93 1668.0,165.30 1671.0,165.64 1674.0,165.96 1677.0,166.26 1680.0,166.54 1683.0,166.80 1686.0,167.05 1689.0,167.28 1692.0,167.50 1695.0,167.70 1698.0,167.89 1701.0,168.07 1704.0,168.24 1707.0,168.39 1710.0,168.54" stroke="rgb(212,16,20)"/><polyline points="1525.4,35.80 1526.4,39.59 1527.4,43.03 1528.4,46.30 1529.4,49.43 1530.4,52.44 1531.4,55.35 1532.4,58.16 1533.4,60.88 1534.4,63.53 1535.4,66.09 1536.4,68.58 1537.4,71.00 1538.4,73.36 1539.4,75.65 1540.4,77.87 1541.4,80.04 1542.4,82.15 1543.4,84.21 1544.4,86.21 1545.4,88.17 1546.4,90.07 1547.4,91.92 1548.4,93.73 1549.4,95.49 1550.4,97.21 1551.4,98.89 1552.4,100.52 1553.4,102.11 1554.4,103.67 1555.4,105.19 1556.4,106.67 1557.4,108.11 1558.4,109.52 1559.4,110.90 1560.0,111.71 1563.0,115.59 1566.0,119.20 1569.0,122.56 1572.0,125.70 1575.0,128.62 1578.0,131.34 1581.0,133.88 1584.0,136.25 1587.0,138.47 1590.0,140.53 1593.0,142.46 1596.0,144.27 1599.0,145.95 1602.0,147.53 1605.0,149.00 1608.0,150.37 1611.0,151.66 1614.0,152.87 1617.0,153.99 1620.0,155.05 1623.0,156.03 1626.0,156.96 1629.0,157.82 1632.0,158.63 1635.0,159.39 1638.0,160.10 1641.0,160.76 1644.0,161.38 1647.0,161.97 1650.0,162.51 1653.0,163.03 1656.0,163.51 1659.0,163.96 1662.0,164.38 1665.0,164.77 1668.0,165.14 1671.0,165.49 1674.0,165.82 1677.0,166.12 1680.0,166.41 1683.0,166.68 1686.0,166.93 1689.0,167.17 1692.0,167.39 1695.0,167.59 1698.0,167.79 1701.0,167.97 1704.0,168.15 1707.0,168.31 1710.0,168.46" stroke="rgb(212,15,20)"/><polyline points="1528.4,66.11 1530.4,82.43 1532.4,96.21 1534.4,107.84 1536.4,117.65 1538.4,125.94 1540.4,132.93 1542.4,138.84 1544.4,143.82 1546.4,148.03 1548.4,151.58 1550.4,154.57 1552.4,157.10 1554.4,159.24 1556.4,161.04 1558.4,162.56 1560.4,163.85 1562.4,164.93 1564.4,165.85 1566.4,166.62 1568.4,167.27 1570.4,167.82 1572.4,168.29 1574.4,168.68 1576.4,169.01 1578.4,169.29 1580.4,169.52 1582.4,169.72 1584.4,169.89 1586.4,170.03 1588.4,170.15 1590.4,170.25 1592.4,170.34 1594.4,170.41 1596.4,170.47 1598.4,170.52 1600.4,170.57 1602.4,170.60 1604.4,170.63 1606.4,170.66 1608.4,170.68 1610.4,170.70 1612.4,170.72 1614.4,170.73 1616.4,170.74 1618.4,170.75 1620.4,170.76 1622.4,170.76 1624.4,170.77 1626.4,170.77 1628.4,170.78 1630.4,170.78 1632.4,170.78 1634.4,170.79 1636.4,170.79 1638.4,170.79 1640.4,170.79 1642.4,170.79 1644.4,170.79 1646.4,170.80 1648.4,170.80 1650.4,170.80 1652.4,170.80 1654.4,170.80 1656.4,170.80 1658.4,170.80 1660.4,170.80 1662.4,170.80 1664.4,170.80 1666.4,170.80 1668.4,170.80 1670.4,170.80 1672.4,170.80 1674.4,170.80 1676.4,170.80 1678.4,170.80 1680.4,170.80 1682.4,170.80 1684.4,170.80 1686.4,170.80 1688.4,170.80 1690.4,170.80 1692.4,170.80 1694.4,170.80 1696.4,170.80 1698.4,170.80 1700.4,170.80 1702.4,170.80 1704.4,170.80 1706.4,170.80 1708.4,170.80" stroke="#fff" stroke-opacity="0.9" stroke-width="0.8"/><polyline points="1528.4,45.44 1530.4,51.48 1532.4,57.23 1534.4,62.70 1536.4,67.91 1538.4,72.87 1540.4,77.59 1542.4,82.08 1544.4,86.35 1546.4,90.42 1548.4,94.29 1550.4,97.98 1552.4,101.49 1554.4,104.83 1556.4,108.01 1558.4,111.03 1560.4,113.91 1562.4,116.65 1564.4,119.26 1566.4,121.75 1568.4,124.11 1570.4,126.36 1572.4,128.50 1574.4,130.54 1576.4,132.48 1578.4,134.32 1580.4,136.08 1582.4,137.76 1584.4,139.35 1586.4,140.86 1588.4,142.31 1590.4,143.68 1592.4,144.99 1594.4,146.23 1596.4,147.41 1598.4,148.54 1600.4,149.61 1602.4,150.63 1604.4,151.60 1606.4,152.53 1608.4,153.41 1610.4,154.25 1612.4,155.05 1614.4,155.80 1616.4,156.53 1618.4,157.21 1620.4,157.87 1622.4,158.49 1624.4,159.09 1626.4,159.65 1628.4,160.19 1630.4,160.70 1632.4,161.19 1634.4,161.65 1636.4,162.09 1638.4,162.51 1640.4,162.91 1642.4,163.29 1644.4,163.65 1646.4,164.00 1648.4,164.32 1650.4,164.64 1652.4,164.93 1654.4,165.21 1656.4,165.48 1658.4,165.74 1660.4,165.98 1662.4,166.22 1664.4,166.44 1666.4,166.65 1668.4,166.85 1670.4,167.04 1672.4,167.22 1674.4,167.39 1676.4,167.56 1678.4,167.71 1680.4,167.86 1682.4,168.00 1684.4,168.14 1686.4,168.27 1688.4,168.39 1690.4,168.50 1692.4,168.61 1694.4,168.72 1696.4,168.82 1698.4,168.92 1700.4,169.01 1702.4,169.09 1704.4,169.17 1706.4,169.25 1708.4,169.33" stroke="#fff" stroke-opacity="0.5" stroke-width="0.8"/><polyline points="1528.4,46.31 1530.4,52.86 1532.4,59.07 1534.4,64.95 1536.4,70.52 1538.4,75.80 1540.4,80.79 1542.4,85.53 1544.4,90.02 1546.4,94.27 1548.4,98.30 1550.4,102.11 1552.4,105.72 1554.4,109.15 1556.4,112.39 1558.4,115.47 1560.4,118.38 1562.4,121.14 1564.4,123.75 1566.4,126.23 1568.4,128.57 1570.4,130.79 1572.4,132.90 1574.4,134.89 1576.4,136.78 1578.4,138.57 1580.4,140.27 1582.4,141.87 1584.4,143.40 1586.4,144.84 1588.4,146.20 1590.4,147.50 1592.4,148.72 1594.4,149.89 1596.4,150.99 1598.4,152.03 1600.4,153.02 1602.4,153.95 1604.4,154.84 1606.4,155.68 1608.4,156.47 1610.4,157.23 1612.4,157.94 1614.4,158.62 1616.4,159.26 1618.4,159.87 1620.4,160.44 1622.4,160.99 1624.4,161.50 1626.4,161.99 1628.4,162.46 1630.4,162.90 1632.4,163.31 1634.4,163.71 1636.4,164.08 1638.4,164.43 1640.4,164.77 1642.4,165.08 1644.4,165.39 1646.4,165.67 1648.4,165.94 1650.4,166.20 1652.4,166.44 1654.4,166.67 1656.4,166.89 1658.4,167.09 1660.4,167.29 1662.4,167.47 1664.4,167.65 1666.4,167.81 1668.4,167.97 1670.4,168.12 1672.4,168.26 1674.4,168.39 1676.4,168.52 1678.4,168.64 1680.4,168.75 1682.4,168.86 1684.4,168.96 1686.4,169.06 1688.4,169.15 1690.4,169.24 1692.4,169.32 1694.4,169.40 1696.4,169.47 1698.4,169.54 1700.4,169.61 1702.4,169.67 1704.4,169.73 1706.4,169.79 1708.4,169.84" stroke="#fff" stroke-opacity="0.35" stroke-width="0.8"/></g>
<g stroke="#000" stroke-width="2.8" fill="none"><path d="M1520,31.8 V174.4 H1718.5"/><line x1="1520" y1="104.2" x2="1524" y2="104.2"/></g>
<g transform="translate(1509.3,142.2) rotate(-90)"><text x="0" y="0" font-size="21.5" fill="#222">Cpβ (%)</text></g>
<text x="1615.3" y="199" font-size="21" text-anchor="middle" fill="#222">Time</text>
<defs><linearGradient id="cb" x1="0" y1="1" x2="0" y2="0">
<stop offset="0" stop-color="#c80010"/><stop offset="0.12" stop-color="#dc1010"/><stop offset="0.3" stop-color="#f07010"/>
<stop offset="0.42" stop-color="#f0d800"/><stop offset="0.5" stop-color="#a8e020"/><stop offset="0.57" stop-color="#00e060"/>
<stop offset="0.66" stop-color="#20a0a8"/><stop offset="0.76" stop-color="#3060d0"/><stop offset="1" stop-color="#2040a8"/>
</linearGradient></defs>
<rect x="1758.5" y="121.2" width="21.3" height="142.7" fill="url(#cb)"/>
<g stroke="#fff" stroke-width="1" stroke-opacity="0.8"><line x1="1758.5" y1="123.5" x2="1762.5" y2="123.5"/><line x1="1775.8" y1="123.5" x2="1779.8" y2="123.5"/><line x1="1758.5" y1="153.9" x2="1762.5" y2="153.9"/><line x1="1775.8" y1="153.9" x2="1779.8" y2="153.9"/><line x1="1758.5" y1="183.9" x2="1762.5" y2="183.9"/><line x1="1775.8" y1="183.9" x2="1779.8" y2="183.9"/><line x1="1758.5" y1="214.3" x2="1762.5" y2="214.3"/><line x1="1775.8" y1="214.3" x2="1779.8" y2="214.3"/><line x1="1758.5" y1="244.4" x2="1762.5" y2="244.4"/><line x1="1775.8" y1="244.4" x2="1779.8" y2="244.4"/></g>
<g transform="translate(1744.8,227.4) rotate(-90)"><text x="0" y="0" font-size="24" fill="#222">Cpβ<tspan font-size="12.5" dx="3.6" dy="9.6">rate</tspan></text></g>
<defs><clipPath id="au"><path d="M1535.4,261.5 L1543.3,257.1 L1553.0,255.3 L1557.4,250.9 L1560.0,244.8 L1562.7,242.1 L1565.3,242.1 L1568.8,237.7 L1571.5,234.2 L1576.7,230.3 L1580.3,230.7 L1583.8,234.2 L1587.3,234.7 L1589.1,230.7 L1592.6,223.7 L1597.0,221.9 L1598.7,218.0 L1601.4,219.3 L1603.1,221.0 L1611.9,222.4 L1615.4,221.5 L1617.2,223.7 L1613.7,226.3 L1611.9,234.2 L1618.9,239.5 L1623.3,242.1 L1627.7,245.6 L1631.3,245.6 L1633.9,242.1 L1634.8,229.8 L1636.5,219.3 L1638.3,216.2 L1640.0,219.3 L1642.7,229.8 L1646.2,231.6 L1648.8,234.2 L1651.5,243.9 L1654.1,251.8 L1660.3,256.2 L1664.7,261.5 L1666.4,266.5 L1669.9,268.3 L1673.5,273.6 L1678.7,279.7 L1680.5,286.8 L1680.5,295.6 L1679.6,303.3 L1677.0,309.4 L1673.5,317.3 L1668.2,327.0 L1667.3,332.3 L1657.6,334.9 L1653.2,338.9 L1648.0,334.9 L1643.6,337.6 L1638.3,336.7 L1629.5,333.2 L1627.7,327.0 L1623.3,324.4 L1622.5,320.0 L1618.1,322.6 L1618.9,319.1 L1620.7,313.8 L1616.3,317.3 L1611.9,320.0 L1608.4,315.6 L1603.1,310.3 L1597.0,307.7 L1589.1,306.8 L1578.5,309.4 L1569.7,312.1 L1566.2,315.6 L1559.2,316.5 L1546.0,320.0 L1539.0,321.7 L1534.5,320.0 L1531.9,316.5 L1534.5,312.1 L1533.7,306.8 L1532.4,298.0 L1531.9,297.3 L1529.3,291.2 L1528.4,284.1 L1526.2,281.5 L1527.5,277.1 L1526.6,273.6 L1527.5,265.7 L1532.8,261.3Z M1647.5,346.5 L1652.0,346.8 L1656.0,348.2 L1661.2,347.3 L1660.8,352.0 L1658.5,356.5 L1655.0,359.2 L1652.0,357.8 L1650.0,353.5 L1648.0,349.5Z"/></clipPath><filter id="mb" x="-5%" y="-5%" width="110%" height="110%"><feGaussianBlur stdDeviation="0.55"/></filter></defs><g clip-path="url(#au)"><g filter="url(#mb)" shape-rendering="crispEdges"><rect x="1524" y="214" width="4" height="4" fill="#f18309"/><rect x="1528" y="214" width="4" height="4" fill="#f0c003"/><rect x="1532" y="214" width="4" height="4" fill="#298ac6"/><rect x="1536" y="214" width="4" height="4" fill="#27d38c"/><rect x="1540" y="214" width="4" height="4" fill="#23ce94"/><rect x="1544" y="214" width="4" height="4" fill="#27d38c"/><rect x="1548" y="214" width="4" height="4" fill="#cde715"/><rect x="1552" y="214" width="4" height="4" fill="#f0e100"/><rect x="1556" y="214" width="4" height="4" fill="#c2e81c"/><rect x="1560" y="214" width="4" height="4" fill="#f18f08"/><rect x="1564" y="214" width="4" height="4" fill="#79eb44"/><rect x="1568" y="214" width="4" height="4" fill="#f0df00"/><rect x="1572" y="214" width="4" height="4" fill="#c6e819"/><rect x="1576" y="214" width="4" height="4" fill="#67eb4d"/><rect x="1580" y="214" width="4" height="4" fill="#81eb3f"/><rect x="1584" y="214" width="4" height="4" fill="#38e66b"/><rect x="1588" y="214" width="4" height="4" fill="#31df78"/><rect x="1592" y="214" width="4" height="4" fill="#72eb47"/><rect x="1596" y="214" width="4" height="4" fill="#6deb4a"/><rect x="1600" y="214" width="4" height="4" fill="#34e272"/><rect x="1604" y="214" width="4" height="4" fill="#bfe91d"/><rect x="1608" y="214" width="4" height="4" fill="#f19707"/><rect x="1612" y="214" width="4" height="4" fill="#f19b07"/><rect x="1616" y="214" width="4" height="4" fill="#ee5e0a"/><rect x="1620" y="214" width="4" height="4" fill="#e71c09"/><rect x="1624" y="214" width="4" height="4" fill="#b0ea26"/><rect x="1628" y="214" width="4" height="4" fill="#8ceb39"/><rect x="1632" y="214" width="4" height="4" fill="#c7e818"/><rect x="1636" y="214" width="4" height="4" fill="#dae60d"/><rect x="1640" y="214" width="4" height="4" fill="#56eb56"/><rect x="1644" y="214" width="4" height="4" fill="#30dd7b"/><rect x="1648" y="214" width="4" height="4" fill="#73eb46"/><rect x="1652" y="214" width="4" height="4" fill="#aaeb2a"/><rect x="1656" y="214" width="4" height="4" fill="#39e868"/><rect x="1660" y="214" width="4" height="4" fill="#33e174"/><rect x="1664" y="214" width="4" height="4" fill="#2d66d4"/><rect x="1668" y="214" width="4" height="4" fill="#2d58d5"/><rect x="1672" y="214" width="4" height="4" fill="#2d50d6"/><rect x="1676" y="214" width="4" height="4" fill="#2d65d4"/><rect x="1680" y="214" width="4" height="4" fill="#2d6fd3"/><rect x="1524" y="218" width="4" height="4" fill="#f19108"/><rect x="1528" y="218" width="4" height="4" fill="#f18d08"/><rect x="1532" y="218" width="4" height="4" fill="#f0b404"/><rect x="1536" y="218" width="4" height="4" fill="#36e46f"/><rect x="1540" y="218" width="4" height="4" fill="#2ad687"/><rect x="1544" y="218" width="4" height="4" fill="#2dda80"/><rect x="1548" y="218" width="4" height="4" fill="#4aeb5c"/><rect x="1552" y="218" width="4" height="4" fill="#e8e404"/><rect x="1556" y="218" width="4" height="4" fill="#cfe713"/><rect x="1560" y="218" width="4" height="4" fill="#f0c203"/><rect x="1564" y="218" width="4" height="4" fill="#8ceb39"/><rect x="1568" y="218" width="4" height="4" fill="#bde91e"/><rect x="1572" y="218" width="4" height="4" fill="#c8e818"/><rect x="1576" y="218" width="4" height="4" fill="#b5ea23"/><rect x="1580" y="218" width="4" height="4" fill="#2fdc7d"/><rect x="1584" y="218" width="4" height="4" fill="#cfe713"/><rect x="1588" y="218" width="4" height="4" fill="#36e46f"/><rect x="1592" y="218" width="4" height="4" fill="#40eb61"/><rect x="1596" y="218" width="4" height="4" fill="#f0c902"/><rect x="1600" y="218" width="4" height="4" fill="#8aeb3b"/><rect x="1604" y="218" width="4" height="4" fill="#f0c902"/><rect x="1608" y="218" width="4" height="4" fill="#f1ad05"/><rect x="1612" y="218" width="4" height="4" fill="#ef6a0a"/><rect x="1616" y="218" width="4" height="4" fill="#f1810a"/><rect x="1620" y="218" width="4" height="4" fill="#f19308"/><rect x="1624" y="218" width="4" height="4" fill="#c7e818"/><rect x="1628" y="218" width="4" height="4" fill="#3bea64"/><rect x="1632" y="218" width="4" height="4" fill="#86eb3c"/><rect x="1636" y="218" width="4" height="4" fill="#46eb5e"/><rect x="1640" y="218" width="4" height="4" fill="#b1ea26"/><rect x="1644" y="218" width="4" height="4" fill="#32e076"/><rect x="1648" y="218" width="4" height="4" fill="#3ae966"/><rect x="1652" y="218" width="4" height="4" fill="#3deb63"/><rect x="1656" y="218" width="4" height="4" fill="#2d57d6"/><rect x="1660" y="218" width="4" height="4" fill="#2d50d7"/><rect x="1664" y="218" width="4" height="4" fill="#2d50d7"/><rect x="1668" y="218" width="4" height="4" fill="#2a84ca"/><rect x="1672" y="218" width="4" height="4" fill="#2d53d6"/><rect x="1676" y="218" width="4" height="4" fill="#2d5ad5"/><rect x="1680" y="218" width="4" height="4" fill="#2d63d4"/><rect x="1524" y="222" width="4" height="4" fill="#ec4c0a"/><rect x="1528" y="222" width="4" height="4" fill="#f0bb04"/><rect x="1532" y="222" width="4" height="4" fill="#eb3e0a"/><rect x="1536" y="222" width="4" height="4" fill="#f19c07"/><rect x="1540" y="222" width="4" height="4" fill="#2a86c8"/><rect x="1544" y="222" width="4" height="4" fill="#3bea64"/><rect x="1548" y="222" width="4" height="4" fill="#23ce94"/><rect x="1552" y="222" width="4" height="4" fill="#36e46e"/><rect x="1556" y="222" width="4" height="4" fill="#e1e509"/><rect x="1560" y="222" width="4" height="4" fill="#7eeb41"/><rect x="1564" y="222" width="4" height="4" fill="#47eb5e"/><rect x="1568" y="222" width="4" height="4" fill="#f19208"/><rect x="1572" y="222" width="4" height="4" fill="#f0ca02"/><rect x="1576" y="222" width="4" height="4" fill="#b0ea26"/><rect x="1580" y="222" width="4" height="4" fill="#26d28e"/><rect x="1584" y="222" width="4" height="4" fill="#39e769"/><rect x="1588" y="222" width="4" height="4" fill="#adeb28"/><rect x="1592" y="222" width="4" height="4" fill="#80eb40"/><rect x="1596" y="222" width="4" height="4" fill="#f0b704"/><rect x="1600" y="222" width="4" height="4" fill="#f19508"/><rect x="1604" y="222" width="4" height="4" fill="#ee620a"/><rect x="1608" y="222" width="4" height="4" fill="#f19408"/><rect x="1612" y="222" width="4" height="4" fill="#f19008"/><rect x="1616" y="222" width="4" height="4" fill="#f17d0a"/><rect x="1620" y="222" width="4" height="4" fill="#f0760a"/><rect x="1624" y="222" width="4" height="4" fill="#f0b704"/><rect x="1628" y="222" width="4" height="4" fill="#f0dc00"/><rect x="1632" y="222" width="4" height="4" fill="#7deb41"/><rect x="1636" y="222" width="4" height="4" fill="#e8e404"/><rect x="1640" y="222" width="4" height="4" fill="#f1b105"/><rect x="1644" y="222" width="4" height="4" fill="#57eb55"/><rect x="1648" y="222" width="4" height="4" fill="#1ec89f"/><rect x="1652" y="222" width="4" height="4" fill="#2d50d7"/><rect x="1656" y="222" width="4" height="4" fill="#2d60d4"/><rect x="1660" y="222" width="4" height="4" fill="#2d69d3"/><rect x="1664" y="222" width="4" height="4" fill="#2b7dce"/><rect x="1668" y="222" width="4" height="4" fill="#2d50d7"/><rect x="1672" y="222" width="4" height="4" fill="#2d50d7"/><rect x="1676" y="222" width="4" height="4" fill="#2d6fd3"/><rect x="1680" y="222" width="4" height="4" fill="#2d6cd3"/><rect x="1524" y="226" width="4" height="4" fill="#f19d07"/><rect x="1528" y="226" width="4" height="4" fill="#ed550a"/><rect x="1532" y="226" width="4" height="4" fill="#f0730a"/><rect x="1536" y="226" width="4" height="4" fill="#f06f0a"/><rect x="1540" y="226" width="4" height="4" fill="#f18a09"/><rect x="1544" y="226" width="4" height="4" fill="#2891c2"/><rect x="1548" y="226" width="4" height="4" fill="#1ec6a0"/><rect x="1552" y="226" width="4" height="4" fill="#269abc"/><rect x="1556" y="226" width="4" height="4" fill="#25d190"/><rect x="1560" y="226" width="4" height="4" fill="#3ae966"/><rect x="1564" y="226" width="4" height="4" fill="#f18909"/><rect x="1568" y="226" width="4" height="4" fill="#f1a106"/><rect x="1572" y="226" width="4" height="4" fill="#bee91e"/><rect x="1576" y="226" width="4" height="4" fill="#f0d701"/><rect x="1580" y="226" width="4" height="4" fill="#3bea64"/><rect x="1584" y="226" width="4" height="4" fill="#36e56e"/><rect x="1588" y="226" width="4" height="4" fill="#28d48a"/><rect x="1592" y="226" width="4" height="4" fill="#44eb5f"/><rect x="1596" y="226" width="4" height="4" fill="#f0df00"/><rect x="1600" y="226" width="4" height="4" fill="#f18d08"/><rect x="1604" y="226" width="4" height="4" fill="#ee600a"/><rect x="1608" y="226" width="4" height="4" fill="#ee5b0a"/><rect x="1612" y="226" width="4" height="4" fill="#ef670a"/><rect x="1616" y="226" width="4" height="4" fill="#ec480a"/><rect x="1620" y="226" width="4" height="4" fill="#f0cc02"/><rect x="1624" y="226" width="4" height="4" fill="#c1e91c"/><rect x="1628" y="226" width="4" height="4" fill="#dfe50a"/><rect x="1632" y="226" width="4" height="4" fill="#f0d501"/><rect x="1636" y="226" width="4" height="4" fill="#f18c08"/><rect x="1640" y="226" width="4" height="4" fill="#e5e506"/><rect x="1644" y="226" width="4" height="4" fill="#27d28d"/><rect x="1648" y="226" width="4" height="4" fill="#2d55d6"/><rect x="1652" y="226" width="4" height="4" fill="#2d58d5"/><rect x="1656" y="226" width="4" height="4" fill="#2d6cd3"/><rect x="1660" y="226" width="4" height="4" fill="#2d6dd3"/><rect x="1664" y="226" width="4" height="4" fill="#2d50d7"/><rect x="1668" y="226" width="4" height="4" fill="#2d55d6"/><rect x="1672" y="226" width="4" height="4" fill="#2d50d7"/><rect x="1676" y="226" width="4" height="4" fill="#2d50d7"/><rect x="1680" y="226" width="4" height="4" fill="#2d6fd3"/><rect x="1524" y="230" width="4" height="4" fill="#f19308"/><rect x="1528" y="230" width="4" height="4" fill="#f19707"/><rect x="1532" y="230" width="4" height="4" fill="#f19b07"/><rect x="1536" y="230" width="4" height="4" fill="#f19a07"/><rect x="1540" y="230" width="4" height="4" fill="#f18b09"/><rect x="1544" y="230" width="4" height="4" fill="#f18909"/><rect x="1548" y="230" width="4" height="4" fill="#3ae867"/><rect x="1552" y="230" width="4" height="4" fill="#21cb99"/><rect x="1556" y="230" width="4" height="4" fill="#2cd883"/><rect x="1560" y="230" width="4" height="4" fill="#1ec89e"/><rect x="1564" y="230" width="4" height="4" fill="#8beb3a"/><rect x="1568" y="230" width="4" height="4" fill="#bfe91d"/><rect x="1572" y="230" width="4" height="4" fill="#bbe920"/><rect x="1576" y="230" width="4" height="4" fill="#c8e818"/><rect x="1580" y="230" width="4" height="4" fill="#57eb55"/><rect x="1584" y="230" width="4" height="4" fill="#4eeb5a"/><rect x="1588" y="230" width="4" height="4" fill="#8aeb3a"/><rect x="1592" y="230" width="4" height="4" fill="#93eb36"/><rect x="1596" y="230" width="4" height="4" fill="#f0cd02"/><rect x="1600" y="230" width="4" height="4" fill="#f0d801"/><rect x="1604" y="230" width="4" height="4" fill="#f19208"/><rect x="1608" y="230" width="4" height="4" fill="#f19f06"/><rect x="1612" y="230" width="4" height="4" fill="#ec480a"/><rect x="1616" y="230" width="4" height="4" fill="#7ceb42"/><rect x="1620" y="230" width="4" height="4" fill="#8ceb3a"/><rect x="1624" y="230" width="4" height="4" fill="#a8eb2b"/><rect x="1628" y="230" width="4" height="4" fill="#ece402"/><rect x="1632" y="230" width="4" height="4" fill="#f0c902"/><rect x="1636" y="230" width="4" height="4" fill="#dce60c"/><rect x="1640" y="230" width="4" height="4" fill="#d7e60e"/><rect x="1644" y="230" width="4" height="4" fill="#22aeb0"/><rect x="1648" y="230" width="4" height="4" fill="#2d71d2"/><rect x="1652" y="230" width="4" height="4" fill="#2d50d7"/><rect x="1656" y="230" width="4" height="4" fill="#2d61d4"/><rect x="1660" y="230" width="4" height="4" fill="#2d75d2"/><rect x="1664" y="230" width="4" height="4" fill="#2d61d4"/><rect x="1668" y="230" width="4" height="4" fill="#2a83cb"/><rect x="1672" y="230" width="4" height="4" fill="#2d50d7"/><rect x="1676" y="230" width="4" height="4" fill="#2b81cc"/><rect x="1680" y="230" width="4" height="4" fill="#2d59d5"/><rect x="1524" y="234" width="4" height="4" fill="#f19a07"/><rect x="1528" y="234" width="4" height="4" fill="#ea340a"/><rect x="1532" y="234" width="4" height="4" fill="#f18f08"/><rect x="1536" y="234" width="4" height="4" fill="#f1af05"/><rect x="1540" y="234" width="4" height="4" fill="#f19707"/><rect x="1544" y="234" width="4" height="4" fill="#f18d08"/><rect x="1548" y="234" width="4" height="4" fill="#f1ad05"/><rect x="1552" y="234" width="4" height="4" fill="#b5ea24"/><rect x="1556" y="234" width="4" height="4" fill="#1ec3a2"/><rect x="1560" y="234" width="4" height="4" fill="#20cb9a"/><rect x="1564" y="234" width="4" height="4" fill="#22b1ae"/><rect x="1568" y="234" width="4" height="4" fill="#b7ea22"/><rect x="1572" y="234" width="4" height="4" fill="#9beb32"/><rect x="1576" y="234" width="4" height="4" fill="#e7e405"/><rect x="1580" y="234" width="4" height="4" fill="#c0e91d"/><rect x="1584" y="234" width="4" height="4" fill="#35e371"/><rect x="1588" y="234" width="4" height="4" fill="#20ca9b"/><rect x="1592" y="234" width="4" height="4" fill="#33e174"/><rect x="1596" y="234" width="4" height="4" fill="#ede401"/><rect x="1600" y="234" width="4" height="4" fill="#c1e91c"/><rect x="1604" y="234" width="4" height="4" fill="#f1a706"/><rect x="1608" y="234" width="4" height="4" fill="#f1b205"/><rect x="1612" y="234" width="4" height="4" fill="#a5eb2d"/><rect x="1616" y="234" width="4" height="4" fill="#b9e921"/><rect x="1620" y="234" width="4" height="4" fill="#37e56d"/><rect x="1624" y="234" width="4" height="4" fill="#bce91f"/><rect x="1628" y="234" width="4" height="4" fill="#c4e81a"/><rect x="1632" y="234" width="4" height="4" fill="#f19008"/><rect x="1636" y="234" width="4" height="4" fill="#f19008"/><rect x="1640" y="234" width="4" height="4" fill="#f0df00"/><rect x="1644" y="234" width="4" height="4" fill="#2d68d3"/><rect x="1648" y="234" width="4" height="4" fill="#2d50d7"/><rect x="1652" y="234" width="4" height="4" fill="#2d62d4"/><rect x="1656" y="234" width="4" height="4" fill="#2d50d7"/><rect x="1660" y="234" width="4" height="4" fill="#2d66d4"/><rect x="1664" y="234" width="4" height="4" fill="#2794bf"/><rect x="1668" y="234" width="4" height="4" fill="#2d5fd5"/><rect x="1672" y="234" width="4" height="4" fill="#2d5ad5"/><rect x="1676" y="234" width="4" height="4" fill="#2d68d3"/><rect x="1680" y="234" width="4" height="4" fill="#3bea65"/><rect x="1524" y="238" width="4" height="4" fill="#f19c07"/><rect x="1528" y="238" width="4" height="4" fill="#ed530a"/><rect x="1532" y="238" width="4" height="4" fill="#ea320a"/><rect x="1536" y="238" width="4" height="4" fill="#f0760a"/><rect x="1540" y="238" width="4" height="4" fill="#f0760a"/><rect x="1544" y="238" width="4" height="4" fill="#f06f0a"/><rect x="1548" y="238" width="4" height="4" fill="#f1af05"/><rect x="1552" y="238" width="4" height="4" fill="#f0dc00"/><rect x="1556" y="238" width="4" height="4" fill="#d8e60e"/><rect x="1560" y="238" width="4" height="4" fill="#22b2ad"/><rect x="1564" y="238" width="4" height="4" fill="#269bbb"/><rect x="1568" y="238" width="4" height="4" fill="#20bba8"/><rect x="1572" y="238" width="4" height="4" fill="#2dd981"/><rect x="1576" y="238" width="4" height="4" fill="#81eb3f"/><rect x="1580" y="238" width="4" height="4" fill="#1ec4a2"/><rect x="1584" y="238" width="4" height="4" fill="#2b81cc"/><rect x="1588" y="238" width="4" height="4" fill="#2dd981"/><rect x="1592" y="238" width="4" height="4" fill="#a0eb2f"/><rect x="1596" y="238" width="4" height="4" fill="#3ae967"/><rect x="1600" y="238" width="4" height="4" fill="#2bd784"/><rect x="1604" y="238" width="4" height="4" fill="#2eda7f"/><rect x="1608" y="238" width="4" height="4" fill="#39e769"/><rect x="1612" y="238" width="4" height="4" fill="#2a85c9"/><rect x="1616" y="238" width="4" height="4" fill="#3bea64"/><rect x="1620" y="238" width="4" height="4" fill="#31de79"/><rect x="1624" y="238" width="4" height="4" fill="#59eb54"/><rect x="1628" y="238" width="4" height="4" fill="#d6e60f"/><rect x="1632" y="238" width="4" height="4" fill="#f0d401"/><rect x="1636" y="238" width="4" height="4" fill="#f1a706"/><rect x="1640" y="238" width="4" height="4" fill="#f1a106"/><rect x="1644" y="238" width="4" height="4" fill="#2d70d2"/><rect x="1648" y="238" width="4" height="4" fill="#2d6ad3"/><rect x="1652" y="238" width="4" height="4" fill="#2794c0"/><rect x="1656" y="238" width="4" height="4" fill="#2d6dd3"/><rect x="1660" y="238" width="4" height="4" fill="#2d5dd5"/><rect x="1664" y="238" width="4" height="4" fill="#2d57d6"/><rect x="1668" y="238" width="4" height="4" fill="#2d5fd5"/><rect x="1672" y="238" width="4" height="4" fill="#2d61d4"/><rect x="1676" y="238" width="4" height="4" fill="#38e66b"/><rect x="1680" y="238" width="4" height="4" fill="#6feb49"/><rect x="1524" y="242" width="4" height="4" fill="#f0b804"/><rect x="1528" y="242" width="4" height="4" fill="#f18809"/><rect x="1532" y="242" width="4" height="4" fill="#f18f08"/><rect x="1536" y="242" width="4" height="4" fill="#f19a07"/><rect x="1540" y="242" width="4" height="4" fill="#ec490a"/><rect x="1544" y="242" width="4" height="4" fill="#ee5c0a"/><rect x="1548" y="242" width="4" height="4" fill="#f0c802"/><rect x="1552" y="242" width="4" height="4" fill="#f19208"/><rect x="1556" y="242" width="4" height="4" fill="#f1810a"/><rect x="1560" y="242" width="4" height="4" fill="#9ceb31"/><rect x="1564" y="242" width="4" height="4" fill="#30de7a"/><rect x="1568" y="242" width="4" height="4" fill="#24cf93"/><rect x="1572" y="242" width="4" height="4" fill="#84eb3e"/><rect x="1576" y="242" width="4" height="4" fill="#36e56e"/><rect x="1580" y="242" width="4" height="4" fill="#7beb42"/><rect x="1584" y="242" width="4" height="4" fill="#24a3b6"/><rect x="1588" y="242" width="4" height="4" fill="#73eb46"/><rect x="1592" y="242" width="4" height="4" fill="#dee50b"/><rect x="1596" y="242" width="4" height="4" fill="#71eb48"/><rect x="1600" y="242" width="4" height="4" fill="#6ceb4a"/><rect x="1604" y="242" width="4" height="4" fill="#2bd884"/><rect x="1608" y="242" width="4" height="4" fill="#49eb5d"/><rect x="1612" y="242" width="4" height="4" fill="#20baa8"/><rect x="1616" y="242" width="4" height="4" fill="#2d5bd5"/><rect x="1620" y="242" width="4" height="4" fill="#b8e922"/><rect x="1624" y="242" width="4" height="4" fill="#3bea64"/><rect x="1628" y="242" width="4" height="4" fill="#c8e818"/><rect x="1632" y="242" width="4" height="4" fill="#f0cb02"/><rect x="1636" y="242" width="4" height="4" fill="#ec4d0a"/><rect x="1640" y="242" width="4" height="4" fill="#f1ad05"/><rect x="1644" y="242" width="4" height="4" fill="#2d71d2"/><rect x="1648" y="242" width="4" height="4" fill="#2d63d4"/><rect x="1652" y="242" width="4" height="4" fill="#2d50d7"/><rect x="1656" y="242" width="4" height="4" fill="#2d6dd3"/><rect x="1660" y="242" width="4" height="4" fill="#2d5fd5"/><rect x="1664" y="242" width="4" height="4" fill="#2d50d7"/><rect x="1668" y="242" width="4" height="4" fill="#22cd97"/><rect x="1672" y="242" width="4" height="4" fill="#b5ea24"/><rect x="1676" y="242" width="4" height="4" fill="#5ceb53"/><rect x="1680" y="242" width="4" height="4" fill="#5deb52"/><rect x="1524" y="246" width="4" height="4" fill="#bce91f"/><rect x="1528" y="246" width="4" height="4" fill="#f18709"/><rect x="1532" y="246" width="4" height="4" fill="#ed590a"/><rect x="1536" y="246" width="4" height="4" fill="#f18b09"/><rect x="1540" y="246" width="4" height="4" fill="#d1e712"/><rect x="1544" y="246" width="4" height="4" fill="#f0bc04"/><rect x="1548" y="246" width="4" height="4" fill="#d80d04"/><rect x="1552" y="246" width="4" height="4" fill="#f17b0a"/><rect x="1556" y="246" width="4" height="4" fill="#ed560a"/><rect x="1560" y="246" width="4" height="4" fill="#f0c702"/><rect x="1564" y="246" width="4" height="4" fill="#8feb38"/><rect x="1568" y="246" width="4" height="4" fill="#20baa8"/><rect x="1572" y="246" width="4" height="4" fill="#2edb7e"/><rect x="1576" y="246" width="4" height="4" fill="#2fdc7d"/><rect x="1580" y="246" width="4" height="4" fill="#38e76a"/><rect x="1584" y="246" width="4" height="4" fill="#41eb61"/><rect x="1588" y="246" width="4" height="4" fill="#3ae867"/><rect x="1592" y="246" width="4" height="4" fill="#29d589"/><rect x="1596" y="246" width="4" height="4" fill="#37e66c"/><rect x="1600" y="246" width="4" height="4" fill="#98eb33"/><rect x="1604" y="246" width="4" height="4" fill="#3bea64"/><rect x="1608" y="246" width="4" height="4" fill="#8eeb39"/><rect x="1612" y="246" width="4" height="4" fill="#29d588"/><rect x="1616" y="246" width="4" height="4" fill="#33e174"/><rect x="1620" y="246" width="4" height="4" fill="#74eb46"/><rect x="1624" y="246" width="4" height="4" fill="#b4ea24"/><rect x="1628" y="246" width="4" height="4" fill="#f0740a"/><rect x="1632" y="246" width="4" height="4" fill="#95eb35"/><rect x="1636" y="246" width="4" height="4" fill="#72eb47"/><rect x="1640" y="246" width="4" height="4" fill="#53eb57"/><rect x="1644" y="246" width="4" height="4" fill="#2d60d4"/><rect x="1648" y="246" width="4" height="4" fill="#2d5bd5"/><rect x="1652" y="246" width="4" height="4" fill="#2d5bd5"/><rect x="1656" y="246" width="4" height="4" fill="#22b1ae"/><rect x="1660" y="246" width="4" height="4" fill="#2d68d3"/><rect x="1664" y="246" width="4" height="4" fill="#2892c1"/><rect x="1668" y="246" width="4" height="4" fill="#1ec99e"/><rect x="1672" y="246" width="4" height="4" fill="#1ec89f"/><rect x="1676" y="246" width="4" height="4" fill="#26d18f"/><rect x="1680" y="246" width="4" height="4" fill="#c5e81a"/><rect x="1524" y="250" width="4" height="4" fill="#f17d0a"/><rect x="1528" y="250" width="4" height="4" fill="#f0b304"/><rect x="1532" y="250" width="4" height="4" fill="#f18309"/><rect x="1536" y="250" width="4" height="4" fill="#f1ae05"/><rect x="1540" y="250" width="4" height="4" fill="#f17b0a"/><rect x="1544" y="250" width="4" height="4" fill="#f18c08"/><rect x="1548" y="250" width="4" height="4" fill="#ea320a"/><rect x="1552" y="250" width="4" height="4" fill="#f19f06"/><rect x="1556" y="250" width="4" height="4" fill="#f17e0a"/><rect x="1560" y="250" width="4" height="4" fill="#f0ba04"/><rect x="1564" y="250" width="4" height="4" fill="#a6eb2c"/><rect x="1568" y="250" width="4" height="4" fill="#a9eb2a"/><rect x="1572" y="250" width="4" height="4" fill="#5feb51"/><rect x="1576" y="250" width="4" height="4" fill="#76eb45"/><rect x="1580" y="250" width="4" height="4" fill="#33e174"/><rect x="1584" y="250" width="4" height="4" fill="#39e868"/><rect x="1588" y="250" width="4" height="4" fill="#c2e81c"/><rect x="1592" y="250" width="4" height="4" fill="#cbe716"/><rect x="1596" y="250" width="4" height="4" fill="#2dd981"/><rect x="1600" y="250" width="4" height="4" fill="#bae920"/><rect x="1604" y="250" width="4" height="4" fill="#9beb31"/><rect x="1608" y="250" width="4" height="4" fill="#b2ea25"/><rect x="1612" y="250" width="4" height="4" fill="#39e868"/><rect x="1616" y="250" width="4" height="4" fill="#37e56c"/><rect x="1620" y="250" width="4" height="4" fill="#39e868"/><rect x="1624" y="250" width="4" height="4" fill="#52eb58"/><rect x="1628" y="250" width="4" height="4" fill="#82eb3f"/><rect x="1632" y="250" width="4" height="4" fill="#f0d301"/><rect x="1636" y="250" width="4" height="4" fill="#91eb37"/><rect x="1640" y="250" width="4" height="4" fill="#2edb7e"/><rect x="1644" y="250" width="4" height="4" fill="#2d54d6"/><rect x="1648" y="250" width="4" height="4" fill="#23adb0"/><rect x="1652" y="250" width="4" height="4" fill="#2d5ad5"/><rect x="1656" y="250" width="4" height="4" fill="#2d6dd3"/><rect x="1660" y="250" width="4" height="4" fill="#298cc5"/><rect x="1664" y="250" width="4" height="4" fill="#73eb46"/><rect x="1668" y="250" width="4" height="4" fill="#39e868"/><rect x="1672" y="250" width="4" height="4" fill="#23ce94"/><rect x="1676" y="250" width="4" height="4" fill="#3ae967"/><rect x="1680" y="250" width="4" height="4" fill="#38e76a"/><rect x="1524" y="254" width="4" height="4" fill="#d9e60d"/><rect x="1528" y="254" width="4" height="4" fill="#f0bb04"/><rect x="1532" y="254" width="4" height="4" fill="#f1a706"/><rect x="1536" y="254" width="4" height="4" fill="#f0770a"/><rect x="1540" y="254" width="4" height="4" fill="#ed560a"/><rect x="1544" y="254" width="4" height="4" fill="#f1800a"/><rect x="1548" y="254" width="4" height="4" fill="#f0760a"/><rect x="1552" y="254" width="4" height="4" fill="#f0b404"/><rect x="1556" y="254" width="4" height="4" fill="#f0c403"/><rect x="1560" y="254" width="4" height="4" fill="#f1b105"/><rect x="1564" y="254" width="4" height="4" fill="#e3e507"/><rect x="1568" y="254" width="4" height="4" fill="#f0dd00"/><rect x="1572" y="254" width="4" height="4" fill="#95eb35"/><rect x="1576" y="254" width="4" height="4" fill="#a2eb2e"/><rect x="1580" y="254" width="4" height="4" fill="#84eb3e"/><rect x="1584" y="254" width="4" height="4" fill="#bbe920"/><rect x="1588" y="254" width="4" height="4" fill="#f1af05"/><rect x="1592" y="254" width="4" height="4" fill="#f0ce02"/><rect x="1596" y="254" width="4" height="4" fill="#f1a706"/><rect x="1600" y="254" width="4" height="4" fill="#ef650a"/><rect x="1604" y="254" width="4" height="4" fill="#f0d701"/><rect x="1608" y="254" width="4" height="4" fill="#f0b304"/><rect x="1612" y="254" width="4" height="4" fill="#4ceb5b"/><rect x="1616" y="254" width="4" height="4" fill="#b8e922"/><rect x="1620" y="254" width="4" height="4" fill="#c7e819"/><rect x="1624" y="254" width="4" height="4" fill="#3ae966"/><rect x="1628" y="254" width="4" height="4" fill="#2fdc7c"/><rect x="1632" y="254" width="4" height="4" fill="#83eb3e"/><rect x="1636" y="254" width="4" height="4" fill="#21b4ac"/><rect x="1640" y="254" width="4" height="4" fill="#2d6ad3"/><rect x="1644" y="254" width="4" height="4" fill="#269bbb"/><rect x="1648" y="254" width="4" height="4" fill="#2d50d7"/><rect x="1652" y="254" width="4" height="4" fill="#2d6dd3"/><rect x="1656" y="254" width="4" height="4" fill="#2d75d2"/><rect x="1660" y="254" width="4" height="4" fill="#32df77"/><rect x="1664" y="254" width="4" height="4" fill="#d2e711"/><rect x="1668" y="254" width="4" height="4" fill="#28d48a"/><rect x="1672" y="254" width="4" height="4" fill="#37e56c"/><rect x="1676" y="254" width="4" height="4" fill="#a9eb2b"/><rect x="1680" y="254" width="4" height="4" fill="#76eb45"/><rect x="1524" y="258" width="4" height="4" fill="#f19e07"/><rect x="1528" y="258" width="4" height="4" fill="#f0d301"/><rect x="1532" y="258" width="4" height="4" fill="#c6e819"/><rect x="1536" y="258" width="4" height="4" fill="#eb450a"/><rect x="1540" y="258" width="4" height="4" fill="#f0760a"/><rect x="1544" y="258" width="4" height="4" fill="#f19108"/><rect x="1548" y="258" width="4" height="4" fill="#f0b804"/><rect x="1552" y="258" width="4" height="4" fill="#f0d401"/><rect x="1556" y="258" width="4" height="4" fill="#f0b904"/><rect x="1560" y="258" width="4" height="4" fill="#f1ab05"/><rect x="1564" y="258" width="4" height="4" fill="#f1a806"/><rect x="1568" y="258" width="4" height="4" fill="#f18409"/><rect x="1572" y="258" width="4" height="4" fill="#f0c603"/><rect x="1576" y="258" width="4" height="4" fill="#8eeb38"/><rect x="1580" y="258" width="4" height="4" fill="#2ad786"/><rect x="1584" y="258" width="4" height="4" fill="#96eb34"/><rect x="1588" y="258" width="4" height="4" fill="#f19c07"/><rect x="1592" y="258" width="4" height="4" fill="#f1a606"/><rect x="1596" y="258" width="4" height="4" fill="#ea340a"/><rect x="1600" y="258" width="4" height="4" fill="#f1a406"/><rect x="1604" y="258" width="4" height="4" fill="#f1aa05"/><rect x="1608" y="258" width="4" height="4" fill="#2fdc7c"/><rect x="1612" y="258" width="4" height="4" fill="#38e76a"/><rect x="1616" y="258" width="4" height="4" fill="#49eb5c"/><rect x="1620" y="258" width="4" height="4" fill="#6beb4a"/><rect x="1624" y="258" width="4" height="4" fill="#f0d301"/><rect x="1628" y="258" width="4" height="4" fill="#20b9a9"/><rect x="1632" y="258" width="4" height="4" fill="#2c7ccf"/><rect x="1636" y="258" width="4" height="4" fill="#2bd884"/><rect x="1640" y="258" width="4" height="4" fill="#288fc3"/><rect x="1644" y="258" width="4" height="4" fill="#2d61d4"/><rect x="1648" y="258" width="4" height="4" fill="#288dc4"/><rect x="1652" y="258" width="4" height="4" fill="#2d53d6"/><rect x="1656" y="258" width="4" height="4" fill="#2d58d5"/><rect x="1660" y="258" width="4" height="4" fill="#29d589"/><rect x="1664" y="258" width="4" height="4" fill="#40eb61"/><rect x="1668" y="258" width="4" height="4" fill="#2dda80"/><rect x="1672" y="258" width="4" height="4" fill="#cde715"/><rect x="1676" y="258" width="4" height="4" fill="#39e868"/><rect x="1680" y="258" width="4" height="4" fill="#2dd981"/><rect x="1524" y="262" width="4" height="4" fill="#f1aa05"/><rect x="1528" y="262" width="4" height="4" fill="#b3ea25"/><rect x="1532" y="262" width="4" height="4" fill="#f0d101"/><rect x="1536" y="262" width="4" height="4" fill="#f18c08"/><rect x="1540" y="262" width="4" height="4" fill="#cee714"/><rect x="1544" y="262" width="4" height="4" fill="#f0cf02"/><rect x="1548" y="262" width="4" height="4" fill="#f0e200"/><rect x="1552" y="262" width="4" height="4" fill="#f18c08"/><rect x="1556" y="262" width="4" height="4" fill="#f0d401"/><rect x="1560" y="262" width="4" height="4" fill="#f0740a"/><rect x="1564" y="262" width="4" height="4" fill="#f19707"/><rect x="1568" y="262" width="4" height="4" fill="#f0760a"/><rect x="1572" y="262" width="4" height="4" fill="#f0c303"/><rect x="1576" y="262" width="4" height="4" fill="#b3ea25"/><rect x="1580" y="262" width="4" height="4" fill="#f0c603"/><rect x="1584" y="262" width="4" height="4" fill="#f1a506"/><rect x="1588" y="262" width="4" height="4" fill="#f18d08"/><rect x="1592" y="262" width="4" height="4" fill="#8aeb3a"/><rect x="1596" y="262" width="4" height="4" fill="#21b4ac"/><rect x="1600" y="262" width="4" height="4" fill="#24cf93"/><rect x="1604" y="262" width="4" height="4" fill="#3feb62"/><rect x="1608" y="262" width="4" height="4" fill="#d5e610"/><rect x="1612" y="262" width="4" height="4" fill="#c1e91c"/><rect x="1616" y="262" width="4" height="4" fill="#b0ea26"/><rect x="1620" y="262" width="4" height="4" fill="#3ae867"/><rect x="1624" y="262" width="4" height="4" fill="#39e868"/><rect x="1628" y="262" width="4" height="4" fill="#7aeb43"/><rect x="1632" y="262" width="4" height="4" fill="#25d091"/><rect x="1636" y="262" width="4" height="4" fill="#23acb0"/><rect x="1640" y="262" width="4" height="4" fill="#1ec4a1"/><rect x="1644" y="262" width="4" height="4" fill="#23a9b2"/><rect x="1648" y="262" width="4" height="4" fill="#22cd97"/><rect x="1652" y="262" width="4" height="4" fill="#2d6dd3"/><rect x="1656" y="262" width="4" height="4" fill="#2d5ed5"/><rect x="1660" y="262" width="4" height="4" fill="#2d74d2"/><rect x="1664" y="262" width="4" height="4" fill="#2d6ad3"/><rect x="1668" y="262" width="4" height="4" fill="#21b5ab"/><rect x="1672" y="262" width="4" height="4" fill="#2d5cd5"/><rect x="1676" y="262" width="4" height="4" fill="#2d73d2"/><rect x="1680" y="262" width="4" height="4" fill="#2d64d4"/><rect x="1524" y="266" width="4" height="4" fill="#f1a006"/><rect x="1528" y="266" width="4" height="4" fill="#cee714"/><rect x="1532" y="266" width="4" height="4" fill="#8aeb3a"/><rect x="1536" y="266" width="4" height="4" fill="#7feb40"/><rect x="1540" y="266" width="4" height="4" fill="#38e76a"/><rect x="1544" y="266" width="4" height="4" fill="#f0de00"/><rect x="1548" y="266" width="4" height="4" fill="#f0cc02"/><rect x="1552" y="266" width="4" height="4" fill="#f0be03"/><rect x="1556" y="266" width="4" height="4" fill="#ef640a"/><rect x="1560" y="266" width="4" height="4" fill="#f0b704"/><rect x="1564" y="266" width="4" height="4" fill="#f18e08"/><rect x="1568" y="266" width="4" height="4" fill="#f19408"/><rect x="1572" y="266" width="4" height="4" fill="#ede401"/><rect x="1576" y="266" width="4" height="4" fill="#f1a206"/><rect x="1580" y="266" width="4" height="4" fill="#ee610a"/><rect x="1584" y="266" width="4" height="4" fill="#ee620a"/><rect x="1588" y="266" width="4" height="4" fill="#ebe402"/><rect x="1592" y="266" width="4" height="4" fill="#92eb36"/><rect x="1596" y="266" width="4" height="4" fill="#2d70d2"/><rect x="1600" y="266" width="4" height="4" fill="#2d63d4"/><rect x="1604" y="266" width="4" height="4" fill="#99eb33"/><rect x="1608" y="266" width="4" height="4" fill="#92eb36"/><rect x="1612" y="266" width="4" height="4" fill="#48eb5d"/><rect x="1616" y="266" width="4" height="4" fill="#cfe713"/><rect x="1620" y="266" width="4" height="4" fill="#8beb3a"/><rect x="1624" y="266" width="4" height="4" fill="#2cd982"/><rect x="1628" y="266" width="4" height="4" fill="#2bd784"/><rect x="1632" y="266" width="4" height="4" fill="#27d28d"/><rect x="1636" y="266" width="4" height="4" fill="#25d190"/><rect x="1640" y="266" width="4" height="4" fill="#2ad687"/><rect x="1644" y="266" width="4" height="4" fill="#24d092"/><rect x="1648" y="266" width="4" height="4" fill="#37e56d"/><rect x="1652" y="266" width="4" height="4" fill="#2d6cd3"/><rect x="1656" y="266" width="4" height="4" fill="#2d50d7"/><rect x="1660" y="266" width="4" height="4" fill="#2d68d3"/><rect x="1664" y="266" width="4" height="4" fill="#2d6cd3"/><rect x="1668" y="266" width="4" height="4" fill="#2d62d4"/><rect x="1672" y="266" width="4" height="4" fill="#2d57d6"/><rect x="1676" y="266" width="4" height="4" fill="#2d59d5"/><rect x="1680" y="266" width="4" height="4" fill="#2d5fd5"/><rect x="1524" y="270" width="4" height="4" fill="#f0cd02"/><rect x="1528" y="270" width="4" height="4" fill="#f1800a"/><rect x="1532" y="270" width="4" height="4" fill="#d1e712"/><rect x="1536" y="270" width="4" height="4" fill="#5aeb54"/><rect x="1540" y="270" width="4" height="4" fill="#e6e506"/><rect x="1544" y="270" width="4" height="4" fill="#f0ca02"/><rect x="1548" y="270" width="4" height="4" fill="#f1b205"/><rect x="1552" y="270" width="4" height="4" fill="#f1a906"/><rect x="1556" y="270" width="4" height="4" fill="#f18b09"/><rect x="1560" y="270" width="4" height="4" fill="#ed550a"/><rect x="1564" y="270" width="4" height="4" fill="#f0b504"/><rect x="1568" y="270" width="4" height="4" fill="#cae817"/><rect x="1572" y="270" width="4" height="4" fill="#f1ab05"/><rect x="1576" y="270" width="4" height="4" fill="#f0db00"/><rect x="1580" y="270" width="4" height="4" fill="#ee630a"/><rect x="1584" y="270" width="4" height="4" fill="#e61c09"/><rect x="1588" y="270" width="4" height="4" fill="#f19607"/><rect x="1592" y="270" width="4" height="4" fill="#f1a706"/><rect x="1596" y="270" width="4" height="4" fill="#25d090"/><rect x="1600" y="270" width="4" height="4" fill="#56eb56"/><rect x="1604" y="270" width="4" height="4" fill="#23ce94"/><rect x="1608" y="270" width="4" height="4" fill="#36e46f"/><rect x="1612" y="270" width="4" height="4" fill="#f0dd00"/><rect x="1616" y="270" width="4" height="4" fill="#2fdc7d"/><rect x="1620" y="270" width="4" height="4" fill="#22b1ae"/><rect x="1624" y="270" width="4" height="4" fill="#5beb53"/><rect x="1628" y="270" width="4" height="4" fill="#2bd784"/><rect x="1632" y="270" width="4" height="4" fill="#ebe402"/><rect x="1636" y="270" width="4" height="4" fill="#3ceb63"/><rect x="1640" y="270" width="4" height="4" fill="#d9e60d"/><rect x="1644" y="270" width="4" height="4" fill="#29d589"/><rect x="1648" y="270" width="4" height="4" fill="#9aeb32"/><rect x="1652" y="270" width="4" height="4" fill="#8beb3a"/><rect x="1656" y="270" width="4" height="4" fill="#2a85c9"/><rect x="1660" y="270" width="4" height="4" fill="#2d50d7"/><rect x="1664" y="270" width="4" height="4" fill="#2d6cd3"/><rect x="1668" y="270" width="4" height="4" fill="#2d54d6"/><rect x="1672" y="270" width="4" height="4" fill="#2d60d4"/><rect x="1676" y="270" width="4" height="4" fill="#2d67d4"/><rect x="1680" y="270" width="4" height="4" fill="#2d65d4"/><rect x="1524" y="274" width="4" height="4" fill="#f0d301"/><rect x="1528" y="274" width="4" height="4" fill="#f1790a"/><rect x="1532" y="274" width="4" height="4" fill="#27d28d"/><rect x="1536" y="274" width="4" height="4" fill="#24cf93"/><rect x="1540" y="274" width="4" height="4" fill="#f0c802"/><rect x="1544" y="274" width="4" height="4" fill="#60eb51"/><rect x="1548" y="274" width="4" height="4" fill="#5eeb52"/><rect x="1552" y="274" width="4" height="4" fill="#f1a006"/><rect x="1556" y="274" width="4" height="4" fill="#f0e100"/><rect x="1560" y="274" width="4" height="4" fill="#f19508"/><rect x="1564" y="274" width="4" height="4" fill="#f0c702"/><rect x="1568" y="274" width="4" height="4" fill="#afea27"/><rect x="1572" y="274" width="4" height="4" fill="#f19f07"/><rect x="1576" y="274" width="4" height="4" fill="#f1810a"/><rect x="1580" y="274" width="4" height="4" fill="#ef690a"/><rect x="1584" y="274" width="4" height="4" fill="#ee5c0a"/><rect x="1588" y="274" width="4" height="4" fill="#f19707"/><rect x="1592" y="274" width="4" height="4" fill="#ec490a"/><rect x="1596" y="274" width="4" height="4" fill="#f18e08"/><rect x="1600" y="274" width="4" height="4" fill="#83eb3e"/><rect x="1604" y="274" width="4" height="4" fill="#d1e712"/><rect x="1608" y="274" width="4" height="4" fill="#58eb55"/><rect x="1612" y="274" width="4" height="4" fill="#c0e91d"/><rect x="1616" y="274" width="4" height="4" fill="#49eb5d"/><rect x="1620" y="274" width="4" height="4" fill="#3bea64"/><rect x="1624" y="274" width="4" height="4" fill="#2a85c9"/><rect x="1628" y="274" width="4" height="4" fill="#a4eb2d"/><rect x="1632" y="274" width="4" height="4" fill="#81eb3f"/><rect x="1636" y="274" width="4" height="4" fill="#d7e60f"/><rect x="1640" y="274" width="4" height="4" fill="#41eb61"/><rect x="1644" y="274" width="4" height="4" fill="#76eb45"/><rect x="1648" y="274" width="4" height="4" fill="#26d28e"/><rect x="1652" y="274" width="4" height="4" fill="#3ae966"/><rect x="1656" y="274" width="4" height="4" fill="#23ce94"/><rect x="1660" y="274" width="4" height="4" fill="#2d69d3"/><rect x="1664" y="274" width="4" height="4" fill="#2d6dd3"/><rect x="1668" y="274" width="4" height="4" fill="#2d60d4"/><rect x="1672" y="274" width="4" height="4" fill="#2d6ad3"/><rect x="1676" y="274" width="4" height="4" fill="#2d69d3"/><rect x="1680" y="274" width="4" height="4" fill="#33e075"/><rect x="1524" y="278" width="4" height="4" fill="#ee620a"/><rect x="1528" y="278" width="4" height="4" fill="#f0bb04"/><rect x="1532" y="278" width="4" height="4" fill="#23adb0"/><rect x="1536" y="278" width="4" height="4" fill="#2d5fd5"/><rect x="1540" y="278" width="4" height="4" fill="#53eb57"/><rect x="1544" y="278" width="4" height="4" fill="#83eb3e"/><rect x="1548" y="278" width="4" height="4" fill="#f0dd00"/><rect x="1552" y="278" width="4" height="4" fill="#e21707"/><rect x="1556" y="278" width="4" height="4" fill="#e8230a"/><rect x="1560" y="278" width="4" height="4" fill="#ed550a"/><rect x="1564" y="278" width="4" height="4" fill="#f0cd02"/><rect x="1568" y="278" width="4" height="4" fill="#44eb5f"/><rect x="1572" y="278" width="4" height="4" fill="#f1a406"/><rect x="1576" y="278" width="4" height="4" fill="#f1a606"/><rect x="1580" y="278" width="4" height="4" fill="#e01507"/><rect x="1584" y="278" width="4" height="4" fill="#cd0000"/><rect x="1588" y="278" width="4" height="4" fill="#cd0000"/><rect x="1592" y="278" width="4" height="4" fill="#f17e0a"/><rect x="1596" y="278" width="4" height="4" fill="#f1780a"/><rect x="1600" y="278" width="4" height="4" fill="#eb450a"/><rect x="1604" y="278" width="4" height="4" fill="#c9e817"/><rect x="1608" y="278" width="4" height="4" fill="#f1a606"/><rect x="1612" y="278" width="4" height="4" fill="#31df78"/><rect x="1616" y="278" width="4" height="4" fill="#1fc1a4"/><rect x="1620" y="278" width="4" height="4" fill="#1ec3a3"/><rect x="1624" y="278" width="4" height="4" fill="#22cd96"/><rect x="1628" y="278" width="4" height="4" fill="#26d18f"/><rect x="1632" y="278" width="4" height="4" fill="#bfe91e"/><rect x="1636" y="278" width="4" height="4" fill="#30dd7a"/><rect x="1640" y="278" width="4" height="4" fill="#bde91f"/><rect x="1644" y="278" width="4" height="4" fill="#23ce95"/><rect x="1648" y="278" width="4" height="4" fill="#2dda80"/><rect x="1652" y="278" width="4" height="4" fill="#37e56d"/><rect x="1656" y="278" width="4" height="4" fill="#3bea64"/><rect x="1660" y="278" width="4" height="4" fill="#22adb0"/><rect x="1664" y="278" width="4" height="4" fill="#34e272"/><rect x="1668" y="278" width="4" height="4" fill="#2795bf"/><rect x="1672" y="278" width="4" height="4" fill="#25a2b7"/><rect x="1676" y="278" width="4" height="4" fill="#21cc98"/><rect x="1680" y="278" width="4" height="4" fill="#c6e819"/><rect x="1524" y="282" width="4" height="4" fill="#f0d401"/><rect x="1528" y="282" width="4" height="4" fill="#f0b604"/><rect x="1532" y="282" width="4" height="4" fill="#1fc99d"/><rect x="1536" y="282" width="4" height="4" fill="#2d5ad5"/><rect x="1540" y="282" width="4" height="4" fill="#2d75d2"/><rect x="1544" y="282" width="4" height="4" fill="#5ceb53"/><rect x="1548" y="282" width="4" height="4" fill="#e71d09"/><rect x="1552" y="282" width="4" height="4" fill="#e71d09"/><rect x="1556" y="282" width="4" height="4" fill="#eb430a"/><rect x="1560" y="282" width="4" height="4" fill="#f17f0a"/><rect x="1564" y="282" width="4" height="4" fill="#a5eb2d"/><rect x="1568" y="282" width="4" height="4" fill="#eee400"/><rect x="1572" y="282" width="4" height="4" fill="#f19b07"/><rect x="1576" y="282" width="4" height="4" fill="#f18209"/><rect x="1580" y="282" width="4" height="4" fill="#e41a08"/><rect x="1584" y="282" width="4" height="4" fill="#e92e0a"/><rect x="1588" y="282" width="4" height="4" fill="#ea330a"/><rect x="1592" y="282" width="4" height="4" fill="#da0e04"/><rect x="1596" y="282" width="4" height="4" fill="#e31808"/><rect x="1600" y="282" width="4" height="4" fill="#f19d07"/><rect x="1604" y="282" width="4" height="4" fill="#f18e08"/><rect x="1608" y="282" width="4" height="4" fill="#f1a006"/><rect x="1612" y="282" width="4" height="4" fill="#28d48a"/><rect x="1616" y="282" width="4" height="4" fill="#35e371"/><rect x="1620" y="282" width="4" height="4" fill="#24a5b5"/><rect x="1624" y="282" width="4" height="4" fill="#2d68d3"/><rect x="1628" y="282" width="4" height="4" fill="#54eb57"/><rect x="1632" y="282" width="4" height="4" fill="#59eb54"/><rect x="1636" y="282" width="4" height="4" fill="#1fca9c"/><rect x="1640" y="282" width="4" height="4" fill="#28d48a"/><rect x="1644" y="282" width="4" height="4" fill="#83eb3e"/><rect x="1648" y="282" width="4" height="4" fill="#6ceb4a"/><rect x="1652" y="282" width="4" height="4" fill="#31de79"/><rect x="1656" y="282" width="4" height="4" fill="#24a3b6"/><rect x="1660" y="282" width="4" height="4" fill="#7aeb43"/><rect x="1664" y="282" width="4" height="4" fill="#65eb4e"/><rect x="1668" y="282" width="4" height="4" fill="#2d74d2"/><rect x="1672" y="282" width="4" height="4" fill="#2cd982"/><rect x="1676" y="282" width="4" height="4" fill="#1ec89f"/><rect x="1680" y="282" width="4" height="4" fill="#27d38c"/><rect x="1524" y="286" width="4" height="4" fill="#f17c0a"/><rect x="1528" y="286" width="4" height="4" fill="#ef680a"/><rect x="1532" y="286" width="4" height="4" fill="#2edb7e"/><rect x="1536" y="286" width="4" height="4" fill="#21cc98"/><rect x="1540" y="286" width="4" height="4" fill="#3bea65"/><rect x="1544" y="286" width="4" height="4" fill="#f0e100"/><rect x="1548" y="286" width="4" height="4" fill="#f06e0a"/><rect x="1552" y="286" width="4" height="4" fill="#ed530a"/><rect x="1556" y="286" width="4" height="4" fill="#dd1105"/><rect x="1560" y="286" width="4" height="4" fill="#f1a406"/><rect x="1564" y="286" width="4" height="4" fill="#f0d001"/><rect x="1568" y="286" width="4" height="4" fill="#f0c003"/><rect x="1572" y="286" width="4" height="4" fill="#f1ac05"/><rect x="1576" y="286" width="4" height="4" fill="#d6e60f"/><rect x="1580" y="286" width="4" height="4" fill="#f18709"/><rect x="1584" y="286" width="4" height="4" fill="#d40802"/><rect x="1588" y="286" width="4" height="4" fill="#eb420a"/><rect x="1592" y="286" width="4" height="4" fill="#ea360a"/><rect x="1596" y="286" width="4" height="4" fill="#ea350a"/><rect x="1600" y="286" width="4" height="4" fill="#ea380a"/><rect x="1604" y="286" width="4" height="4" fill="#ed580a"/><rect x="1608" y="286" width="4" height="4" fill="#f0e100"/><rect x="1612" y="286" width="4" height="4" fill="#f1ac05"/><rect x="1616" y="286" width="4" height="4" fill="#e1e509"/><rect x="1620" y="286" width="4" height="4" fill="#2dda80"/><rect x="1624" y="286" width="4" height="4" fill="#22cd97"/><rect x="1628" y="286" width="4" height="4" fill="#2988c7"/><rect x="1632" y="286" width="4" height="4" fill="#259eb9"/><rect x="1636" y="286" width="4" height="4" fill="#29d589"/><rect x="1640" y="286" width="4" height="4" fill="#35e370"/><rect x="1644" y="286" width="4" height="4" fill="#67eb4d"/><rect x="1648" y="286" width="4" height="4" fill="#2bd784"/><rect x="1652" y="286" width="4" height="4" fill="#30dd7b"/><rect x="1656" y="286" width="4" height="4" fill="#31de79"/><rect x="1660" y="286" width="4" height="4" fill="#b5ea23"/><rect x="1664" y="286" width="4" height="4" fill="#a3eb2e"/><rect x="1668" y="286" width="4" height="4" fill="#23ce95"/><rect x="1672" y="286" width="4" height="4" fill="#7beb42"/><rect x="1676" y="286" width="4" height="4" fill="#1ec4a2"/><rect x="1680" y="286" width="4" height="4" fill="#abeb29"/><rect x="1524" y="290" width="4" height="4" fill="#ef640a"/><rect x="1528" y="290" width="4" height="4" fill="#f0d301"/><rect x="1532" y="290" width="4" height="4" fill="#e7e405"/><rect x="1536" y="290" width="4" height="4" fill="#f0e300"/><rect x="1540" y="290" width="4" height="4" fill="#f18609"/><rect x="1544" y="290" width="4" height="4" fill="#e8270a"/><rect x="1548" y="290" width="4" height="4" fill="#e8230a"/><rect x="1552" y="290" width="4" height="4" fill="#eb420a"/><rect x="1556" y="290" width="4" height="4" fill="#d20602"/><rect x="1560" y="290" width="4" height="4" fill="#f17a0a"/><rect x="1564" y="290" width="4" height="4" fill="#f18a09"/><rect x="1568" y="290" width="4" height="4" fill="#f0bd03"/><rect x="1572" y="290" width="4" height="4" fill="#d3e711"/><rect x="1576" y="290" width="4" height="4" fill="#f0d201"/><rect x="1580" y="290" width="4" height="4" fill="#f1b105"/><rect x="1584" y="290" width="4" height="4" fill="#ee5a0a"/><rect x="1588" y="290" width="4" height="4" fill="#ec4d0a"/><rect x="1592" y="290" width="4" height="4" fill="#e81f0a"/><rect x="1596" y="290" width="4" height="4" fill="#eb3e0a"/><rect x="1600" y="290" width="4" height="4" fill="#ed550a"/><rect x="1604" y="290" width="4" height="4" fill="#f18509"/><rect x="1608" y="290" width="4" height="4" fill="#f0d701"/><rect x="1612" y="290" width="4" height="4" fill="#f1780a"/><rect x="1616" y="290" width="4" height="4" fill="#eb430a"/><rect x="1620" y="290" width="4" height="4" fill="#1fc99d"/><rect x="1624" y="290" width="4" height="4" fill="#6aeb4b"/><rect x="1628" y="290" width="4" height="4" fill="#22afaf"/><rect x="1632" y="290" width="4" height="4" fill="#2d5bd5"/><rect x="1636" y="290" width="4" height="4" fill="#2c78d1"/><rect x="1640" y="290" width="4" height="4" fill="#39e769"/><rect x="1644" y="290" width="4" height="4" fill="#c4e81a"/><rect x="1648" y="290" width="4" height="4" fill="#bae921"/><rect x="1652" y="290" width="4" height="4" fill="#2cd883"/><rect x="1656" y="290" width="4" height="4" fill="#9aeb32"/><rect x="1660" y="290" width="4" height="4" fill="#f0d401"/><rect x="1664" y="290" width="4" height="4" fill="#c4e81a"/><rect x="1668" y="290" width="4" height="4" fill="#21b5ab"/><rect x="1672" y="290" width="4" height="4" fill="#5feb51"/><rect x="1676" y="290" width="4" height="4" fill="#63eb4f"/><rect x="1680" y="290" width="4" height="4" fill="#d1e712"/><rect x="1524" y="294" width="4" height="4" fill="#eae403"/><rect x="1528" y="294" width="4" height="4" fill="#cbe716"/><rect x="1532" y="294" width="4" height="4" fill="#77eb45"/><rect x="1536" y="294" width="4" height="4" fill="#d4e610"/><rect x="1540" y="294" width="4" height="4" fill="#f0e000"/><rect x="1544" y="294" width="4" height="4" fill="#ea360a"/><rect x="1548" y="294" width="4" height="4" fill="#ee630a"/><rect x="1552" y="294" width="4" height="4" fill="#df1406"/><rect x="1556" y="294" width="4" height="4" fill="#e8270a"/><rect x="1560" y="294" width="4" height="4" fill="#ee5c0a"/><rect x="1564" y="294" width="4" height="4" fill="#f19907"/><rect x="1568" y="294" width="4" height="4" fill="#f0dc00"/><rect x="1572" y="294" width="4" height="4" fill="#99eb33"/><rect x="1576" y="294" width="4" height="4" fill="#bde91f"/><rect x="1580" y="294" width="4" height="4" fill="#f19707"/><rect x="1584" y="294" width="4" height="4" fill="#f0d901"/><rect x="1588" y="294" width="4" height="4" fill="#f0d002"/><rect x="1592" y="294" width="4" height="4" fill="#c5e819"/><rect x="1596" y="294" width="4" height="4" fill="#ee630a"/><rect x="1600" y="294" width="4" height="4" fill="#d80c04"/><rect x="1604" y="294" width="4" height="4" fill="#ee5f0a"/><rect x="1608" y="294" width="4" height="4" fill="#f0dd00"/><rect x="1612" y="294" width="4" height="4" fill="#f19607"/><rect x="1616" y="294" width="4" height="4" fill="#f17e0a"/><rect x="1620" y="294" width="4" height="4" fill="#f0c802"/><rect x="1624" y="294" width="4" height="4" fill="#ebe403"/><rect x="1628" y="294" width="4" height="4" fill="#1ec7a0"/><rect x="1632" y="294" width="4" height="4" fill="#20ca9b"/><rect x="1636" y="294" width="4" height="4" fill="#1fc0a4"/><rect x="1640" y="294" width="4" height="4" fill="#20ca9b"/><rect x="1644" y="294" width="4" height="4" fill="#7ceb42"/><rect x="1648" y="294" width="4" height="4" fill="#cbe716"/><rect x="1652" y="294" width="4" height="4" fill="#9deb31"/><rect x="1656" y="294" width="4" height="4" fill="#54eb57"/><rect x="1660" y="294" width="4" height="4" fill="#77eb44"/><rect x="1664" y="294" width="4" height="4" fill="#8aeb3b"/><rect x="1668" y="294" width="4" height="4" fill="#91eb37"/><rect x="1672" y="294" width="4" height="4" fill="#21cb99"/><rect x="1676" y="294" width="4" height="4" fill="#50eb59"/><rect x="1680" y="294" width="4" height="4" fill="#2dda80"/><rect x="1524" y="298" width="4" height="4" fill="#cfe714"/><rect x="1528" y="298" width="4" height="4" fill="#a6eb2c"/><rect x="1532" y="298" width="4" height="4" fill="#51eb58"/><rect x="1536" y="298" width="4" height="4" fill="#36e46f"/><rect x="1540" y="298" width="4" height="4" fill="#55eb56"/><rect x="1544" y="298" width="4" height="4" fill="#f0de00"/><rect x="1548" y="298" width="4" height="4" fill="#f1a206"/><rect x="1552" y="298" width="4" height="4" fill="#f19607"/><rect x="1556" y="298" width="4" height="4" fill="#f19607"/><rect x="1560" y="298" width="4" height="4" fill="#c7e818"/><rect x="1564" y="298" width="4" height="4" fill="#f18a09"/><rect x="1568" y="298" width="4" height="4" fill="#ec4c0a"/><rect x="1572" y="298" width="4" height="4" fill="#c1e81c"/><rect x="1576" y="298" width="4" height="4" fill="#f0cd02"/><rect x="1580" y="298" width="4" height="4" fill="#f0bf03"/><rect x="1584" y="298" width="4" height="4" fill="#e0e509"/><rect x="1588" y="298" width="4" height="4" fill="#d4e610"/><rect x="1592" y="298" width="4" height="4" fill="#3feb62"/><rect x="1596" y="298" width="4" height="4" fill="#ed550a"/><rect x="1600" y="298" width="4" height="4" fill="#f17c0a"/><rect x="1604" y="298" width="4" height="4" fill="#eb3d0a"/><rect x="1608" y="298" width="4" height="4" fill="#f06e0a"/><rect x="1612" y="298" width="4" height="4" fill="#f19d07"/><rect x="1616" y="298" width="4" height="4" fill="#f17e0a"/><rect x="1620" y="298" width="4" height="4" fill="#e92d0a"/><rect x="1624" y="298" width="4" height="4" fill="#ec4c0a"/><rect x="1628" y="298" width="4" height="4" fill="#38e76a"/><rect x="1632" y="298" width="4" height="4" fill="#61eb50"/><rect x="1636" y="298" width="4" height="4" fill="#1fc1a4"/><rect x="1640" y="298" width="4" height="4" fill="#28d48a"/><rect x="1644" y="298" width="4" height="4" fill="#39e868"/><rect x="1648" y="298" width="4" height="4" fill="#a5eb2c"/><rect x="1652" y="298" width="4" height="4" fill="#37e66c"/><rect x="1656" y="298" width="4" height="4" fill="#f0d001"/><rect x="1660" y="298" width="4" height="4" fill="#6aeb4b"/><rect x="1664" y="298" width="4" height="4" fill="#84eb3d"/><rect x="1668" y="298" width="4" height="4" fill="#f0cd02"/><rect x="1672" y="298" width="4" height="4" fill="#f0c702"/><rect x="1676" y="298" width="4" height="4" fill="#66eb4d"/><rect x="1680" y="298" width="4" height="4" fill="#2dda80"/><rect x="1524" y="302" width="4" height="4" fill="#f0bc04"/><rect x="1528" y="302" width="4" height="4" fill="#b6ea23"/><rect x="1532" y="302" width="4" height="4" fill="#f0d601"/><rect x="1536" y="302" width="4" height="4" fill="#b2ea26"/><rect x="1540" y="302" width="4" height="4" fill="#f0b504"/><rect x="1544" y="302" width="4" height="4" fill="#f1b005"/><rect x="1548" y="302" width="4" height="4" fill="#f0b904"/><rect x="1552" y="302" width="4" height="4" fill="#c5e819"/><rect x="1556" y="302" width="4" height="4" fill="#a5eb2c"/><rect x="1560" y="302" width="4" height="4" fill="#c5e81a"/><rect x="1564" y="302" width="4" height="4" fill="#f0db00"/><rect x="1568" y="302" width="4" height="4" fill="#ed580a"/><rect x="1572" y="302" width="4" height="4" fill="#ea330a"/><rect x="1576" y="302" width="4" height="4" fill="#f19607"/><rect x="1580" y="302" width="4" height="4" fill="#f0c503"/><rect x="1584" y="302" width="4" height="4" fill="#7beb42"/><rect x="1588" y="302" width="4" height="4" fill="#1fc99d"/><rect x="1592" y="302" width="4" height="4" fill="#f0dc00"/><rect x="1596" y="302" width="4" height="4" fill="#b1ea26"/><rect x="1600" y="302" width="4" height="4" fill="#f0ba04"/><rect x="1604" y="302" width="4" height="4" fill="#f0730a"/><rect x="1608" y="302" width="4" height="4" fill="#ef680a"/><rect x="1612" y="302" width="4" height="4" fill="#b5ea24"/><rect x="1616" y="302" width="4" height="4" fill="#f1ac05"/><rect x="1620" y="302" width="4" height="4" fill="#ef6d0a"/><rect x="1624" y="302" width="4" height="4" fill="#f0b404"/><rect x="1628" y="302" width="4" height="4" fill="#63eb4f"/><rect x="1632" y="302" width="4" height="4" fill="#23abb1"/><rect x="1636" y="302" width="4" height="4" fill="#3bea65"/><rect x="1640" y="302" width="4" height="4" fill="#56eb56"/><rect x="1644" y="302" width="4" height="4" fill="#cde715"/><rect x="1648" y="302" width="4" height="4" fill="#f19d07"/><rect x="1652" y="302" width="4" height="4" fill="#f0c802"/><rect x="1656" y="302" width="4" height="4" fill="#ef690a"/><rect x="1660" y="302" width="4" height="4" fill="#46eb5e"/><rect x="1664" y="302" width="4" height="4" fill="#f0e000"/><rect x="1668" y="302" width="4" height="4" fill="#cae817"/><rect x="1672" y="302" width="4" height="4" fill="#f0d001"/><rect x="1676" y="302" width="4" height="4" fill="#37e66c"/><rect x="1680" y="302" width="4" height="4" fill="#3bea64"/><rect x="1524" y="306" width="4" height="4" fill="#f17f0a"/><rect x="1528" y="306" width="4" height="4" fill="#f1b005"/><rect x="1532" y="306" width="4" height="4" fill="#ebe402"/><rect x="1536" y="306" width="4" height="4" fill="#c6e819"/><rect x="1540" y="306" width="4" height="4" fill="#f1ab05"/><rect x="1544" y="306" width="4" height="4" fill="#f18b08"/><rect x="1548" y="306" width="4" height="4" fill="#f0b804"/><rect x="1552" y="306" width="4" height="4" fill="#f0e200"/><rect x="1556" y="306" width="4" height="4" fill="#bee91e"/><rect x="1560" y="306" width="4" height="4" fill="#dbe60c"/><rect x="1564" y="306" width="4" height="4" fill="#f0c902"/><rect x="1568" y="306" width="4" height="4" fill="#f19e07"/><rect x="1572" y="306" width="4" height="4" fill="#ec460a"/><rect x="1576" y="306" width="4" height="4" fill="#d20602"/><rect x="1580" y="306" width="4" height="4" fill="#ea350a"/><rect x="1584" y="306" width="4" height="4" fill="#f0c902"/><rect x="1588" y="306" width="4" height="4" fill="#eae403"/><rect x="1592" y="306" width="4" height="4" fill="#44eb5f"/><rect x="1596" y="306" width="4" height="4" fill="#f1a106"/><rect x="1600" y="306" width="4" height="4" fill="#ef6b0a"/><rect x="1604" y="306" width="4" height="4" fill="#f0c702"/><rect x="1608" y="306" width="4" height="4" fill="#f0b804"/><rect x="1612" y="306" width="4" height="4" fill="#d1e712"/><rect x="1616" y="306" width="4" height="4" fill="#a6eb2c"/><rect x="1620" y="306" width="4" height="4" fill="#cee714"/><rect x="1624" y="306" width="4" height="4" fill="#f0d301"/><rect x="1628" y="306" width="4" height="4" fill="#288ec4"/><rect x="1632" y="306" width="4" height="4" fill="#2d66d4"/><rect x="1636" y="306" width="4" height="4" fill="#cfe713"/><rect x="1640" y="306" width="4" height="4" fill="#f0e200"/><rect x="1644" y="306" width="4" height="4" fill="#f1b005"/><rect x="1648" y="306" width="4" height="4" fill="#f0bd03"/><rect x="1652" y="306" width="4" height="4" fill="#ef690a"/><rect x="1656" y="306" width="4" height="4" fill="#f0770a"/><rect x="1660" y="306" width="4" height="4" fill="#c0e91d"/><rect x="1664" y="306" width="4" height="4" fill="#2eda7f"/><rect x="1668" y="306" width="4" height="4" fill="#38e66b"/><rect x="1672" y="306" width="4" height="4" fill="#56eb55"/><rect x="1676" y="306" width="4" height="4" fill="#2698bd"/><rect x="1680" y="306" width="4" height="4" fill="#21b3ac"/><rect x="1524" y="310" width="4" height="4" fill="#f19108"/><rect x="1528" y="310" width="4" height="4" fill="#e2e508"/><rect x="1532" y="310" width="4" height="4" fill="#f1a905"/><rect x="1536" y="310" width="4" height="4" fill="#dde50b"/><rect x="1540" y="310" width="4" height="4" fill="#b1ea26"/><rect x="1544" y="310" width="4" height="4" fill="#34e273"/><rect x="1548" y="310" width="4" height="4" fill="#f1ab05"/><rect x="1552" y="310" width="4" height="4" fill="#f19f06"/><rect x="1556" y="310" width="4" height="4" fill="#f0ca02"/><rect x="1560" y="310" width="4" height="4" fill="#20ca9b"/><rect x="1564" y="310" width="4" height="4" fill="#f1b005"/><rect x="1568" y="310" width="4" height="4" fill="#f17b0a"/><rect x="1572" y="310" width="4" height="4" fill="#ec4e0a"/><rect x="1576" y="310" width="4" height="4" fill="#db1005"/><rect x="1580" y="310" width="4" height="4" fill="#e61c09"/><rect x="1584" y="310" width="4" height="4" fill="#d70b03"/><rect x="1588" y="310" width="4" height="4" fill="#7feb40"/><rect x="1592" y="310" width="4" height="4" fill="#c7e819"/><rect x="1596" y="310" width="4" height="4" fill="#e2e508"/><rect x="1600" y="310" width="4" height="4" fill="#ede401"/><rect x="1604" y="310" width="4" height="4" fill="#f19e07"/><rect x="1608" y="310" width="4" height="4" fill="#f19108"/><rect x="1612" y="310" width="4" height="4" fill="#f0d701"/><rect x="1616" y="310" width="4" height="4" fill="#93eb36"/><rect x="1620" y="310" width="4" height="4" fill="#f0d901"/><rect x="1624" y="310" width="4" height="4" fill="#c6e819"/><rect x="1628" y="310" width="4" height="4" fill="#26d28e"/><rect x="1632" y="310" width="4" height="4" fill="#2cd982"/><rect x="1636" y="310" width="4" height="4" fill="#96eb34"/><rect x="1640" y="310" width="4" height="4" fill="#dce60b"/><rect x="1644" y="310" width="4" height="4" fill="#f1a606"/><rect x="1648" y="310" width="4" height="4" fill="#f1b205"/><rect x="1652" y="310" width="4" height="4" fill="#ec4e0a"/><rect x="1656" y="310" width="4" height="4" fill="#ec460a"/><rect x="1660" y="310" width="4" height="4" fill="#44eb5f"/><rect x="1664" y="310" width="4" height="4" fill="#1fbda6"/><rect x="1668" y="310" width="4" height="4" fill="#37e66c"/><rect x="1672" y="310" width="4" height="4" fill="#4beb5b"/><rect x="1676" y="310" width="4" height="4" fill="#2d76d2"/><rect x="1680" y="310" width="4" height="4" fill="#23ce94"/><rect x="1524" y="314" width="4" height="4" fill="#f18b08"/><rect x="1528" y="314" width="4" height="4" fill="#ed510a"/><rect x="1532" y="314" width="4" height="4" fill="#f0770a"/><rect x="1536" y="314" width="4" height="4" fill="#f0e100"/><rect x="1540" y="314" width="4" height="4" fill="#2d76d2"/><rect x="1544" y="314" width="4" height="4" fill="#2796be"/><rect x="1548" y="314" width="4" height="4" fill="#f0dc00"/><rect x="1552" y="314" width="4" height="4" fill="#f1aa05"/><rect x="1556" y="314" width="4" height="4" fill="#f0c403"/><rect x="1560" y="314" width="4" height="4" fill="#f1a006"/><rect x="1564" y="314" width="4" height="4" fill="#22cd97"/><rect x="1568" y="314" width="4" height="4" fill="#f0b304"/><rect x="1572" y="314" width="4" height="4" fill="#e31808"/><rect x="1576" y="314" width="4" height="4" fill="#cd0000"/><rect x="1580" y="314" width="4" height="4" fill="#cd0000"/><rect x="1584" y="314" width="4" height="4" fill="#eb450a"/><rect x="1588" y="314" width="4" height="4" fill="#e81e0a"/><rect x="1592" y="314" width="4" height="4" fill="#90eb37"/><rect x="1596" y="314" width="4" height="4" fill="#33e174"/><rect x="1600" y="314" width="4" height="4" fill="#5beb53"/><rect x="1604" y="314" width="4" height="4" fill="#35e370"/><rect x="1608" y="314" width="4" height="4" fill="#77eb45"/><rect x="1612" y="314" width="4" height="4" fill="#21b3ac"/><rect x="1616" y="314" width="4" height="4" fill="#ebe402"/><rect x="1620" y="314" width="4" height="4" fill="#ee630a"/><rect x="1624" y="314" width="4" height="4" fill="#f0d701"/><rect x="1628" y="314" width="4" height="4" fill="#2d66d4"/><rect x="1632" y="314" width="4" height="4" fill="#2d74d2"/><rect x="1636" y="314" width="4" height="4" fill="#1ec89e"/><rect x="1640" y="314" width="4" height="4" fill="#b0ea27"/><rect x="1644" y="314" width="4" height="4" fill="#f0bb04"/><rect x="1648" y="314" width="4" height="4" fill="#afea27"/><rect x="1652" y="314" width="4" height="4" fill="#f0e200"/><rect x="1656" y="314" width="4" height="4" fill="#b3ea24"/><rect x="1660" y="314" width="4" height="4" fill="#24a4b6"/><rect x="1664" y="314" width="4" height="4" fill="#24a7b4"/><rect x="1668" y="314" width="4" height="4" fill="#80eb40"/><rect x="1672" y="314" width="4" height="4" fill="#6aeb4b"/><rect x="1676" y="314" width="4" height="4" fill="#30dd7b"/><rect x="1680" y="314" width="4" height="4" fill="#1fbfa5"/><rect x="1524" y="318" width="4" height="4" fill="#ea350a"/><rect x="1528" y="318" width="4" height="4" fill="#f18b09"/><rect x="1532" y="318" width="4" height="4" fill="#f18609"/><rect x="1536" y="318" width="4" height="4" fill="#f0cc02"/><rect x="1540" y="318" width="4" height="4" fill="#2a86c9"/><rect x="1544" y="318" width="4" height="4" fill="#288ec3"/><rect x="1548" y="318" width="4" height="4" fill="#efe400"/><rect x="1552" y="318" width="4" height="4" fill="#f1aa05"/><rect x="1556" y="318" width="4" height="4" fill="#8beb3a"/><rect x="1560" y="318" width="4" height="4" fill="#a7eb2c"/><rect x="1564" y="318" width="4" height="4" fill="#3ae967"/><rect x="1568" y="318" width="4" height="4" fill="#bce91f"/><rect x="1572" y="318" width="4" height="4" fill="#cd0000"/><rect x="1576" y="318" width="4" height="4" fill="#e51b09"/><rect x="1580" y="318" width="4" height="4" fill="#d80c04"/><rect x="1584" y="318" width="4" height="4" fill="#e92c0a"/><rect x="1588" y="318" width="4" height="4" fill="#da0e04"/><rect x="1592" y="318" width="4" height="4" fill="#63eb4f"/><rect x="1596" y="318" width="4" height="4" fill="#42eb60"/><rect x="1600" y="318" width="4" height="4" fill="#5aeb53"/><rect x="1604" y="318" width="4" height="4" fill="#89eb3b"/><rect x="1608" y="318" width="4" height="4" fill="#ebe402"/><rect x="1612" y="318" width="4" height="4" fill="#1fc99c"/><rect x="1616" y="318" width="4" height="4" fill="#f0bb04"/><rect x="1620" y="318" width="4" height="4" fill="#f18609"/><rect x="1624" y="318" width="4" height="4" fill="#f0d301"/><rect x="1628" y="318" width="4" height="4" fill="#21cc98"/><rect x="1632" y="318" width="4" height="4" fill="#25a0b8"/><rect x="1636" y="318" width="4" height="4" fill="#1ec4a2"/><rect x="1640" y="318" width="4" height="4" fill="#1ec7a0"/><rect x="1644" y="318" width="4" height="4" fill="#7beb42"/><rect x="1648" y="318" width="4" height="4" fill="#1ec3a2"/><rect x="1652" y="318" width="4" height="4" fill="#f0dc00"/><rect x="1656" y="318" width="4" height="4" fill="#62eb50"/><rect x="1660" y="318" width="4" height="4" fill="#21b7aa"/><rect x="1664" y="318" width="4" height="4" fill="#23abb1"/><rect x="1668" y="318" width="4" height="4" fill="#29d589"/><rect x="1672" y="318" width="4" height="4" fill="#24cf92"/><rect x="1676" y="318" width="4" height="4" fill="#a3eb2e"/><rect x="1680" y="318" width="4" height="4" fill="#82eb3f"/><rect x="1524" y="322" width="4" height="4" fill="#f1a306"/><rect x="1528" y="322" width="4" height="4" fill="#f19b07"/><rect x="1532" y="322" width="4" height="4" fill="#f0df00"/><rect x="1536" y="322" width="4" height="4" fill="#d6e60f"/><rect x="1540" y="322" width="4" height="4" fill="#2c78d1"/><rect x="1544" y="322" width="4" height="4" fill="#2794bf"/><rect x="1548" y="322" width="4" height="4" fill="#f0d201"/><rect x="1552" y="322" width="4" height="4" fill="#f19c07"/><rect x="1556" y="322" width="4" height="4" fill="#f0db00"/><rect x="1560" y="322" width="4" height="4" fill="#5beb53"/><rect x="1564" y="322" width="4" height="4" fill="#6beb4a"/><rect x="1568" y="322" width="4" height="4" fill="#77eb45"/><rect x="1572" y="322" width="4" height="4" fill="#f18c08"/><rect x="1576" y="322" width="4" height="4" fill="#ed560a"/><rect x="1580" y="322" width="4" height="4" fill="#e81f0a"/><rect x="1584" y="322" width="4" height="4" fill="#e92c0a"/><rect x="1588" y="322" width="4" height="4" fill="#9aeb32"/><rect x="1592" y="322" width="4" height="4" fill="#bce91f"/><rect x="1596" y="322" width="4" height="4" fill="#77eb45"/><rect x="1600" y="322" width="4" height="4" fill="#3eeb62"/><rect x="1604" y="322" width="4" height="4" fill="#7eeb41"/><rect x="1608" y="322" width="4" height="4" fill="#6deb4a"/><rect x="1612" y="322" width="4" height="4" fill="#3ae967"/><rect x="1616" y="322" width="4" height="4" fill="#f1ae05"/><rect x="1620" y="322" width="4" height="4" fill="#ed510a"/><rect x="1624" y="322" width="4" height="4" fill="#f18f08"/><rect x="1628" y="322" width="4" height="4" fill="#cce715"/><rect x="1632" y="322" width="4" height="4" fill="#38e76a"/><rect x="1636" y="322" width="4" height="4" fill="#4ceb5b"/><rect x="1640" y="322" width="4" height="4" fill="#2cd982"/><rect x="1644" y="322" width="4" height="4" fill="#31de79"/><rect x="1648" y="322" width="4" height="4" fill="#44eb5f"/><rect x="1652" y="322" width="4" height="4" fill="#3ae967"/><rect x="1656" y="322" width="4" height="4" fill="#2edb7e"/><rect x="1660" y="322" width="4" height="4" fill="#1ec5a1"/><rect x="1664" y="322" width="4" height="4" fill="#22b2ad"/><rect x="1668" y="322" width="4" height="4" fill="#22aeaf"/><rect x="1672" y="322" width="4" height="4" fill="#43eb5f"/><rect x="1676" y="322" width="4" height="4" fill="#cde715"/><rect x="1680" y="322" width="4" height="4" fill="#25d190"/><rect x="1524" y="326" width="4" height="4" fill="#f18f08"/><rect x="1528" y="326" width="4" height="4" fill="#f19408"/><rect x="1532" y="326" width="4" height="4" fill="#f19308"/><rect x="1536" y="326" width="4" height="4" fill="#f19807"/><rect x="1540" y="326" width="4" height="4" fill="#2794c0"/><rect x="1544" y="326" width="4" height="4" fill="#2d77d2"/><rect x="1548" y="326" width="4" height="4" fill="#d5e610"/><rect x="1552" y="326" width="4" height="4" fill="#f1a706"/><rect x="1556" y="326" width="4" height="4" fill="#f18a09"/><rect x="1560" y="326" width="4" height="4" fill="#76eb45"/><rect x="1564" y="326" width="4" height="4" fill="#3ae967"/><rect x="1568" y="326" width="4" height="4" fill="#28d48a"/><rect x="1572" y="326" width="4" height="4" fill="#33e174"/><rect x="1576" y="326" width="4" height="4" fill="#f17f0a"/><rect x="1580" y="326" width="4" height="4" fill="#ec460a"/><rect x="1584" y="326" width="4" height="4" fill="#eb420a"/><rect x="1588" y="326" width="4" height="4" fill="#2fdc7d"/><rect x="1592" y="326" width="4" height="4" fill="#d2e712"/><rect x="1596" y="326" width="4" height="4" fill="#31de79"/><rect x="1600" y="326" width="4" height="4" fill="#35e370"/><rect x="1604" y="326" width="4" height="4" fill="#91eb37"/><rect x="1608" y="326" width="4" height="4" fill="#38e76a"/><rect x="1612" y="326" width="4" height="4" fill="#f0ba04"/><rect x="1616" y="326" width="4" height="4" fill="#ef6b0a"/><rect x="1620" y="326" width="4" height="4" fill="#f17d0a"/><rect x="1624" y="326" width="4" height="4" fill="#f19108"/><rect x="1628" y="326" width="4" height="4" fill="#f0e000"/><rect x="1632" y="326" width="4" height="4" fill="#f0d101"/><rect x="1636" y="326" width="4" height="4" fill="#a2eb2e"/><rect x="1640" y="326" width="4" height="4" fill="#f1b105"/><rect x="1644" y="326" width="4" height="4" fill="#c8e818"/><rect x="1648" y="326" width="4" height="4" fill="#f0d002"/><rect x="1652" y="326" width="4" height="4" fill="#4ceb5b"/><rect x="1656" y="326" width="4" height="4" fill="#29d589"/><rect x="1660" y="326" width="4" height="4" fill="#44eb5f"/><rect x="1664" y="326" width="4" height="4" fill="#63eb4f"/><rect x="1668" y="326" width="4" height="4" fill="#50eb59"/><rect x="1672" y="326" width="4" height="4" fill="#23ce95"/><rect x="1676" y="326" width="4" height="4" fill="#c1e81c"/><rect x="1680" y="326" width="4" height="4" fill="#30dd7b"/><rect x="1524" y="330" width="4" height="4" fill="#e9300a"/><rect x="1528" y="330" width="4" height="4" fill="#ef680a"/><rect x="1532" y="330" width="4" height="4" fill="#f18d08"/><rect x="1536" y="330" width="4" height="4" fill="#f1a006"/><rect x="1540" y="330" width="4" height="4" fill="#2c7ad0"/><rect x="1544" y="330" width="4" height="4" fill="#2d6fd3"/><rect x="1548" y="330" width="4" height="4" fill="#f19208"/><rect x="1552" y="330" width="4" height="4" fill="#f1a106"/><rect x="1556" y="330" width="4" height="4" fill="#bfe91d"/><rect x="1560" y="330" width="4" height="4" fill="#f0de00"/><rect x="1564" y="330" width="4" height="4" fill="#6ceb4a"/><rect x="1568" y="330" width="4" height="4" fill="#aeeb28"/><rect x="1572" y="330" width="4" height="4" fill="#27d38c"/><rect x="1576" y="330" width="4" height="4" fill="#cd0100"/><rect x="1580" y="330" width="4" height="4" fill="#ed550a"/><rect x="1584" y="330" width="4" height="4" fill="#d30702"/><rect x="1588" y="330" width="4" height="4" fill="#1ec4a2"/><rect x="1592" y="330" width="4" height="4" fill="#36e56e"/><rect x="1596" y="330" width="4" height="4" fill="#38e66b"/><rect x="1600" y="330" width="4" height="4" fill="#31df78"/><rect x="1604" y="330" width="4" height="4" fill="#30dd7b"/><rect x="1608" y="330" width="4" height="4" fill="#84eb3e"/><rect x="1612" y="330" width="4" height="4" fill="#f0d301"/><rect x="1616" y="330" width="4" height="4" fill="#f06f0a"/><rect x="1620" y="330" width="4" height="4" fill="#eb400a"/><rect x="1624" y="330" width="4" height="4" fill="#dc1105"/><rect x="1628" y="330" width="4" height="4" fill="#f0760a"/><rect x="1632" y="330" width="4" height="4" fill="#f1ad05"/><rect x="1636" y="330" width="4" height="4" fill="#f19e07"/><rect x="1640" y="330" width="4" height="4" fill="#f1a106"/><rect x="1644" y="330" width="4" height="4" fill="#f0c702"/><rect x="1648" y="330" width="4" height="4" fill="#f0d701"/><rect x="1652" y="330" width="4" height="4" fill="#a0eb2f"/><rect x="1656" y="330" width="4" height="4" fill="#56eb56"/><rect x="1660" y="330" width="4" height="4" fill="#f1a706"/><rect x="1664" y="330" width="4" height="4" fill="#b9e921"/><rect x="1668" y="330" width="4" height="4" fill="#f1a806"/><rect x="1672" y="330" width="4" height="4" fill="#f0e300"/><rect x="1676" y="330" width="4" height="4" fill="#f0ce02"/><rect x="1680" y="330" width="4" height="4" fill="#f0d301"/><rect x="1524" y="334" width="4" height="4" fill="#ec490a"/><rect x="1528" y="334" width="4" height="4" fill="#eb440a"/><rect x="1532" y="334" width="4" height="4" fill="#f0750a"/><rect x="1536" y="334" width="4" height="4" fill="#ec470a"/><rect x="1540" y="334" width="4" height="4" fill="#2d50d7"/><rect x="1544" y="334" width="4" height="4" fill="#2d68d3"/><rect x="1548" y="334" width="4" height="4" fill="#ee5e0a"/><rect x="1552" y="334" width="4" height="4" fill="#ef640a"/><rect x="1556" y="334" width="4" height="4" fill="#bfe91d"/><rect x="1560" y="334" width="4" height="4" fill="#f0c802"/><rect x="1564" y="334" width="4" height="4" fill="#75eb46"/><rect x="1568" y="334" width="4" height="4" fill="#3bea65"/><rect x="1572" y="334" width="4" height="4" fill="#dae60d"/><rect x="1576" y="334" width="4" height="4" fill="#58eb54"/><rect x="1580" y="334" width="4" height="4" fill="#cd0000"/><rect x="1584" y="334" width="4" height="4" fill="#dc1005"/><rect x="1588" y="334" width="4" height="4" fill="#3ae967"/><rect x="1592" y="334" width="4" height="4" fill="#38e66b"/><rect x="1596" y="334" width="4" height="4" fill="#38e76a"/><rect x="1600" y="334" width="4" height="4" fill="#a5eb2c"/><rect x="1604" y="334" width="4" height="4" fill="#30dd7a"/><rect x="1608" y="334" width="4" height="4" fill="#ef690a"/><rect x="1612" y="334" width="4" height="4" fill="#f19108"/><rect x="1616" y="334" width="4" height="4" fill="#f1a206"/><rect x="1620" y="334" width="4" height="4" fill="#f0710a"/><rect x="1624" y="334" width="4" height="4" fill="#eb3d0a"/><rect x="1628" y="334" width="4" height="4" fill="#f19e07"/><rect x="1632" y="334" width="4" height="4" fill="#ec460a"/><rect x="1636" y="334" width="4" height="4" fill="#ed520a"/><rect x="1640" y="334" width="4" height="4" fill="#ed510a"/><rect x="1644" y="334" width="4" height="4" fill="#e1e509"/><rect x="1648" y="334" width="4" height="4" fill="#f0da00"/><rect x="1652" y="334" width="4" height="4" fill="#f0750a"/><rect x="1656" y="334" width="4" height="4" fill="#cae816"/><rect x="1660" y="334" width="4" height="4" fill="#47eb5e"/><rect x="1664" y="334" width="4" height="4" fill="#60eb51"/><rect x="1668" y="334" width="4" height="4" fill="#f0c902"/><rect x="1672" y="334" width="4" height="4" fill="#ebe402"/><rect x="1676" y="334" width="4" height="4" fill="#d1e712"/><rect x="1680" y="334" width="4" height="4" fill="#bae921"/><rect x="1524" y="338" width="4" height="4" fill="#f18309"/><rect x="1528" y="338" width="4" height="4" fill="#ec460a"/><rect x="1532" y="338" width="4" height="4" fill="#f1a406"/><rect x="1536" y="338" width="4" height="4" fill="#f19d07"/><rect x="1540" y="338" width="4" height="4" fill="#2c78d1"/><rect x="1544" y="338" width="4" height="4" fill="#2d68d3"/><rect x="1548" y="338" width="4" height="4" fill="#f18d08"/><rect x="1552" y="338" width="4" height="4" fill="#f1810a"/><rect x="1556" y="338" width="4" height="4" fill="#37e56d"/><rect x="1560" y="338" width="4" height="4" fill="#32df77"/><rect x="1564" y="338" width="4" height="4" fill="#37e56d"/><rect x="1568" y="338" width="4" height="4" fill="#66eb4d"/><rect x="1572" y="338" width="4" height="4" fill="#d1e712"/><rect x="1576" y="338" width="4" height="4" fill="#35e370"/><rect x="1580" y="338" width="4" height="4" fill="#eb440a"/><rect x="1584" y="338" width="4" height="4" fill="#1ec3a3"/><rect x="1588" y="338" width="4" height="4" fill="#5deb52"/><rect x="1592" y="338" width="4" height="4" fill="#5deb52"/><rect x="1596" y="338" width="4" height="4" fill="#26d18f"/><rect x="1600" y="338" width="4" height="4" fill="#26d18f"/><rect x="1604" y="338" width="4" height="4" fill="#3ae966"/><rect x="1608" y="338" width="4" height="4" fill="#f1a206"/><rect x="1612" y="338" width="4" height="4" fill="#ed580a"/><rect x="1616" y="338" width="4" height="4" fill="#f19c07"/><rect x="1620" y="338" width="4" height="4" fill="#ed550a"/><rect x="1624" y="338" width="4" height="4" fill="#f1790a"/><rect x="1628" y="338" width="4" height="4" fill="#f17a0a"/><rect x="1632" y="338" width="4" height="4" fill="#ef680a"/><rect x="1636" y="338" width="4" height="4" fill="#e31908"/><rect x="1640" y="338" width="4" height="4" fill="#ee5e0a"/><rect x="1644" y="338" width="4" height="4" fill="#cce716"/><rect x="1648" y="338" width="4" height="4" fill="#dfe50a"/><rect x="1652" y="338" width="4" height="4" fill="#f17f0a"/><rect x="1656" y="338" width="4" height="4" fill="#f19e07"/><rect x="1660" y="338" width="4" height="4" fill="#f0b804"/><rect x="1664" y="338" width="4" height="4" fill="#d2e712"/><rect x="1668" y="338" width="4" height="4" fill="#f0bd03"/><rect x="1672" y="338" width="4" height="4" fill="#efe400"/><rect x="1676" y="338" width="4" height="4" fill="#f0d301"/><rect x="1680" y="338" width="4" height="4" fill="#f0ba04"/><rect x="1524" y="342" width="4" height="4" fill="#e9300a"/><rect x="1528" y="342" width="4" height="4" fill="#f17b0a"/><rect x="1532" y="342" width="4" height="4" fill="#ed520a"/><rect x="1536" y="342" width="4" height="4" fill="#efe400"/><rect x="1540" y="342" width="4" height="4" fill="#2d63d4"/><rect x="1544" y="342" width="4" height="4" fill="#2d65d4"/><rect x="1548" y="342" width="4" height="4" fill="#ef6b0a"/><rect x="1552" y="342" width="4" height="4" fill="#f0d701"/><rect x="1556" y="342" width="4" height="4" fill="#b8e922"/><rect x="1560" y="342" width="4" height="4" fill="#6beb4b"/><rect x="1564" y="342" width="4" height="4" fill="#adeb28"/><rect x="1568" y="342" width="4" height="4" fill="#67eb4d"/><rect x="1572" y="342" width="4" height="4" fill="#5eeb52"/><rect x="1576" y="342" width="4" height="4" fill="#2cd982"/><rect x="1580" y="342" width="4" height="4" fill="#d5e610"/><rect x="1584" y="342" width="4" height="4" fill="#5ceb52"/><rect x="1588" y="342" width="4" height="4" fill="#23cd95"/><rect x="1592" y="342" width="4" height="4" fill="#91eb37"/><rect x="1596" y="342" width="4" height="4" fill="#6deb4a"/><rect x="1600" y="342" width="4" height="4" fill="#b5ea24"/><rect x="1604" y="342" width="4" height="4" fill="#db0f05"/><rect x="1608" y="342" width="4" height="4" fill="#f17b0a"/><rect x="1612" y="342" width="4" height="4" fill="#f0b704"/><rect x="1616" y="342" width="4" height="4" fill="#ef680a"/><rect x="1620" y="342" width="4" height="4" fill="#e81e0a"/><rect x="1624" y="342" width="4" height="4" fill="#f18d08"/><rect x="1628" y="342" width="4" height="4" fill="#f18409"/><rect x="1632" y="342" width="4" height="4" fill="#f1af05"/><rect x="1636" y="342" width="4" height="4" fill="#f1b005"/><rect x="1640" y="342" width="4" height="4" fill="#f0cd02"/><rect x="1644" y="342" width="4" height="4" fill="#2b7ecd"/><rect x="1648" y="342" width="4" height="4" fill="#3eeb62"/><rect x="1652" y="342" width="4" height="4" fill="#b7ea22"/><rect x="1656" y="342" width="4" height="4" fill="#f1a905"/><rect x="1660" y="342" width="4" height="4" fill="#f0ce02"/><rect x="1664" y="342" width="4" height="4" fill="#f0d601"/><rect x="1668" y="342" width="4" height="4" fill="#f0c603"/><rect x="1672" y="342" width="4" height="4" fill="#f0db00"/><rect x="1676" y="342" width="4" height="4" fill="#f0bb04"/><rect x="1680" y="342" width="4" height="4" fill="#f18409"/><rect x="1524" y="346" width="4" height="4" fill="#f17a0a"/><rect x="1528" y="346" width="4" height="4" fill="#f18809"/><rect x="1532" y="346" width="4" height="4" fill="#ec460a"/><rect x="1536" y="346" width="4" height="4" fill="#f1a106"/><rect x="1540" y="346" width="4" height="4" fill="#2d60d4"/><rect x="1544" y="346" width="4" height="4" fill="#2d5ad5"/><rect x="1548" y="346" width="4" height="4" fill="#ed570a"/><rect x="1552" y="346" width="4" height="4" fill="#e8220a"/><rect x="1556" y="346" width="4" height="4" fill="#32e076"/><rect x="1560" y="346" width="4" height="4" fill="#35e370"/><rect x="1564" y="346" width="4" height="4" fill="#66eb4d"/><rect x="1568" y="346" width="4" height="4" fill="#87eb3c"/><rect x="1572" y="346" width="4" height="4" fill="#78eb44"/><rect x="1576" y="346" width="4" height="4" fill="#69eb4c"/><rect x="1580" y="346" width="4" height="4" fill="#91eb37"/><rect x="1584" y="346" width="4" height="4" fill="#f0dc00"/><rect x="1588" y="346" width="4" height="4" fill="#32e076"/><rect x="1592" y="346" width="4" height="4" fill="#dae60d"/><rect x="1596" y="346" width="4" height="4" fill="#7eeb41"/><rect x="1600" y="346" width="4" height="4" fill="#7beb42"/><rect x="1604" y="346" width="4" height="4" fill="#f18d08"/><rect x="1608" y="346" width="4" height="4" fill="#e92a0a"/><rect x="1612" y="346" width="4" height="4" fill="#f0b804"/><rect x="1616" y="346" width="4" height="4" fill="#f19f07"/><rect x="1620" y="346" width="4" height="4" fill="#f1a406"/><rect x="1624" y="346" width="4" height="4" fill="#f0bb04"/><rect x="1628" y="346" width="4" height="4" fill="#ed560a"/><rect x="1632" y="346" width="4" height="4" fill="#d30702"/><rect x="1636" y="346" width="4" height="4" fill="#f0d201"/><rect x="1640" y="346" width="4" height="4" fill="#2d70d2"/><rect x="1644" y="346" width="4" height="4" fill="#2d6ed3"/><rect x="1648" y="346" width="4" height="4" fill="#3ae966"/><rect x="1652" y="346" width="4" height="4" fill="#d6e60f"/><rect x="1656" y="346" width="4" height="4" fill="#e5e506"/><rect x="1660" y="346" width="4" height="4" fill="#f18a09"/><rect x="1664" y="346" width="4" height="4" fill="#f0bf03"/><rect x="1668" y="346" width="4" height="4" fill="#f0c103"/><rect x="1672" y="346" width="4" height="4" fill="#77eb44"/><rect x="1676" y="346" width="4" height="4" fill="#f0c503"/><rect x="1680" y="346" width="4" height="4" fill="#79eb44"/><rect x="1524" y="350" width="4" height="4" fill="#f18209"/><rect x="1528" y="350" width="4" height="4" fill="#e8270a"/><rect x="1532" y="350" width="4" height="4" fill="#ebe403"/><rect x="1536" y="350" width="4" height="4" fill="#ec4d0a"/><rect x="1540" y="350" width="4" height="4" fill="#2d57d6"/><rect x="1544" y="350" width="4" height="4" fill="#2d50d7"/><rect x="1548" y="350" width="4" height="4" fill="#ef650a"/><rect x="1552" y="350" width="4" height="4" fill="#eb400a"/><rect x="1556" y="350" width="4" height="4" fill="#2dda81"/><rect x="1560" y="350" width="4" height="4" fill="#51eb58"/><rect x="1564" y="350" width="4" height="4" fill="#c9e817"/><rect x="1568" y="350" width="4" height="4" fill="#c0e91d"/><rect x="1572" y="350" width="4" height="4" fill="#82eb3f"/><rect x="1576" y="350" width="4" height="4" fill="#2edb7e"/><rect x="1580" y="350" width="4" height="4" fill="#77eb44"/><rect x="1584" y="350" width="4" height="4" fill="#34e272"/><rect x="1588" y="350" width="4" height="4" fill="#22cc97"/><rect x="1592" y="350" width="4" height="4" fill="#29d589"/><rect x="1596" y="350" width="4" height="4" fill="#26d18f"/><rect x="1600" y="350" width="4" height="4" fill="#f0ba04"/><rect x="1604" y="350" width="4" height="4" fill="#e92b0a"/><rect x="1608" y="350" width="4" height="4" fill="#f0ba04"/><rect x="1612" y="350" width="4" height="4" fill="#f19108"/><rect x="1616" y="350" width="4" height="4" fill="#f17b0a"/><rect x="1620" y="350" width="4" height="4" fill="#ec470a"/><rect x="1624" y="350" width="4" height="4" fill="#e92c0a"/><rect x="1628" y="350" width="4" height="4" fill="#ec490a"/><rect x="1632" y="350" width="4" height="4" fill="#f1af05"/><rect x="1636" y="350" width="4" height="4" fill="#2fdc7d"/><rect x="1640" y="350" width="4" height="4" fill="#1fc0a4"/><rect x="1644" y="350" width="4" height="4" fill="#3ae967"/><rect x="1648" y="350" width="4" height="4" fill="#8feb38"/><rect x="1652" y="350" width="4" height="4" fill="#f0c403"/><rect x="1656" y="350" width="4" height="4" fill="#f0ca02"/><rect x="1660" y="350" width="4" height="4" fill="#aceb29"/><rect x="1664" y="350" width="4" height="4" fill="#f0cf02"/><rect x="1668" y="350" width="4" height="4" fill="#cee714"/><rect x="1672" y="350" width="4" height="4" fill="#f0b304"/><rect x="1676" y="350" width="4" height="4" fill="#dbe60c"/><rect x="1680" y="350" width="4" height="4" fill="#e8e404"/><rect x="1524" y="354" width="4" height="4" fill="#f18a09"/><rect x="1528" y="354" width="4" height="4" fill="#ef690a"/><rect x="1532" y="354" width="4" height="4" fill="#ec4a0a"/><rect x="1536" y="354" width="4" height="4" fill="#f0710a"/><rect x="1540" y="354" width="4" height="4" fill="#2d69d3"/><rect x="1544" y="354" width="4" height="4" fill="#2d50d6"/><rect x="1548" y="354" width="4" height="4" fill="#f1ab05"/><rect x="1552" y="354" width="4" height="4" fill="#eb410a"/><rect x="1556" y="354" width="4" height="4" fill="#35e371"/><rect x="1560" y="354" width="4" height="4" fill="#8ceb3a"/><rect x="1564" y="354" width="4" height="4" fill="#38e66b"/><rect x="1568" y="354" width="4" height="4" fill="#8ceb39"/><rect x="1572" y="354" width="4" height="4" fill="#d7e60e"/><rect x="1576" y="354" width="4" height="4" fill="#2dda80"/><rect x="1580" y="354" width="4" height="4" fill="#38e66a"/><rect x="1584" y="354" width="4" height="4" fill="#c8e818"/><rect x="1588" y="354" width="4" height="4" fill="#f0e200"/><rect x="1592" y="354" width="4" height="4" fill="#92eb36"/><rect x="1596" y="354" width="4" height="4" fill="#c6e819"/><rect x="1600" y="354" width="4" height="4" fill="#f06e0a"/><rect x="1604" y="354" width="4" height="4" fill="#f19e07"/><rect x="1608" y="354" width="4" height="4" fill="#f0c503"/><rect x="1612" y="354" width="4" height="4" fill="#f06e0a"/><rect x="1616" y="354" width="4" height="4" fill="#f0c103"/><rect x="1620" y="354" width="4" height="4" fill="#f0b704"/><rect x="1624" y="354" width="4" height="4" fill="#ef6a0a"/><rect x="1628" y="354" width="4" height="4" fill="#e9280a"/><rect x="1632" y="354" width="4" height="4" fill="#22aeaf"/><rect x="1636" y="354" width="4" height="4" fill="#2b7ecd"/><rect x="1640" y="354" width="4" height="4" fill="#2890c2"/><rect x="1644" y="354" width="4" height="4" fill="#82eb3f"/><rect x="1648" y="354" width="4" height="4" fill="#f0d101"/><rect x="1652" y="354" width="4" height="4" fill="#e3e507"/><rect x="1656" y="354" width="4" height="4" fill="#f0710a"/><rect x="1660" y="354" width="4" height="4" fill="#f0ba04"/><rect x="1664" y="354" width="4" height="4" fill="#f0b504"/><rect x="1668" y="354" width="4" height="4" fill="#95eb35"/><rect x="1672" y="354" width="4" height="4" fill="#cde715"/><rect x="1676" y="354" width="4" height="4" fill="#ed500a"/><rect x="1680" y="354" width="4" height="4" fill="#8deb39"/><rect x="1524" y="358" width="4" height="4" fill="#ed510a"/><rect x="1528" y="358" width="4" height="4" fill="#f1a606"/><rect x="1532" y="358" width="4" height="4" fill="#ef680a"/><rect x="1536" y="358" width="4" height="4" fill="#f18d08"/><rect x="1540" y="358" width="4" height="4" fill="#2d57d6"/><rect x="1544" y="358" width="4" height="4" fill="#2d5ed5"/><rect x="1548" y="358" width="4" height="4" fill="#ec4f0a"/><rect x="1552" y="358" width="4" height="4" fill="#f0c203"/><rect x="1556" y="358" width="4" height="4" fill="#39e769"/><rect x="1560" y="358" width="4" height="4" fill="#59eb54"/><rect x="1564" y="358" width="4" height="4" fill="#33e175"/><rect x="1568" y="358" width="4" height="4" fill="#90eb37"/><rect x="1572" y="358" width="4" height="4" fill="#1ec6a1"/><rect x="1576" y="358" width="4" height="4" fill="#3eeb62"/><rect x="1580" y="358" width="4" height="4" fill="#39e868"/><rect x="1584" y="358" width="4" height="4" fill="#3ae867"/><rect x="1588" y="358" width="4" height="4" fill="#b4ea24"/><rect x="1592" y="358" width="4" height="4" fill="#c4e81a"/><rect x="1596" y="358" width="4" height="4" fill="#f18c08"/><rect x="1600" y="358" width="4" height="4" fill="#f19308"/><rect x="1604" y="358" width="4" height="4" fill="#f0c003"/><rect x="1608" y="358" width="4" height="4" fill="#f19707"/><rect x="1612" y="358" width="4" height="4" fill="#ec480a"/><rect x="1616" y="358" width="4" height="4" fill="#f19b07"/><rect x="1620" y="358" width="4" height="4" fill="#f1a806"/><rect x="1624" y="358" width="4" height="4" fill="#f1b005"/><rect x="1628" y="358" width="4" height="4" fill="#2d60d4"/><rect x="1632" y="358" width="4" height="4" fill="#2b7ecd"/><rect x="1636" y="358" width="4" height="4" fill="#30dd7b"/><rect x="1640" y="358" width="4" height="4" fill="#f19c07"/><rect x="1644" y="358" width="4" height="4" fill="#f0b404"/><rect x="1648" y="358" width="4" height="4" fill="#eb400a"/><rect x="1652" y="358" width="4" height="4" fill="#f0b404"/><rect x="1656" y="358" width="4" height="4" fill="#ef6a0a"/><rect x="1660" y="358" width="4" height="4" fill="#f0c603"/><rect x="1664" y="358" width="4" height="4" fill="#e6e405"/><rect x="1668" y="358" width="4" height="4" fill="#f0d901"/><rect x="1672" y="358" width="4" height="4" fill="#ed520a"/><rect x="1676" y="358" width="4" height="4" fill="#f0b904"/><rect x="1680" y="358" width="4" height="4" fill="#f0bc03"/></g></g>
<text x="1606.2" y="384.6" font-size="34.7" font-weight="bold" text-anchor="middle" fill="#000">CpR_graph()</text>
<g font-size="18.7" text-anchor="middle" fill="#111"><text x="1606.5" y="422.6">makes a line-graph for the models predicted</text><text x="1606.5" y="445">through <tspan font-weight="bold">CpB()</tspan> function <tspan font-weight="bold">(a)</tspan>, coloring the lines</text><text x="1606.5" y="467.3">based on their Cpβ rate. Cpβ rate is mapped if</text><text x="1606.5" y="489.6">a shape is provided on “map” argument <tspan font-weight="bold">(b)</tspan>.</text></g>
</svg></body></html>
